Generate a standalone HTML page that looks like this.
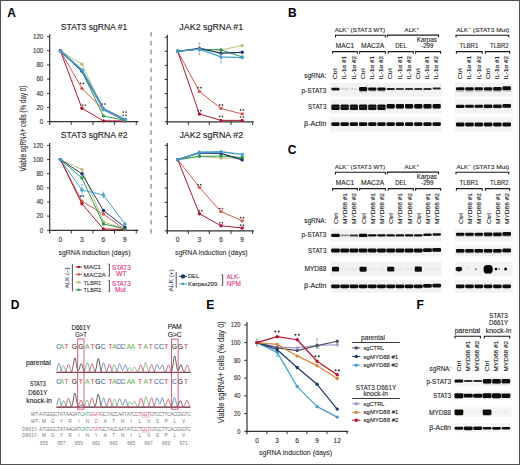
<!DOCTYPE html>
<html><head><meta charset="utf-8"><style>
html,body{margin:0;padding:0;background:#fff;}
svg{display:block;}
text{font-family:"Liberation Sans", sans-serif;}
</style></head><body>
<svg width="520" height="465" viewBox="0 0 520 465">
<defs><filter id="bl" x="-20%" y="-50%" width="140%" height="200%"><feGaussianBlur stdDeviation="0.35"/></filter><linearGradient id="sm" x1="0" y1="0" x2="0" y2="1"><stop offset="0" stop-color="#222" stop-opacity="0.7"/><stop offset="1" stop-color="#222" stop-opacity="0"/></linearGradient><filter id="bl2" x="-5%" y="-20%" width="110%" height="140%"><feGaussianBlur stdDeviation="0.6"/></filter></defs>
<rect x="0" y="0" width="520" height="465" fill="#fff"/>
<text x="7.20" y="17.00" font-size="12" fill="#000" font-weight="bold">A</text>
<text x="288.00" y="17.00" font-size="12" fill="#000" font-weight="bold">B</text>
<text x="287.80" y="154.30" font-size="12" fill="#000" font-weight="bold">C</text>
<text x="10.70" y="308.80" font-size="12" fill="#000" font-weight="bold">D</text>
<text x="206.30" y="308.80" font-size="12" fill="#000" font-weight="bold">E</text>
<text x="416.50" y="308.80" font-size="12" fill="#000" font-weight="bold">F</text>
<line x1="49.70" y1="34.22" x2="49.70" y2="124.90" stroke="#333" stroke-width="1.2"/>
<line x1="49.10" y1="121.70" x2="138.40" y2="121.70" stroke="#333" stroke-width="1.2"/>
<line x1="47.10" y1="121.70" x2="49.70" y2="121.70" stroke="#231f20" stroke-width="0.9"/>
<text x="43.30" y="123.90" font-size="6.4" text-anchor="end" fill="#333" stroke="#333" stroke-width="0.12" textLength="3.43" lengthAdjust="spacingAndGlyphs">0</text>
<line x1="47.10" y1="107.52" x2="49.70" y2="107.52" stroke="#231f20" stroke-width="0.9"/>
<text x="43.30" y="109.72" font-size="6.4" text-anchor="end" fill="#333" stroke="#333" stroke-width="0.12" textLength="6.86" lengthAdjust="spacingAndGlyphs">20</text>
<line x1="47.10" y1="93.34" x2="49.70" y2="93.34" stroke="#231f20" stroke-width="0.9"/>
<text x="43.30" y="95.54" font-size="6.4" text-anchor="end" fill="#333" stroke="#333" stroke-width="0.12" textLength="6.86" lengthAdjust="spacingAndGlyphs">40</text>
<line x1="47.10" y1="79.16" x2="49.70" y2="79.16" stroke="#231f20" stroke-width="0.9"/>
<text x="43.30" y="81.36" font-size="6.4" text-anchor="end" fill="#333" stroke="#333" stroke-width="0.12" textLength="6.86" lengthAdjust="spacingAndGlyphs">60</text>
<line x1="47.10" y1="64.98" x2="49.70" y2="64.98" stroke="#231f20" stroke-width="0.9"/>
<text x="43.30" y="67.18" font-size="6.4" text-anchor="end" fill="#333" stroke="#333" stroke-width="0.12" textLength="6.86" lengthAdjust="spacingAndGlyphs">80</text>
<line x1="47.10" y1="50.80" x2="49.70" y2="50.80" stroke="#231f20" stroke-width="0.9"/>
<text x="43.30" y="53.00" font-size="6.4" text-anchor="end" fill="#333" stroke="#333" stroke-width="0.12" textLength="10.29" lengthAdjust="spacingAndGlyphs">100</text>
<line x1="47.10" y1="36.62" x2="49.70" y2="36.62" stroke="#231f20" stroke-width="0.9"/>
<text x="43.30" y="38.82" font-size="6.4" text-anchor="end" fill="#333" stroke="#333" stroke-width="0.12" textLength="10.29" lengthAdjust="spacingAndGlyphs">120</text>
<line x1="71.30" y1="121.70" x2="71.30" y2="124.90" stroke="#231f20" stroke-width="0.9"/>
<line x1="92.90" y1="121.70" x2="92.90" y2="124.90" stroke="#231f20" stroke-width="0.9"/>
<line x1="114.50" y1="121.70" x2="114.50" y2="124.90" stroke="#231f20" stroke-width="0.9"/>
<line x1="136.30" y1="121.70" x2="136.30" y2="124.90" stroke="#231f20" stroke-width="0.9"/>
<polyline points="60.40,50.80 81.90,88.38 103.40,109.65 124.90,120.64" fill="none" stroke="#d25a52" stroke-width="1.0" stroke-linejoin="round"/>
<circle cx="60.40" cy="50.80" r="1.7" fill="#d25a52"/>
<circle cx="81.90" cy="88.38" r="1.7" fill="#d25a52"/>
<circle cx="103.40" cy="109.65" r="1.7" fill="#d25a52"/>
<circle cx="124.90" cy="120.64" r="1.7" fill="#d25a52"/>
<polyline points="60.40,50.80 81.90,108.23 103.40,120.85 124.90,120.99" fill="none" stroke="#ac1832" stroke-width="1.0" stroke-linejoin="round"/>
<circle cx="60.40" cy="50.80" r="1.7" fill="#ac1832"/>
<circle cx="81.90" cy="108.23" r="1.7" fill="#ac1832"/>
<circle cx="103.40" cy="120.85" r="1.7" fill="#ac1832"/>
<circle cx="124.90" cy="120.99" r="1.7" fill="#ac1832"/>
<polyline points="60.40,50.80 81.90,64.27 103.40,109.65 124.90,120.28" fill="none" stroke="#bcc07a" stroke-width="1.0" stroke-linejoin="round"/>
<circle cx="60.40" cy="50.80" r="1.7" fill="#bcc07a"/>
<circle cx="81.90" cy="64.27" r="1.7" fill="#bcc07a"/>
<circle cx="103.40" cy="109.65" r="1.7" fill="#bcc07a"/>
<circle cx="124.90" cy="120.28" r="1.7" fill="#bcc07a"/>
<polyline points="60.40,50.80 81.90,71.36 103.40,116.03 124.90,120.28" fill="none" stroke="#2f9a50" stroke-width="1.0" stroke-linejoin="round"/>
<circle cx="60.40" cy="50.80" r="1.7" fill="#2f9a50"/>
<circle cx="81.90" cy="71.36" r="1.7" fill="#2f9a50"/>
<circle cx="103.40" cy="116.03" r="1.7" fill="#2f9a50"/>
<circle cx="124.90" cy="120.28" r="1.7" fill="#2f9a50"/>
<polyline points="60.40,50.80 81.90,70.65 103.40,108.94 124.90,119.57" fill="none" stroke="#1c3a6c" stroke-width="1.6" stroke-linejoin="round"/>
<circle cx="60.40" cy="50.80" r="1.7" fill="#1c3a6c"/>
<circle cx="81.90" cy="70.65" r="1.7" fill="#1c3a6c"/>
<circle cx="103.40" cy="108.94" r="1.7" fill="#1c3a6c"/>
<circle cx="124.90" cy="119.57" r="1.7" fill="#1c3a6c"/>
<polyline points="60.40,50.80 81.90,69.94 103.40,108.94 124.90,119.57" fill="none" stroke="#47a0d2" stroke-width="1.6" stroke-linejoin="round"/>
<circle cx="60.40" cy="50.80" r="1.7" fill="#47a0d2"/>
<circle cx="81.90" cy="69.94" r="1.7" fill="#47a0d2"/>
<circle cx="103.40" cy="108.94" r="1.7" fill="#47a0d2"/>
<circle cx="124.90" cy="119.57" r="1.7" fill="#47a0d2"/>
<circle cx="82.60" cy="105.00" r="0.85" fill="#4a3038"/><circle cx="85.40" cy="105.00" r="0.85" fill="#4a3038"/>
<circle cx="80.60" cy="83.40" r="0.85" fill="#4a3038"/><circle cx="83.40" cy="83.40" r="0.85" fill="#4a3038"/>
<circle cx="102.10" cy="104.00" r="0.85" fill="#4a3038"/><circle cx="104.90" cy="104.00" r="0.85" fill="#4a3038"/>
<circle cx="123.20" cy="112.00" r="0.85" fill="#4a3038"/><circle cx="126.00" cy="112.00" r="0.85" fill="#4a3038"/>
<circle cx="123.20" cy="115.30" r="0.85" fill="#4a3038"/><circle cx="126.00" cy="115.30" r="0.85" fill="#4a3038"/>
<text x="60.80" y="29.50" font-size="9.0" fill="#222" stroke="#222" stroke-width="0.12" textLength="66.50" lengthAdjust="spacingAndGlyphs">STAT3 sgRNA #1</text>
<line x1="49.70" y1="143.06" x2="49.70" y2="233.50" stroke="#333" stroke-width="1.2"/>
<line x1="49.10" y1="230.30" x2="138.40" y2="230.30" stroke="#333" stroke-width="1.2"/>
<line x1="47.10" y1="230.30" x2="49.70" y2="230.30" stroke="#231f20" stroke-width="0.9"/>
<text x="43.30" y="232.50" font-size="6.4" text-anchor="end" fill="#333" stroke="#333" stroke-width="0.12" textLength="3.43" lengthAdjust="spacingAndGlyphs">0</text>
<line x1="47.10" y1="216.16" x2="49.70" y2="216.16" stroke="#231f20" stroke-width="0.9"/>
<text x="43.30" y="218.36" font-size="6.4" text-anchor="end" fill="#333" stroke="#333" stroke-width="0.12" textLength="6.86" lengthAdjust="spacingAndGlyphs">20</text>
<line x1="47.10" y1="202.02" x2="49.70" y2="202.02" stroke="#231f20" stroke-width="0.9"/>
<text x="43.30" y="204.22" font-size="6.4" text-anchor="end" fill="#333" stroke="#333" stroke-width="0.12" textLength="6.86" lengthAdjust="spacingAndGlyphs">40</text>
<line x1="47.10" y1="187.88" x2="49.70" y2="187.88" stroke="#231f20" stroke-width="0.9"/>
<text x="43.30" y="190.08" font-size="6.4" text-anchor="end" fill="#333" stroke="#333" stroke-width="0.12" textLength="6.86" lengthAdjust="spacingAndGlyphs">60</text>
<line x1="47.10" y1="173.74" x2="49.70" y2="173.74" stroke="#231f20" stroke-width="0.9"/>
<text x="43.30" y="175.94" font-size="6.4" text-anchor="end" fill="#333" stroke="#333" stroke-width="0.12" textLength="6.86" lengthAdjust="spacingAndGlyphs">80</text>
<line x1="47.10" y1="159.60" x2="49.70" y2="159.60" stroke="#231f20" stroke-width="0.9"/>
<text x="43.30" y="161.80" font-size="6.4" text-anchor="end" fill="#333" stroke="#333" stroke-width="0.12" textLength="10.29" lengthAdjust="spacingAndGlyphs">100</text>
<line x1="47.10" y1="145.46" x2="49.70" y2="145.46" stroke="#231f20" stroke-width="0.9"/>
<text x="43.30" y="147.66" font-size="6.4" text-anchor="end" fill="#333" stroke="#333" stroke-width="0.12" textLength="10.29" lengthAdjust="spacingAndGlyphs">120</text>
<line x1="71.30" y1="230.30" x2="71.30" y2="233.50" stroke="#231f20" stroke-width="0.9"/>
<line x1="92.90" y1="230.30" x2="92.90" y2="233.50" stroke="#231f20" stroke-width="0.9"/>
<line x1="114.50" y1="230.30" x2="114.50" y2="233.50" stroke="#231f20" stroke-width="0.9"/>
<line x1="136.30" y1="230.30" x2="136.30" y2="233.50" stroke="#231f20" stroke-width="0.9"/>
<polyline points="60.40,159.60 81.90,201.31 103.40,214.04 124.90,229.59" fill="none" stroke="#d25a52" stroke-width="1.0" stroke-linejoin="round"/>
<circle cx="60.40" cy="159.60" r="1.7" fill="#d25a52"/>
<circle cx="81.90" cy="201.31" r="1.7" fill="#d25a52"/>
<circle cx="103.40" cy="214.04" r="1.7" fill="#d25a52"/>
<circle cx="124.90" cy="229.59" r="1.7" fill="#d25a52"/>
<polyline points="60.40,159.60 81.90,203.79 103.40,228.89 124.90,229.59" fill="none" stroke="#ac1832" stroke-width="1.0" stroke-linejoin="round"/>
<circle cx="60.40" cy="159.60" r="1.7" fill="#ac1832"/>
<circle cx="81.90" cy="203.79" r="1.7" fill="#ac1832"/>
<circle cx="103.40" cy="228.89" r="1.7" fill="#ac1832"/>
<circle cx="124.90" cy="229.59" r="1.7" fill="#ac1832"/>
<polyline points="60.40,159.60 81.90,169.50 103.40,221.82 124.90,228.89" fill="none" stroke="#bcc07a" stroke-width="1.0" stroke-linejoin="round"/>
<circle cx="60.40" cy="159.60" r="1.7" fill="#bcc07a"/>
<circle cx="81.90" cy="169.50" r="1.7" fill="#bcc07a"/>
<circle cx="103.40" cy="221.82" r="1.7" fill="#bcc07a"/>
<circle cx="124.90" cy="228.89" r="1.7" fill="#bcc07a"/>
<polyline points="60.40,159.60 81.90,177.98 103.40,223.94 124.90,228.89" fill="none" stroke="#2f9a50" stroke-width="1.0" stroke-linejoin="round"/>
<circle cx="60.40" cy="159.60" r="1.7" fill="#2f9a50"/>
<circle cx="81.90" cy="177.98" r="1.7" fill="#2f9a50"/>
<circle cx="103.40" cy="223.94" r="1.7" fill="#2f9a50"/>
<circle cx="124.90" cy="228.89" r="1.7" fill="#2f9a50"/>
<polyline points="60.40,159.60 81.90,173.74 103.40,210.50 124.90,227.12" fill="none" stroke="#1c3a6c" stroke-width="1.0" stroke-linejoin="round"/>
<circle cx="60.40" cy="159.60" r="1.7" fill="#1c3a6c"/>
<circle cx="81.90" cy="173.74" r="1.7" fill="#1c3a6c"/>
<circle cx="103.40" cy="210.50" r="1.7" fill="#1c3a6c"/>
<circle cx="124.90" cy="227.12" r="1.7" fill="#1c3a6c"/>
<polyline points="60.40,159.60 81.90,190.00 103.40,194.95 124.90,223.94" fill="none" stroke="#47a0d2" stroke-width="1.0" stroke-linejoin="round"/>
<circle cx="60.40" cy="159.60" r="1.7" fill="#47a0d2"/>
<circle cx="81.90" cy="190.00" r="1.7" fill="#47a0d2"/>
<circle cx="103.40" cy="194.95" r="1.7" fill="#47a0d2"/>
<circle cx="124.90" cy="223.94" r="1.7" fill="#47a0d2"/>
<circle cx="80.50" cy="196.20" r="0.85" fill="#4a3038"/><circle cx="83.30" cy="196.20" r="0.85" fill="#4a3038"/>
<line x1="81.90" y1="195.66" x2="81.90" y2="184.34" stroke="#47a0d2" stroke-width="0.6"/>
<line x1="80.90" y1="195.66" x2="82.90" y2="195.66" stroke="#47a0d2" stroke-width="0.6"/>
<line x1="80.90" y1="184.34" x2="82.90" y2="184.34" stroke="#47a0d2" stroke-width="0.6"/>
<line x1="103.40" y1="197.78" x2="103.40" y2="192.12" stroke="#47a0d2" stroke-width="0.6"/>
<line x1="102.40" y1="197.78" x2="104.40" y2="197.78" stroke="#47a0d2" stroke-width="0.6"/>
<line x1="102.40" y1="192.12" x2="104.40" y2="192.12" stroke="#47a0d2" stroke-width="0.6"/>
<text x="60.80" y="137.60" font-size="9.0" fill="#222" stroke="#222" stroke-width="0.12" textLength="66.80" lengthAdjust="spacingAndGlyphs">STAT3 sgRNA #2</text>
<line x1="167.30" y1="34.80" x2="167.30" y2="125.00" stroke="#333" stroke-width="1.2"/>
<line x1="166.70" y1="121.80" x2="253.80" y2="121.80" stroke="#333" stroke-width="1.2"/>
<line x1="164.70" y1="121.80" x2="167.30" y2="121.80" stroke="#231f20" stroke-width="0.9"/>
<line x1="164.70" y1="107.70" x2="167.30" y2="107.70" stroke="#231f20" stroke-width="0.9"/>
<line x1="164.70" y1="93.60" x2="167.30" y2="93.60" stroke="#231f20" stroke-width="0.9"/>
<line x1="164.70" y1="79.50" x2="167.30" y2="79.50" stroke="#231f20" stroke-width="0.9"/>
<line x1="164.70" y1="65.40" x2="167.30" y2="65.40" stroke="#231f20" stroke-width="0.9"/>
<line x1="164.70" y1="51.30" x2="167.30" y2="51.30" stroke="#231f20" stroke-width="0.9"/>
<line x1="164.70" y1="37.20" x2="167.30" y2="37.20" stroke="#231f20" stroke-width="0.9"/>
<line x1="188.30" y1="121.80" x2="188.30" y2="125.00" stroke="#231f20" stroke-width="0.9"/>
<line x1="209.30" y1="121.80" x2="209.30" y2="125.00" stroke="#231f20" stroke-width="0.9"/>
<line x1="231.00" y1="121.80" x2="231.00" y2="125.00" stroke="#231f20" stroke-width="0.9"/>
<line x1="252.60" y1="121.80" x2="252.60" y2="125.00" stroke="#231f20" stroke-width="0.9"/>
<polyline points="177.70,51.30 199.40,91.48 221.00,108.41 242.20,114.05" fill="none" stroke="#d25a52" stroke-width="1.0" stroke-linejoin="round"/>
<circle cx="177.70" cy="51.30" r="1.7" fill="#d25a52"/>
<circle cx="199.40" cy="91.48" r="1.7" fill="#d25a52"/>
<circle cx="221.00" cy="108.41" r="1.7" fill="#d25a52"/>
<circle cx="242.20" cy="114.05" r="1.7" fill="#d25a52"/>
<polyline points="177.70,51.30 199.40,114.05 221.00,120.39 242.20,120.39" fill="none" stroke="#ac1832" stroke-width="1.0" stroke-linejoin="round"/>
<circle cx="177.70" cy="51.30" r="1.7" fill="#ac1832"/>
<circle cx="199.40" cy="114.05" r="1.7" fill="#ac1832"/>
<circle cx="221.00" cy="120.39" r="1.7" fill="#ac1832"/>
<circle cx="242.20" cy="120.39" r="1.7" fill="#ac1832"/>
<polyline points="177.70,51.30 199.40,49.19 221.00,49.89 242.20,45.66" fill="none" stroke="#bcc07a" stroke-width="1.0" stroke-linejoin="round"/>
<circle cx="177.70" cy="51.30" r="1.7" fill="#bcc07a"/>
<circle cx="199.40" cy="49.19" r="1.7" fill="#bcc07a"/>
<circle cx="221.00" cy="49.89" r="1.7" fill="#bcc07a"/>
<circle cx="242.20" cy="45.66" r="1.7" fill="#bcc07a"/>
<polyline points="177.70,51.30 199.40,49.19 221.00,49.89 242.20,56.94" fill="none" stroke="#2f9a50" stroke-width="1.0" stroke-linejoin="round"/>
<circle cx="177.70" cy="51.30" r="1.7" fill="#2f9a50"/>
<circle cx="199.40" cy="49.19" r="1.7" fill="#2f9a50"/>
<circle cx="221.00" cy="49.89" r="1.7" fill="#2f9a50"/>
<circle cx="242.20" cy="56.94" r="1.7" fill="#2f9a50"/>
<polyline points="177.70,51.30 199.40,48.48 221.00,53.13 242.20,52.29" fill="none" stroke="#1c3a6c" stroke-width="1.3" stroke-linejoin="round"/>
<circle cx="177.70" cy="51.30" r="1.7" fill="#1c3a6c"/>
<circle cx="199.40" cy="48.48" r="1.7" fill="#1c3a6c"/>
<circle cx="221.00" cy="53.13" r="1.7" fill="#1c3a6c"/>
<circle cx="242.20" cy="52.29" r="1.7" fill="#1c3a6c"/>
<polyline points="177.70,51.30 199.40,49.19 221.00,56.94 242.20,57.64" fill="none" stroke="#47a0d2" stroke-width="1.3" stroke-linejoin="round"/>
<circle cx="177.70" cy="51.30" r="1.7" fill="#47a0d2"/>
<circle cx="199.40" cy="49.19" r="1.7" fill="#47a0d2"/>
<circle cx="221.00" cy="56.94" r="1.7" fill="#47a0d2"/>
<circle cx="242.20" cy="57.64" r="1.7" fill="#47a0d2"/>
<circle cx="198.10" cy="87.70" r="0.85" fill="#4a3038"/><circle cx="200.90" cy="87.70" r="0.85" fill="#4a3038"/>
<circle cx="198.10" cy="110.70" r="0.85" fill="#4a3038"/><circle cx="200.90" cy="110.70" r="0.85" fill="#4a3038"/>
<circle cx="219.60" cy="104.90" r="0.85" fill="#4a3038"/><circle cx="222.40" cy="104.90" r="0.85" fill="#4a3038"/>
<circle cx="219.60" cy="116.30" r="0.85" fill="#4a3038"/><circle cx="222.40" cy="116.30" r="0.85" fill="#4a3038"/>
<circle cx="240.60" cy="109.90" r="0.85" fill="#4a3038"/><circle cx="243.40" cy="109.90" r="0.85" fill="#4a3038"/>
<circle cx="240.60" cy="117.00" r="0.85" fill="#4a3038"/><circle cx="243.40" cy="117.00" r="0.85" fill="#4a3038"/>
<line x1="199.40" y1="54.83" x2="199.40" y2="42.84" stroke="#888" stroke-width="0.6"/>
<line x1="198.40" y1="54.83" x2="200.40" y2="54.83" stroke="#888" stroke-width="0.6"/>
<line x1="198.40" y1="42.84" x2="200.40" y2="42.84" stroke="#888" stroke-width="0.6"/>
<line x1="221.00" y1="62.58" x2="221.00" y2="53.42" stroke="#47a0d2" stroke-width="0.6"/>
<line x1="220.00" y1="62.58" x2="222.00" y2="62.58" stroke="#47a0d2" stroke-width="0.6"/>
<line x1="220.00" y1="53.42" x2="222.00" y2="53.42" stroke="#47a0d2" stroke-width="0.6"/>
<text x="179.30" y="29.50" font-size="9.0" fill="#222" stroke="#222" stroke-width="0.12" textLength="64.00" lengthAdjust="spacingAndGlyphs">JAK2 sgRNA #1</text>
<line x1="167.30" y1="142.96" x2="167.30" y2="234.00" stroke="#333" stroke-width="1.2"/>
<line x1="166.70" y1="230.80" x2="253.80" y2="230.80" stroke="#333" stroke-width="1.2"/>
<line x1="164.70" y1="230.80" x2="167.30" y2="230.80" stroke="#231f20" stroke-width="0.9"/>
<line x1="164.70" y1="216.56" x2="167.30" y2="216.56" stroke="#231f20" stroke-width="0.9"/>
<line x1="164.70" y1="202.32" x2="167.30" y2="202.32" stroke="#231f20" stroke-width="0.9"/>
<line x1="164.70" y1="188.08" x2="167.30" y2="188.08" stroke="#231f20" stroke-width="0.9"/>
<line x1="164.70" y1="173.84" x2="167.30" y2="173.84" stroke="#231f20" stroke-width="0.9"/>
<line x1="164.70" y1="159.60" x2="167.30" y2="159.60" stroke="#231f20" stroke-width="0.9"/>
<line x1="164.70" y1="145.36" x2="167.30" y2="145.36" stroke="#231f20" stroke-width="0.9"/>
<line x1="188.30" y1="230.80" x2="188.30" y2="234.00" stroke="#231f20" stroke-width="0.9"/>
<line x1="209.30" y1="230.80" x2="209.30" y2="234.00" stroke="#231f20" stroke-width="0.9"/>
<line x1="231.00" y1="230.80" x2="231.00" y2="234.00" stroke="#231f20" stroke-width="0.9"/>
<line x1="252.60" y1="230.80" x2="252.60" y2="234.00" stroke="#231f20" stroke-width="0.9"/>
<polyline points="177.70,159.60 199.40,187.37 221.00,211.58 242.20,220.83" fill="none" stroke="#d25a52" stroke-width="1.0" stroke-linejoin="round"/>
<circle cx="177.70" cy="159.60" r="1.7" fill="#d25a52"/>
<circle cx="199.40" cy="187.37" r="1.7" fill="#d25a52"/>
<circle cx="221.00" cy="211.58" r="1.7" fill="#d25a52"/>
<circle cx="242.20" cy="220.83" r="1.7" fill="#d25a52"/>
<polyline points="177.70,159.60 199.40,213.71 221.00,225.82 242.20,227.95" fill="none" stroke="#ac1832" stroke-width="1.0" stroke-linejoin="round"/>
<circle cx="177.70" cy="159.60" r="1.7" fill="#ac1832"/>
<circle cx="199.40" cy="213.71" r="1.7" fill="#ac1832"/>
<circle cx="221.00" cy="225.82" r="1.7" fill="#ac1832"/>
<circle cx="242.20" cy="227.95" r="1.7" fill="#ac1832"/>
<polyline points="177.70,159.60 199.40,156.47 221.00,158.03 242.20,158.32" fill="none" stroke="#bcc07a" stroke-width="1.0" stroke-linejoin="round"/>
<circle cx="177.70" cy="159.60" r="1.7" fill="#bcc07a"/>
<circle cx="199.40" cy="156.47" r="1.7" fill="#bcc07a"/>
<circle cx="221.00" cy="158.03" r="1.7" fill="#bcc07a"/>
<circle cx="242.20" cy="158.32" r="1.7" fill="#bcc07a"/>
<polyline points="177.70,159.60 199.40,156.32 221.00,156.04 242.20,157.46" fill="none" stroke="#2f9a50" stroke-width="1.0" stroke-linejoin="round"/>
<circle cx="177.70" cy="159.60" r="1.7" fill="#2f9a50"/>
<circle cx="199.40" cy="156.32" r="1.7" fill="#2f9a50"/>
<circle cx="221.00" cy="156.04" r="1.7" fill="#2f9a50"/>
<circle cx="242.20" cy="157.46" r="1.7" fill="#2f9a50"/>
<polyline points="177.70,159.60 199.40,152.98 221.00,153.41 242.20,159.88" fill="none" stroke="#1c3a6c" stroke-width="1.3" stroke-linejoin="round"/>
<circle cx="177.70" cy="159.60" r="1.7" fill="#1c3a6c"/>
<circle cx="199.40" cy="152.98" r="1.7" fill="#1c3a6c"/>
<circle cx="221.00" cy="153.41" r="1.7" fill="#1c3a6c"/>
<circle cx="242.20" cy="159.88" r="1.7" fill="#1c3a6c"/>
<polyline points="177.70,159.60 199.40,152.27 221.00,151.77 242.20,154.40" fill="none" stroke="#47a0d2" stroke-width="1.3" stroke-linejoin="round"/>
<circle cx="177.70" cy="159.60" r="1.7" fill="#47a0d2"/>
<circle cx="199.40" cy="152.27" r="1.7" fill="#47a0d2"/>
<circle cx="221.00" cy="151.77" r="1.7" fill="#47a0d2"/>
<circle cx="242.20" cy="154.40" r="1.7" fill="#47a0d2"/>
<circle cx="198.00" cy="184.70" r="0.85" fill="#4a3038"/><circle cx="200.80" cy="184.70" r="0.85" fill="#4a3038"/>
<circle cx="199.10" cy="210.70" r="0.85" fill="#4a3038"/><circle cx="201.90" cy="210.70" r="0.85" fill="#4a3038"/>
<circle cx="219.60" cy="208.50" r="0.85" fill="#4a3038"/><circle cx="222.40" cy="208.50" r="0.85" fill="#4a3038"/>
<circle cx="219.60" cy="222.80" r="0.85" fill="#4a3038"/><circle cx="222.40" cy="222.80" r="0.85" fill="#4a3038"/>
<circle cx="240.60" cy="217.70" r="0.85" fill="#4a3038"/><circle cx="243.40" cy="217.70" r="0.85" fill="#4a3038"/>
<circle cx="240.60" cy="225.10" r="0.85" fill="#4a3038"/><circle cx="243.40" cy="225.10" r="0.85" fill="#4a3038"/>
<text x="179.40" y="137.60" font-size="9.0" fill="#222" stroke="#222" stroke-width="0.12" textLength="63.70" lengthAdjust="spacingAndGlyphs">JAK2 sgRNA #2</text>
<text x="60.40" y="242.20" font-size="6.6" text-anchor="middle" fill="#333" stroke="#333" stroke-width="0.12">0</text>
<text x="177.70" y="242.20" font-size="6.6" text-anchor="middle" fill="#333" stroke="#333" stroke-width="0.12">0</text>
<text x="81.90" y="242.20" font-size="6.6" text-anchor="middle" fill="#333" stroke="#333" stroke-width="0.12">3</text>
<text x="199.40" y="242.20" font-size="6.6" text-anchor="middle" fill="#333" stroke="#333" stroke-width="0.12">3</text>
<text x="103.40" y="242.20" font-size="6.6" text-anchor="middle" fill="#333" stroke="#333" stroke-width="0.12">6</text>
<text x="221.00" y="242.20" font-size="6.6" text-anchor="middle" fill="#333" stroke="#333" stroke-width="0.12">6</text>
<text x="124.90" y="242.20" font-size="6.6" text-anchor="middle" fill="#333" stroke="#333" stroke-width="0.12">9</text>
<text x="242.20" y="242.20" font-size="6.6" text-anchor="middle" fill="#333" stroke="#333" stroke-width="0.12">9</text>
<text x="58.60" y="254.50" font-size="7.6" fill="#333" stroke="#333" stroke-width="0.12" textLength="72.00" lengthAdjust="spacingAndGlyphs">sgRNA induction (days)</text>
<text x="175.00" y="254.50" font-size="7.6" fill="#333" stroke="#333" stroke-width="0.12" textLength="72.70" lengthAdjust="spacingAndGlyphs">sgRNA induction (days)</text>
<text x="26.00" y="171.40" font-size="8.2" fill="#333" stroke="#333" stroke-width="0.12" textLength="85.80" lengthAdjust="spacingAndGlyphs" transform="rotate(-90 26.00 171.40)">Viable sgRNA+ cells (% day 0)</text>
<line x1="151.10" y1="31.90" x2="151.10" y2="233.40" stroke="#999" stroke-width="1.4" stroke-dasharray="4.6 4.35"/>
<text x="68.70" y="288.60" font-size="5.6" fill="#3f5276" stroke="#3f5276" stroke-width="0.12" textLength="21.10" lengthAdjust="spacingAndGlyphs" transform="rotate(-90 68.70 288.60)">ALK (–)</text>
<line x1="72.40" y1="264.00" x2="72.40" y2="291.40" stroke="#333" stroke-width="0.85"/>
<line x1="75.40" y1="267.00" x2="82.00" y2="267.00" stroke="#ac1832" stroke-width="1"/>
<circle cx="78.7" cy="267" r="1.3" fill="#ac1832"/>
<text x="83.60" y="269.20" font-size="6.2" fill="#333" stroke="#333" stroke-width="0.12" textLength="17.50" lengthAdjust="spacingAndGlyphs">MAC1</text>
<line x1="75.40" y1="274.40" x2="82.00" y2="274.40" stroke="#d25a52" stroke-width="1"/>
<circle cx="78.7" cy="274.4" r="1.3" fill="#d25a52"/>
<text x="83.60" y="276.60" font-size="6.2" fill="#333" stroke="#333" stroke-width="0.12" textLength="22.30" lengthAdjust="spacingAndGlyphs">MAC2A</text>
<line x1="75.40" y1="282.30" x2="82.00" y2="282.30" stroke="#bcc07a" stroke-width="1"/>
<circle cx="78.7" cy="282.3" r="1.3" fill="#bcc07a"/>
<text x="83.60" y="284.50" font-size="6.2" fill="#333" stroke="#333" stroke-width="0.12" textLength="17.50" lengthAdjust="spacingAndGlyphs">TLBR1</text>
<line x1="75.40" y1="289.80" x2="82.00" y2="289.80" stroke="#2f9a50" stroke-width="1"/>
<circle cx="78.7" cy="289.8" r="1.3" fill="#2f9a50"/>
<text x="83.60" y="292.00" font-size="6.2" fill="#333" stroke="#333" stroke-width="0.12" textLength="17.50" lengthAdjust="spacingAndGlyphs">TLBR2</text>
<path d="M108.2 264.1 H109.4 V276.2 H108.2" fill="none" stroke="#333" stroke-width="0.85"/>
<path d="M108.2 280.3 H109.4 V291.6 H108.2" fill="none" stroke="#333" stroke-width="0.85"/>
<text x="111.90" y="269.60" font-size="6.6" fill="#e0388a" stroke="#e0388a" stroke-width="0.12" textLength="18.90" lengthAdjust="spacingAndGlyphs">STAT3</text>
<text x="121.30" y="275.70" font-size="6.6" text-anchor="middle" fill="#e0388a" stroke="#e0388a" stroke-width="0.12" textLength="10.60" lengthAdjust="spacingAndGlyphs">WT</text>
<text x="111.90" y="286.00" font-size="6.6" fill="#e0388a" stroke="#e0388a" stroke-width="0.12" textLength="18.90" lengthAdjust="spacingAndGlyphs">STAT3</text>
<text x="120.50" y="291.60" font-size="6.6" text-anchor="middle" fill="#e0388a" stroke="#e0388a" stroke-width="0.12" textLength="10.80" lengthAdjust="spacingAndGlyphs">Mut</text>
<text x="172.70" y="291.50" font-size="6.0" fill="#3f5276" stroke="#3f5276" stroke-width="0.12" textLength="22.30" lengthAdjust="spacingAndGlyphs" transform="rotate(-90 172.70 291.50)">ALK (+)</text>
<line x1="176.20" y1="272.10" x2="176.20" y2="287.60" stroke="#333" stroke-width="0.85"/>
<line x1="179.20" y1="276.40" x2="187.00" y2="276.40" stroke="#1c3a6c" stroke-width="1"/>
<circle cx="183" cy="276.4" r="2.2" fill="#1c3a6c"/>
<text x="188.00" y="278.40" font-size="6.2" fill="#333" stroke="#333" stroke-width="0.12" textLength="11.10" lengthAdjust="spacingAndGlyphs">DEL</text>
<line x1="179.20" y1="283.90" x2="187.00" y2="283.90" stroke="#47a0d2" stroke-width="1"/>
<circle cx="183" cy="283.9" r="1.4" fill="#47a0d2"/>
<text x="188.00" y="285.90" font-size="6.2" fill="#333" stroke="#333" stroke-width="0.12" textLength="29.30" lengthAdjust="spacingAndGlyphs">Karpas299</text>
<path d="M221.5 274.6 H222.7 V285.6 H221.5" fill="none" stroke="#333" stroke-width="0.85"/>
<text x="226.50" y="279.20" font-size="6.5" fill="#e0388a" stroke="#e0388a" stroke-width="0.12" textLength="13.60" lengthAdjust="spacingAndGlyphs">ALK-</text>
<text x="226.50" y="285.90" font-size="6.5" fill="#e0388a" stroke="#e0388a" stroke-width="0.12" textLength="14.50" lengthAdjust="spacingAndGlyphs">NPM</text>
<rect x="330.00" y="83.00" width="111.60" height="13.60" fill="#f2f2f2" filter="url(#bl2)"/>
<rect x="455.00" y="83.00" width="57.80" height="13.60" fill="#f2f2f2" filter="url(#bl2)"/>
<rect x="330.00" y="99.60" width="111.60" height="13.80" fill="#f2f2f2" filter="url(#bl2)"/>
<rect x="455.00" y="99.60" width="57.80" height="13.80" fill="#f2f2f2" filter="url(#bl2)"/>
<rect x="330.00" y="117.00" width="111.60" height="14.40" fill="#f2f2f2" filter="url(#bl2)"/>
<rect x="455.00" y="117.00" width="57.80" height="14.40" fill="#f2f2f2" filter="url(#bl2)"/>
<rect x="331.70" y="89.00" width="7.60" height="2.30" rx="1" fill="url(#sm)" fill-opacity="1.00" filter="url(#bl)"/>
<rect x="331.40" y="87.70" width="8.20" height="2.60" rx="1.30" ry="1.10" fill="#101010" fill-opacity="1.00" filter="url(#bl)"/>
<rect x="340.60" y="88.30" width="8.20" height="1.40" rx="0.70" ry="0.70" fill="#101010" fill-opacity="0.15" filter="url(#bl)"/>
<rect x="349.80" y="88.30" width="8.20" height="1.40" rx="0.70" ry="0.70" fill="#101010" fill-opacity="0.12" filter="url(#bl)"/>
<rect x="359.30" y="89.00" width="7.60" height="4.10" rx="1" fill="url(#sm)" fill-opacity="1.00" filter="url(#bl)"/>
<rect x="359.00" y="87.10" width="8.20" height="3.80" rx="1.30" ry="1.10" fill="#101010" fill-opacity="1.00" filter="url(#bl)"/>
<rect x="368.50" y="89.00" width="7.60" height="3.00" rx="1" fill="url(#sm)" fill-opacity="1.00" filter="url(#bl)"/>
<rect x="368.20" y="87.40" width="8.20" height="3.20" rx="1.30" ry="1.10" fill="#101010" fill-opacity="1.00" filter="url(#bl)"/>
<rect x="377.70" y="89.00" width="7.60" height="3.00" rx="1" fill="url(#sm)" fill-opacity="1.00" filter="url(#bl)"/>
<rect x="377.40" y="87.40" width="8.20" height="3.20" rx="1.30" ry="1.10" fill="#101010" fill-opacity="1.00" filter="url(#bl)"/>
<rect x="386.90" y="89.00" width="7.60" height="1.70" rx="1" fill="url(#sm)" fill-opacity="0.90" filter="url(#bl)"/>
<rect x="386.60" y="87.90" width="8.20" height="2.20" rx="1.10" ry="1.10" fill="#101010" fill-opacity="0.90" filter="url(#bl)"/>
<rect x="395.80" y="88.10" width="8.20" height="1.80" rx="0.90" ry="0.90" fill="#101010" fill-opacity="0.80" filter="url(#bl)"/>
<rect x="405.00" y="88.00" width="8.20" height="2.00" rx="1.00" ry="1.00" fill="#101010" fill-opacity="0.85" filter="url(#bl)"/>
<rect x="414.20" y="88.00" width="8.20" height="2.00" rx="1.00" ry="1.00" fill="#101010" fill-opacity="0.85" filter="url(#bl)"/>
<rect x="423.40" y="88.00" width="8.20" height="2.00" rx="1.00" ry="1.00" fill="#101010" fill-opacity="0.85" filter="url(#bl)"/>
<rect x="432.60" y="87.60" width="8.20" height="2.00" rx="1.00" ry="1.00" fill="#101010" fill-opacity="0.90" filter="url(#bl)"/>
<rect x="456.20" y="88.70" width="8.00" height="4.00" rx="1" fill="url(#sm)" fill-opacity="1.00" filter="url(#bl)"/>
<rect x="455.90" y="87.30" width="8.60" height="2.80" rx="1.30" ry="1.10" fill="#101010" fill-opacity="1.00" filter="url(#bl)"/>
<rect x="465.50" y="88.70" width="8.00" height="4.10" rx="1" fill="url(#sm)" fill-opacity="1.00" filter="url(#bl)"/>
<rect x="465.20" y="87.20" width="8.60" height="3.00" rx="1.30" ry="1.10" fill="#101010" fill-opacity="1.00" filter="url(#bl)"/>
<rect x="474.80" y="88.70" width="8.00" height="4.00" rx="1" fill="url(#sm)" fill-opacity="1.00" filter="url(#bl)"/>
<rect x="474.50" y="87.30" width="8.60" height="2.80" rx="1.30" ry="1.10" fill="#101010" fill-opacity="1.00" filter="url(#bl)"/>
<rect x="484.10" y="88.70" width="8.00" height="3.90" rx="1" fill="url(#sm)" fill-opacity="1.00" filter="url(#bl)"/>
<rect x="483.80" y="87.20" width="8.60" height="3.00" rx="1.30" ry="1.10" fill="#101010" fill-opacity="1.00" filter="url(#bl)"/>
<rect x="493.40" y="88.70" width="8.00" height="4.10" rx="1" fill="url(#sm)" fill-opacity="1.00" filter="url(#bl)"/>
<rect x="493.10" y="87.00" width="8.60" height="3.40" rx="1.30" ry="1.10" fill="#101010" fill-opacity="1.00" filter="url(#bl)"/>
<rect x="502.70" y="88.20" width="8.00" height="4.10" rx="1" fill="url(#sm)" fill-opacity="1.00" filter="url(#bl)"/>
<rect x="502.40" y="86.30" width="8.60" height="3.80" rx="1.30" ry="1.10" fill="#101010" fill-opacity="1.00" filter="url(#bl)"/>
<rect x="331.70" y="107.20" width="7.60" height="3.40" rx="1" fill="url(#sm)" fill-opacity="1.00" filter="url(#bl)"/>
<rect x="331.40" y="104.40" width="8.20" height="5.60" rx="1.30" ry="1.10" fill="#101010" fill-opacity="1.00" filter="url(#bl)"/>
<rect x="340.90" y="107.20" width="7.60" height="3.40" rx="1" fill="url(#sm)" fill-opacity="1.00" filter="url(#bl)"/>
<rect x="340.60" y="104.40" width="8.20" height="5.60" rx="1.30" ry="1.10" fill="#101010" fill-opacity="1.00" filter="url(#bl)"/>
<rect x="350.10" y="107.20" width="7.60" height="3.40" rx="1" fill="url(#sm)" fill-opacity="1.00" filter="url(#bl)"/>
<rect x="349.80" y="104.40" width="8.20" height="5.60" rx="1.30" ry="1.10" fill="#101010" fill-opacity="1.00" filter="url(#bl)"/>
<rect x="359.30" y="107.20" width="7.60" height="3.40" rx="1" fill="url(#sm)" fill-opacity="1.00" filter="url(#bl)"/>
<rect x="359.00" y="104.40" width="8.20" height="5.60" rx="1.30" ry="1.10" fill="#101010" fill-opacity="1.00" filter="url(#bl)"/>
<rect x="368.50" y="107.20" width="7.60" height="3.40" rx="1" fill="url(#sm)" fill-opacity="1.00" filter="url(#bl)"/>
<rect x="368.20" y="104.40" width="8.20" height="5.60" rx="1.30" ry="1.10" fill="#101010" fill-opacity="1.00" filter="url(#bl)"/>
<rect x="377.70" y="107.20" width="7.60" height="3.40" rx="1" fill="url(#sm)" fill-opacity="1.00" filter="url(#bl)"/>
<rect x="377.40" y="104.40" width="8.20" height="5.60" rx="1.30" ry="1.10" fill="#101010" fill-opacity="1.00" filter="url(#bl)"/>
<rect x="386.90" y="106.20" width="7.60" height="3.40" rx="1" fill="url(#sm)" fill-opacity="1.00" filter="url(#bl)"/>
<rect x="386.60" y="104.00" width="8.20" height="4.40" rx="1.30" ry="1.10" fill="#101010" fill-opacity="1.00" filter="url(#bl)"/>
<rect x="396.10" y="106.20" width="7.60" height="3.40" rx="1" fill="url(#sm)" fill-opacity="1.00" filter="url(#bl)"/>
<rect x="395.80" y="104.00" width="8.20" height="4.40" rx="1.30" ry="1.10" fill="#101010" fill-opacity="1.00" filter="url(#bl)"/>
<rect x="405.30" y="106.20" width="7.60" height="3.40" rx="1" fill="url(#sm)" fill-opacity="1.00" filter="url(#bl)"/>
<rect x="405.00" y="104.00" width="8.20" height="4.40" rx="1.30" ry="1.10" fill="#101010" fill-opacity="1.00" filter="url(#bl)"/>
<rect x="414.50" y="106.20" width="7.60" height="3.40" rx="1" fill="url(#sm)" fill-opacity="1.00" filter="url(#bl)"/>
<rect x="414.20" y="104.00" width="8.20" height="4.40" rx="1.30" ry="1.10" fill="#101010" fill-opacity="1.00" filter="url(#bl)"/>
<rect x="423.70" y="106.20" width="7.60" height="3.40" rx="1" fill="url(#sm)" fill-opacity="1.00" filter="url(#bl)"/>
<rect x="423.40" y="104.00" width="8.20" height="4.40" rx="1.30" ry="1.10" fill="#101010" fill-opacity="1.00" filter="url(#bl)"/>
<rect x="432.90" y="106.20" width="7.60" height="3.40" rx="1" fill="url(#sm)" fill-opacity="1.00" filter="url(#bl)"/>
<rect x="432.60" y="104.00" width="8.20" height="4.40" rx="1.30" ry="1.10" fill="#101010" fill-opacity="1.00" filter="url(#bl)"/>
<rect x="331.90" y="106.7" width="7.2" height="0.7" fill="#3a3a3a" filter="url(#bl)"/>
<rect x="341.10" y="106.7" width="7.2" height="0.7" fill="#3a3a3a" filter="url(#bl)"/>
<rect x="350.30" y="106.7" width="7.2" height="0.7" fill="#3a3a3a" filter="url(#bl)"/>
<rect x="359.50" y="106.7" width="7.2" height="0.7" fill="#3a3a3a" filter="url(#bl)"/>
<rect x="368.70" y="106.7" width="7.2" height="0.7" fill="#3a3a3a" filter="url(#bl)"/>
<rect x="377.90" y="106.7" width="7.2" height="0.7" fill="#3a3a3a" filter="url(#bl)"/>
<rect x="456.20" y="106.30" width="8.00" height="2.20" rx="1" fill="url(#sm)" fill-opacity="1.00" filter="url(#bl)"/>
<rect x="455.90" y="104.70" width="8.60" height="3.20" rx="1.30" ry="1.10" fill="#101010" fill-opacity="1.00" filter="url(#bl)"/>
<rect x="465.50" y="106.30" width="8.00" height="2.10" rx="1" fill="url(#sm)" fill-opacity="1.00" filter="url(#bl)"/>
<rect x="465.20" y="104.80" width="8.60" height="3.00" rx="1.30" ry="1.10" fill="#101010" fill-opacity="1.00" filter="url(#bl)"/>
<rect x="474.80" y="106.30" width="8.00" height="2.10" rx="1" fill="url(#sm)" fill-opacity="1.00" filter="url(#bl)"/>
<rect x="474.50" y="104.80" width="8.60" height="3.00" rx="1.30" ry="1.10" fill="#101010" fill-opacity="1.00" filter="url(#bl)"/>
<rect x="484.10" y="106.30" width="8.00" height="2.50" rx="1" fill="url(#sm)" fill-opacity="1.00" filter="url(#bl)"/>
<rect x="483.80" y="104.60" width="8.60" height="3.40" rx="1.30" ry="1.10" fill="#101010" fill-opacity="1.00" filter="url(#bl)"/>
<rect x="493.40" y="106.30" width="8.00" height="2.60" rx="1" fill="url(#sm)" fill-opacity="1.00" filter="url(#bl)"/>
<rect x="493.10" y="104.50" width="8.60" height="3.60" rx="1.30" ry="1.10" fill="#101010" fill-opacity="1.00" filter="url(#bl)"/>
<rect x="502.70" y="105.90" width="8.00" height="2.70" rx="1" fill="url(#sm)" fill-opacity="1.00" filter="url(#bl)"/>
<rect x="502.40" y="104.00" width="8.60" height="3.80" rx="1.30" ry="1.10" fill="#101010" fill-opacity="1.00" filter="url(#bl)"/>
<rect x="331.40" y="122.20" width="8.20" height="3.80" rx="1.30" ry="1.10" fill="#101010" fill-opacity="1.00" filter="url(#bl)"/>
<rect x="340.60" y="122.20" width="8.20" height="3.80" rx="1.30" ry="1.10" fill="#101010" fill-opacity="1.00" filter="url(#bl)"/>
<rect x="349.80" y="122.20" width="8.20" height="3.80" rx="1.30" ry="1.10" fill="#101010" fill-opacity="1.00" filter="url(#bl)"/>
<rect x="359.00" y="122.20" width="8.20" height="3.80" rx="1.30" ry="1.10" fill="#101010" fill-opacity="1.00" filter="url(#bl)"/>
<rect x="368.20" y="122.20" width="8.20" height="3.80" rx="1.30" ry="1.10" fill="#101010" fill-opacity="1.00" filter="url(#bl)"/>
<rect x="377.40" y="122.20" width="8.20" height="3.80" rx="1.30" ry="1.10" fill="#101010" fill-opacity="1.00" filter="url(#bl)"/>
<rect x="386.60" y="122.20" width="8.20" height="3.80" rx="1.30" ry="1.10" fill="#101010" fill-opacity="1.00" filter="url(#bl)"/>
<rect x="395.80" y="122.20" width="8.20" height="3.80" rx="1.30" ry="1.10" fill="#101010" fill-opacity="1.00" filter="url(#bl)"/>
<rect x="405.00" y="122.20" width="8.20" height="3.80" rx="1.30" ry="1.10" fill="#101010" fill-opacity="1.00" filter="url(#bl)"/>
<rect x="414.20" y="122.20" width="8.20" height="3.80" rx="1.30" ry="1.10" fill="#101010" fill-opacity="1.00" filter="url(#bl)"/>
<rect x="423.40" y="122.20" width="8.20" height="3.80" rx="1.30" ry="1.10" fill="#101010" fill-opacity="1.00" filter="url(#bl)"/>
<rect x="432.60" y="122.20" width="8.20" height="3.80" rx="1.30" ry="1.10" fill="#101010" fill-opacity="1.00" filter="url(#bl)"/>
<rect x="455.90" y="122.60" width="8.60" height="3.80" rx="1.30" ry="1.10" fill="#101010" fill-opacity="1.00" filter="url(#bl)"/>
<rect x="465.20" y="122.60" width="8.60" height="3.80" rx="1.30" ry="1.10" fill="#101010" fill-opacity="1.00" filter="url(#bl)"/>
<rect x="474.50" y="122.60" width="8.60" height="3.80" rx="1.30" ry="1.10" fill="#101010" fill-opacity="1.00" filter="url(#bl)"/>
<rect x="483.80" y="122.60" width="8.60" height="3.80" rx="1.30" ry="1.10" fill="#101010" fill-opacity="1.00" filter="url(#bl)"/>
<rect x="493.10" y="122.60" width="8.60" height="3.80" rx="1.30" ry="1.10" fill="#101010" fill-opacity="1.00" filter="url(#bl)"/>
<rect x="502.40" y="122.60" width="8.60" height="3.80" rx="1.30" ry="1.10" fill="#101010" fill-opacity="1.00" filter="url(#bl)"/>
<text x="326.40" y="78.00" font-size="6.8" text-anchor="end" fill="#222" stroke="#222" stroke-width="0.12" textLength="22.20" lengthAdjust="spacingAndGlyphs">sgRNA:</text>
<text x="326.40" y="93.20" font-size="7.6" text-anchor="end" fill="#222" stroke="#222" stroke-width="0.12" textLength="25.00" lengthAdjust="spacingAndGlyphs">p-STAT3</text>
<text x="326.40" y="108.70" font-size="7.6" text-anchor="end" fill="#222" stroke="#222" stroke-width="0.12" textLength="18.50" lengthAdjust="spacingAndGlyphs">STAT3</text>
<text x="326.40" y="125.90" font-size="7.6" text-anchor="end" fill="#222" stroke="#222" stroke-width="0.12" textLength="22.30" lengthAdjust="spacingAndGlyphs">β-Actin</text>
<text x="337.30" y="79.30" font-size="6.0" fill="#222" stroke="#222" stroke-width="0.12" textLength="10.80" lengthAdjust="spacingAndGlyphs" transform="rotate(-90 337.30 79.30)">Ctrl</text>
<text x="346.50" y="79.30" font-size="6.0" fill="#222" stroke="#222" stroke-width="0.12" textLength="23.20" lengthAdjust="spacingAndGlyphs" transform="rotate(-90 346.50 79.30)">IL-1α #1</text>
<text x="355.70" y="79.30" font-size="6.0" fill="#222" stroke="#222" stroke-width="0.12" textLength="23.20" lengthAdjust="spacingAndGlyphs" transform="rotate(-90 355.70 79.30)">IL-1α #2</text>
<text x="364.90" y="79.30" font-size="6.0" fill="#222" stroke="#222" stroke-width="0.12" textLength="10.80" lengthAdjust="spacingAndGlyphs" transform="rotate(-90 364.90 79.30)">Ctrl</text>
<text x="374.10" y="79.30" font-size="6.0" fill="#222" stroke="#222" stroke-width="0.12" textLength="23.20" lengthAdjust="spacingAndGlyphs" transform="rotate(-90 374.10 79.30)">IL-1α #1</text>
<text x="383.30" y="79.30" font-size="6.0" fill="#222" stroke="#222" stroke-width="0.12" textLength="23.20" lengthAdjust="spacingAndGlyphs" transform="rotate(-90 383.30 79.30)">IL-1α #2</text>
<text x="392.50" y="79.30" font-size="6.0" fill="#222" stroke="#222" stroke-width="0.12" textLength="10.80" lengthAdjust="spacingAndGlyphs" transform="rotate(-90 392.50 79.30)">Ctrl</text>
<text x="401.70" y="79.30" font-size="6.0" fill="#222" stroke="#222" stroke-width="0.12" textLength="23.20" lengthAdjust="spacingAndGlyphs" transform="rotate(-90 401.70 79.30)">IL-1α #1</text>
<text x="410.90" y="79.30" font-size="6.0" fill="#222" stroke="#222" stroke-width="0.12" textLength="23.20" lengthAdjust="spacingAndGlyphs" transform="rotate(-90 410.90 79.30)">IL-1α #2</text>
<text x="420.10" y="79.30" font-size="6.0" fill="#222" stroke="#222" stroke-width="0.12" textLength="10.80" lengthAdjust="spacingAndGlyphs" transform="rotate(-90 420.10 79.30)">Ctrl</text>
<text x="429.30" y="79.30" font-size="6.0" fill="#222" stroke="#222" stroke-width="0.12" textLength="23.20" lengthAdjust="spacingAndGlyphs" transform="rotate(-90 429.30 79.30)">IL-1α #1</text>
<text x="438.50" y="79.30" font-size="6.0" fill="#222" stroke="#222" stroke-width="0.12" textLength="23.20" lengthAdjust="spacingAndGlyphs" transform="rotate(-90 438.50 79.30)">IL-1α #2</text>
<text x="462.00" y="79.30" font-size="6.0" fill="#222" stroke="#222" stroke-width="0.12" textLength="10.80" lengthAdjust="spacingAndGlyphs" transform="rotate(-90 462.00 79.30)">Ctrl</text>
<text x="471.30" y="79.30" font-size="6.0" fill="#222" stroke="#222" stroke-width="0.12" textLength="23.20" lengthAdjust="spacingAndGlyphs" transform="rotate(-90 471.30 79.30)">IL-1α #1</text>
<text x="480.60" y="79.30" font-size="6.0" fill="#222" stroke="#222" stroke-width="0.12" textLength="23.20" lengthAdjust="spacingAndGlyphs" transform="rotate(-90 480.60 79.30)">IL-1α #2</text>
<text x="489.90" y="79.30" font-size="6.0" fill="#222" stroke="#222" stroke-width="0.12" textLength="10.80" lengthAdjust="spacingAndGlyphs" transform="rotate(-90 489.90 79.30)">Ctrl</text>
<text x="499.20" y="79.30" font-size="6.0" fill="#222" stroke="#222" stroke-width="0.12" textLength="23.20" lengthAdjust="spacingAndGlyphs" transform="rotate(-90 499.20 79.30)">IL-1α #1</text>
<text x="508.50" y="79.30" font-size="6.0" fill="#222" stroke="#222" stroke-width="0.12" textLength="23.20" lengthAdjust="spacingAndGlyphs" transform="rotate(-90 508.50 79.30)">IL-1α #2</text>
<text x="334.80" y="32.10" font-size="6.2" fill="#2a2a2a" stroke="#2a2a2a" stroke-width="0.12" textLength="11.60" lengthAdjust="spacingAndGlyphs">ALK</text>
<line x1="347.1" y1="28.40" x2="348.9" y2="28.40" stroke="#2a2a2a" stroke-width="0.55"/>
<text x="350.60" y="32.10" font-size="6.2" fill="#2a2a2a" stroke="#2a2a2a" stroke-width="0.12" textLength="34.50" lengthAdjust="spacingAndGlyphs">(STAT3 WT)</text>
<path d="M335.50 37.40 V35.20 H385.30 V37.40" fill="none" stroke="#1a1a1a" stroke-width="1.05"/>
<text x="404.60" y="32.00" font-size="6.2" fill="#2a2a2a" stroke="#2a2a2a" stroke-width="0.12" textLength="11.50" lengthAdjust="spacingAndGlyphs">ALK</text>
<line x1="416.8" y1="28.70" x2="418.8" y2="28.70" stroke="#2a2a2a" stroke-width="0.5"/><line x1="417.8" y1="27.70" x2="417.8" y2="29.70" stroke="#2a2a2a" stroke-width="0.5"/>
<path d="M387.30 37.30 V35.10 H438.60 V37.30" fill="none" stroke="#1a1a1a" stroke-width="1.05"/>
<text x="456.60" y="32.20" font-size="6.2" fill="#2a2a2a" stroke="#2a2a2a" stroke-width="0.12" textLength="11.40" lengthAdjust="spacingAndGlyphs">ALK</text>
<line x1="468.6" y1="28.40" x2="470.4" y2="28.40" stroke="#2a2a2a" stroke-width="0.55"/>
<text x="473.00" y="32.20" font-size="6.2" fill="#2a2a2a" stroke="#2a2a2a" stroke-width="0.12" textLength="36.10" lengthAdjust="spacingAndGlyphs">(STAT3 Mut)</text>
<path d="M456.00 37.50 V35.30 H508.80 V37.50" fill="none" stroke="#1a1a1a" stroke-width="1.05"/>
<text x="345.00" y="48.30" font-size="6.3" text-anchor="middle" fill="#2a2a2a" stroke="#2a2a2a" stroke-width="0.12" textLength="18.40" lengthAdjust="spacingAndGlyphs">MAC1</text>
<text x="372.60" y="48.30" font-size="6.3" text-anchor="middle" fill="#2a2a2a" stroke="#2a2a2a" stroke-width="0.12" textLength="23.10" lengthAdjust="spacingAndGlyphs">MAC2A</text>
<text x="401.10" y="48.30" font-size="6.3" text-anchor="middle" fill="#2a2a2a" stroke="#2a2a2a" stroke-width="0.12" textLength="11.50" lengthAdjust="spacingAndGlyphs">DEL</text>
<text x="426.80" y="42.30" font-size="6.3" text-anchor="middle" fill="#2a2a2a" stroke="#2a2a2a" stroke-width="0.12" textLength="20.20" lengthAdjust="spacingAndGlyphs">Karpas</text>
<text x="427.30" y="48.40" font-size="6.3" text-anchor="middle" fill="#2a2a2a" stroke="#2a2a2a" stroke-width="0.12" textLength="12.50" lengthAdjust="spacingAndGlyphs">-299</text>
<text x="468.90" y="48.40" font-size="6.3" text-anchor="middle" fill="#2a2a2a" stroke="#2a2a2a" stroke-width="0.12" textLength="18.80" lengthAdjust="spacingAndGlyphs">TLBR1</text>
<text x="499.30" y="48.40" font-size="6.3" text-anchor="middle" fill="#2a2a2a" stroke="#2a2a2a" stroke-width="0.12" textLength="18.40" lengthAdjust="spacingAndGlyphs">TLBR2</text>
<path d="M332.60 53.80 V51.60 H357.40 V53.80" fill="none" stroke="#1a1a1a" stroke-width="1.05"/>
<path d="M359.60 53.80 V51.60 H385.40 V53.80" fill="none" stroke="#1a1a1a" stroke-width="1.05"/>
<path d="M388.20 53.80 V51.60 H413.30 V53.80" fill="none" stroke="#1a1a1a" stroke-width="1.05"/>
<path d="M415.60 53.80 V51.60 H440.60 V53.80" fill="none" stroke="#1a1a1a" stroke-width="1.05"/>
<path d="M456.40 53.80 V51.60 H482.20 V53.80" fill="none" stroke="#1a1a1a" stroke-width="1.05"/>
<path d="M485.40 53.80 V51.60 H509.70 V53.80" fill="none" stroke="#1a1a1a" stroke-width="1.05"/>
<text x="334.80" y="169.10" font-size="6.2" fill="#2a2a2a" stroke="#2a2a2a" stroke-width="0.12" textLength="11.60" lengthAdjust="spacingAndGlyphs">ALK</text>
<line x1="347.1" y1="165.40" x2="348.9" y2="165.40" stroke="#2a2a2a" stroke-width="0.55"/>
<text x="350.60" y="169.10" font-size="6.2" fill="#2a2a2a" stroke="#2a2a2a" stroke-width="0.12" textLength="34.50" lengthAdjust="spacingAndGlyphs">(STAT3 WT)</text>
<path d="M335.50 174.40 V172.20 H385.30 V174.40" fill="none" stroke="#1a1a1a" stroke-width="1.05"/>
<text x="404.60" y="169.00" font-size="6.2" fill="#2a2a2a" stroke="#2a2a2a" stroke-width="0.12" textLength="11.50" lengthAdjust="spacingAndGlyphs">ALK</text>
<line x1="416.8" y1="165.70" x2="418.8" y2="165.70" stroke="#2a2a2a" stroke-width="0.5"/><line x1="417.8" y1="164.70" x2="417.8" y2="166.70" stroke="#2a2a2a" stroke-width="0.5"/>
<path d="M387.30 174.30 V172.10 H438.60 V174.30" fill="none" stroke="#1a1a1a" stroke-width="1.05"/>
<text x="456.60" y="169.20" font-size="6.2" fill="#2a2a2a" stroke="#2a2a2a" stroke-width="0.12" textLength="11.40" lengthAdjust="spacingAndGlyphs">ALK</text>
<line x1="468.6" y1="165.40" x2="470.4" y2="165.40" stroke="#2a2a2a" stroke-width="0.55"/>
<text x="473.00" y="169.20" font-size="6.2" fill="#2a2a2a" stroke="#2a2a2a" stroke-width="0.12" textLength="36.10" lengthAdjust="spacingAndGlyphs">(STAT3 Mut)</text>
<path d="M456.00 174.50 V172.30 H508.80 V174.50" fill="none" stroke="#1a1a1a" stroke-width="1.05"/>
<text x="345.00" y="185.30" font-size="6.3" text-anchor="middle" fill="#2a2a2a" stroke="#2a2a2a" stroke-width="0.12" textLength="18.40" lengthAdjust="spacingAndGlyphs">MAC1</text>
<text x="372.60" y="185.30" font-size="6.3" text-anchor="middle" fill="#2a2a2a" stroke="#2a2a2a" stroke-width="0.12" textLength="23.10" lengthAdjust="spacingAndGlyphs">MAC2A</text>
<text x="401.10" y="185.30" font-size="6.3" text-anchor="middle" fill="#2a2a2a" stroke="#2a2a2a" stroke-width="0.12" textLength="11.50" lengthAdjust="spacingAndGlyphs">DEL</text>
<text x="426.80" y="179.30" font-size="6.3" text-anchor="middle" fill="#2a2a2a" stroke="#2a2a2a" stroke-width="0.12" textLength="20.20" lengthAdjust="spacingAndGlyphs">Karpas</text>
<text x="427.30" y="185.40" font-size="6.3" text-anchor="middle" fill="#2a2a2a" stroke="#2a2a2a" stroke-width="0.12" textLength="12.50" lengthAdjust="spacingAndGlyphs">-299</text>
<text x="468.90" y="185.40" font-size="6.3" text-anchor="middle" fill="#2a2a2a" stroke="#2a2a2a" stroke-width="0.12" textLength="18.80" lengthAdjust="spacingAndGlyphs">TLBR1</text>
<text x="499.30" y="185.40" font-size="6.3" text-anchor="middle" fill="#2a2a2a" stroke="#2a2a2a" stroke-width="0.12" textLength="18.40" lengthAdjust="spacingAndGlyphs">TLBR2</text>
<path d="M332.60 190.80 V188.60 H357.40 V190.80" fill="none" stroke="#1a1a1a" stroke-width="1.05"/>
<path d="M359.60 190.80 V188.60 H385.40 V190.80" fill="none" stroke="#1a1a1a" stroke-width="1.05"/>
<path d="M388.20 190.80 V188.60 H413.30 V190.80" fill="none" stroke="#1a1a1a" stroke-width="1.05"/>
<path d="M415.60 190.80 V188.60 H440.60 V190.80" fill="none" stroke="#1a1a1a" stroke-width="1.05"/>
<path d="M456.40 190.80 V188.60 H482.20 V190.80" fill="none" stroke="#1a1a1a" stroke-width="1.05"/>
<path d="M485.40 190.80 V188.60 H509.70 V190.80" fill="none" stroke="#1a1a1a" stroke-width="1.05"/>
<rect x="330.00" y="229.00" width="111.60" height="12.30" fill="#f2f2f2" filter="url(#bl2)"/>
<rect x="455.00" y="229.00" width="57.80" height="12.30" fill="#f2f2f2" filter="url(#bl2)"/>
<rect x="330.00" y="245.40" width="111.60" height="10.90" fill="#f2f2f2" filter="url(#bl2)"/>
<rect x="455.00" y="245.40" width="57.80" height="10.90" fill="#f2f2f2" filter="url(#bl2)"/>
<rect x="330.00" y="261.70" width="111.60" height="14.30" fill="#f2f2f2" filter="url(#bl2)"/>
<rect x="455.00" y="261.70" width="57.80" height="14.30" fill="#f2f2f2" filter="url(#bl2)"/>
<rect x="330.00" y="280.00" width="111.60" height="12.50" fill="#f2f2f2" filter="url(#bl2)"/>
<rect x="455.00" y="280.00" width="57.80" height="12.50" fill="#f2f2f2" filter="url(#bl2)"/>
<rect x="331.50" y="235.40" width="8.00" height="2.20" rx="1" fill="url(#sm)" fill-opacity="1.00" filter="url(#bl)"/>
<rect x="331.20" y="233.80" width="8.60" height="3.20" rx="1.30" ry="1.10" fill="#101010" fill-opacity="1.00" filter="url(#bl)"/>
<rect x="340.40" y="234.50" width="8.60" height="1.80" rx="0.90" ry="0.90" fill="#101010" fill-opacity="0.45" filter="url(#bl)"/>
<rect x="349.60" y="234.40" width="8.60" height="2.00" rx="1.00" ry="1.00" fill="#101010" fill-opacity="0.85" filter="url(#bl)"/>
<rect x="359.10" y="235.40" width="8.00" height="2.20" rx="1" fill="url(#sm)" fill-opacity="1.00" filter="url(#bl)"/>
<rect x="358.80" y="233.80" width="8.60" height="3.20" rx="1.30" ry="1.10" fill="#101010" fill-opacity="1.00" filter="url(#bl)"/>
<rect x="368.00" y="234.20" width="8.60" height="2.40" rx="1.20" ry="1.10" fill="#101010" fill-opacity="1.00" filter="url(#bl)"/>
<rect x="377.20" y="234.30" width="8.60" height="2.20" rx="1.10" ry="1.10" fill="#101010" fill-opacity="1.00" filter="url(#bl)"/>
<rect x="386.40" y="234.30" width="8.60" height="2.20" rx="1.10" ry="1.10" fill="#101010" fill-opacity="1.00" filter="url(#bl)"/>
<rect x="395.60" y="234.30" width="8.60" height="2.20" rx="1.10" ry="1.10" fill="#101010" fill-opacity="1.00" filter="url(#bl)"/>
<rect x="404.80" y="234.30" width="8.60" height="2.20" rx="1.10" ry="1.10" fill="#101010" fill-opacity="1.00" filter="url(#bl)"/>
<rect x="414.00" y="234.30" width="8.60" height="2.20" rx="1.10" ry="1.10" fill="#101010" fill-opacity="1.00" filter="url(#bl)"/>
<rect x="423.20" y="233.60" width="8.60" height="2.40" rx="1.20" ry="1.10" fill="#101010" fill-opacity="1.00" filter="url(#bl)"/>
<rect x="432.40" y="233.30" width="8.60" height="2.40" rx="1.20" ry="1.10" fill="#101010" fill-opacity="1.00" filter="url(#bl)"/>
<rect x="456.20" y="234.20" width="8.00" height="3.30" rx="1" fill="url(#sm)" fill-opacity="1.00" filter="url(#bl)"/>
<rect x="455.90" y="232.70" width="8.60" height="3.00" rx="1.30" ry="1.10" fill="#101010" fill-opacity="1.00" filter="url(#bl)"/>
<rect x="465.50" y="234.20" width="8.00" height="3.30" rx="1" fill="url(#sm)" fill-opacity="1.00" filter="url(#bl)"/>
<rect x="465.20" y="232.70" width="8.60" height="3.00" rx="1.30" ry="1.10" fill="#101010" fill-opacity="1.00" filter="url(#bl)"/>
<rect x="474.80" y="234.20" width="8.00" height="3.30" rx="1" fill="url(#sm)" fill-opacity="1.00" filter="url(#bl)"/>
<rect x="474.50" y="232.70" width="8.60" height="3.00" rx="1.30" ry="1.10" fill="#101010" fill-opacity="1.00" filter="url(#bl)"/>
<rect x="484.10" y="234.20" width="8.00" height="3.50" rx="1" fill="url(#sm)" fill-opacity="1.00" filter="url(#bl)"/>
<rect x="483.80" y="232.50" width="8.60" height="3.40" rx="1.30" ry="1.10" fill="#101010" fill-opacity="1.00" filter="url(#bl)"/>
<rect x="493.40" y="234.20" width="8.00" height="3.60" rx="1" fill="url(#sm)" fill-opacity="1.00" filter="url(#bl)"/>
<rect x="493.10" y="232.40" width="8.60" height="3.60" rx="1.30" ry="1.10" fill="#101010" fill-opacity="1.00" filter="url(#bl)"/>
<rect x="502.70" y="233.90" width="8.00" height="3.70" rx="1" fill="url(#sm)" fill-opacity="1.00" filter="url(#bl)"/>
<rect x="502.40" y="232.00" width="8.60" height="3.80" rx="1.30" ry="1.10" fill="#101010" fill-opacity="1.00" filter="url(#bl)"/>
<rect x="331.40" y="250.50" width="8.20" height="2.40" rx="1" fill="url(#sm)" fill-opacity="1.00" filter="url(#bl)"/>
<rect x="331.10" y="248.60" width="8.80" height="3.80" rx="1.30" ry="1.10" fill="#101010" fill-opacity="1.00" filter="url(#bl)"/>
<rect x="340.60" y="250.50" width="8.20" height="2.40" rx="1" fill="url(#sm)" fill-opacity="1.00" filter="url(#bl)"/>
<rect x="340.30" y="248.60" width="8.80" height="3.80" rx="1.30" ry="1.10" fill="#101010" fill-opacity="1.00" filter="url(#bl)"/>
<rect x="349.80" y="250.50" width="8.20" height="2.40" rx="1" fill="url(#sm)" fill-opacity="1.00" filter="url(#bl)"/>
<rect x="349.50" y="248.60" width="8.80" height="3.80" rx="1.30" ry="1.10" fill="#101010" fill-opacity="1.00" filter="url(#bl)"/>
<rect x="359.00" y="250.50" width="8.20" height="2.40" rx="1" fill="url(#sm)" fill-opacity="1.00" filter="url(#bl)"/>
<rect x="358.70" y="248.60" width="8.80" height="3.80" rx="1.30" ry="1.10" fill="#101010" fill-opacity="1.00" filter="url(#bl)"/>
<rect x="368.20" y="250.50" width="8.20" height="2.40" rx="1" fill="url(#sm)" fill-opacity="1.00" filter="url(#bl)"/>
<rect x="367.90" y="248.60" width="8.80" height="3.80" rx="1.30" ry="1.10" fill="#101010" fill-opacity="1.00" filter="url(#bl)"/>
<rect x="377.40" y="250.50" width="8.20" height="2.40" rx="1" fill="url(#sm)" fill-opacity="1.00" filter="url(#bl)"/>
<rect x="377.10" y="248.60" width="8.80" height="3.80" rx="1.30" ry="1.10" fill="#101010" fill-opacity="1.00" filter="url(#bl)"/>
<rect x="386.60" y="250.50" width="8.20" height="2.40" rx="1" fill="url(#sm)" fill-opacity="1.00" filter="url(#bl)"/>
<rect x="386.30" y="248.60" width="8.80" height="3.80" rx="1.30" ry="1.10" fill="#101010" fill-opacity="1.00" filter="url(#bl)"/>
<rect x="395.80" y="250.50" width="8.20" height="2.40" rx="1" fill="url(#sm)" fill-opacity="1.00" filter="url(#bl)"/>
<rect x="395.50" y="248.60" width="8.80" height="3.80" rx="1.30" ry="1.10" fill="#101010" fill-opacity="1.00" filter="url(#bl)"/>
<rect x="405.00" y="250.50" width="8.20" height="2.40" rx="1" fill="url(#sm)" fill-opacity="1.00" filter="url(#bl)"/>
<rect x="404.70" y="248.60" width="8.80" height="3.80" rx="1.30" ry="1.10" fill="#101010" fill-opacity="1.00" filter="url(#bl)"/>
<rect x="414.20" y="250.50" width="8.20" height="2.40" rx="1" fill="url(#sm)" fill-opacity="1.00" filter="url(#bl)"/>
<rect x="413.90" y="248.60" width="8.80" height="3.80" rx="1.30" ry="1.10" fill="#101010" fill-opacity="1.00" filter="url(#bl)"/>
<rect x="423.40" y="250.20" width="8.20" height="2.40" rx="1" fill="url(#sm)" fill-opacity="1.00" filter="url(#bl)"/>
<rect x="423.10" y="248.30" width="8.80" height="3.80" rx="1.30" ry="1.10" fill="#101010" fill-opacity="1.00" filter="url(#bl)"/>
<rect x="432.60" y="249.90" width="8.20" height="2.40" rx="1" fill="url(#sm)" fill-opacity="1.00" filter="url(#bl)"/>
<rect x="432.30" y="248.00" width="8.80" height="3.80" rx="1.30" ry="1.10" fill="#101010" fill-opacity="1.00" filter="url(#bl)"/>
<rect x="456.20" y="250.80" width="8.00" height="3.20" rx="1" fill="url(#sm)" fill-opacity="1.00" filter="url(#bl)"/>
<rect x="455.90" y="249.00" width="8.60" height="3.60" rx="1.30" ry="1.10" fill="#101010" fill-opacity="1.00" filter="url(#bl)"/>
<rect x="465.50" y="250.80" width="8.00" height="3.20" rx="1" fill="url(#sm)" fill-opacity="1.00" filter="url(#bl)"/>
<rect x="465.20" y="249.00" width="8.60" height="3.60" rx="1.30" ry="1.10" fill="#101010" fill-opacity="1.00" filter="url(#bl)"/>
<rect x="474.80" y="250.80" width="8.00" height="3.20" rx="1" fill="url(#sm)" fill-opacity="1.00" filter="url(#bl)"/>
<rect x="474.50" y="249.00" width="8.60" height="3.60" rx="1.30" ry="1.10" fill="#101010" fill-opacity="1.00" filter="url(#bl)"/>
<rect x="484.10" y="250.80" width="8.00" height="3.20" rx="1" fill="url(#sm)" fill-opacity="1.00" filter="url(#bl)"/>
<rect x="483.80" y="249.00" width="8.60" height="3.60" rx="1.30" ry="1.10" fill="#101010" fill-opacity="1.00" filter="url(#bl)"/>
<rect x="493.40" y="250.80" width="8.00" height="3.20" rx="1" fill="url(#sm)" fill-opacity="1.00" filter="url(#bl)"/>
<rect x="493.10" y="249.00" width="8.60" height="3.60" rx="1.30" ry="1.10" fill="#101010" fill-opacity="1.00" filter="url(#bl)"/>
<rect x="502.70" y="250.40" width="8.00" height="3.30" rx="1" fill="url(#sm)" fill-opacity="1.00" filter="url(#bl)"/>
<rect x="502.40" y="248.50" width="8.60" height="3.80" rx="1.30" ry="1.10" fill="#101010" fill-opacity="1.00" filter="url(#bl)"/>
<rect x="331.90" y="266.80" width="7.20" height="4.80" rx="1.30" ry="1.10" fill="#101010" fill-opacity="1.00" filter="url(#bl)"/>
<rect x="341.10" y="267.70" width="7.20" height="3.00" rx="1.30" ry="1.10" fill="#101010" fill-opacity="0.04" filter="url(#bl)"/>
<rect x="350.30" y="267.70" width="7.20" height="3.00" rx="1.30" ry="1.10" fill="#101010" fill-opacity="0.04" filter="url(#bl)"/>
<rect x="359.50" y="266.70" width="7.20" height="5.00" rx="1.30" ry="1.10" fill="#101010" fill-opacity="1.00" filter="url(#bl)"/>
<rect x="368.70" y="267.70" width="7.20" height="3.00" rx="1.30" ry="1.10" fill="#101010" fill-opacity="0.03" filter="url(#bl)"/>
<rect x="377.90" y="267.70" width="7.20" height="3.00" rx="1.30" ry="1.10" fill="#101010" fill-opacity="0.03" filter="url(#bl)"/>
<rect x="387.10" y="266.80" width="7.20" height="4.80" rx="1.30" ry="1.10" fill="#101010" fill-opacity="1.00" filter="url(#bl)"/>
<rect x="396.30" y="267.70" width="7.20" height="3.00" rx="1.30" ry="1.10" fill="#101010" fill-opacity="0.04" filter="url(#bl)"/>
<rect x="405.50" y="267.70" width="7.20" height="3.00" rx="1.30" ry="1.10" fill="#101010" fill-opacity="0.04" filter="url(#bl)"/>
<rect x="414.70" y="266.60" width="7.20" height="5.20" rx="1.30" ry="1.10" fill="#101010" fill-opacity="1.00" filter="url(#bl)"/>
<rect x="423.90" y="267.70" width="7.20" height="3.00" rx="1.30" ry="1.10" fill="#101010" fill-opacity="0.03" filter="url(#bl)"/>
<rect x="433.10" y="267.70" width="7.20" height="3.00" rx="1.30" ry="1.10" fill="#101010" fill-opacity="0.03" filter="url(#bl)"/>
<rect x="331.10" y="284.60" width="8.80" height="3.60" rx="1.30" ry="1.10" fill="#101010" fill-opacity="1.00" filter="url(#bl)"/>
<rect x="340.30" y="284.60" width="8.80" height="3.60" rx="1.30" ry="1.10" fill="#101010" fill-opacity="1.00" filter="url(#bl)"/>
<rect x="349.50" y="284.60" width="8.80" height="3.60" rx="1.30" ry="1.10" fill="#101010" fill-opacity="1.00" filter="url(#bl)"/>
<rect x="358.70" y="284.60" width="8.80" height="3.60" rx="1.30" ry="1.10" fill="#101010" fill-opacity="1.00" filter="url(#bl)"/>
<rect x="367.90" y="284.60" width="8.80" height="3.60" rx="1.30" ry="1.10" fill="#101010" fill-opacity="1.00" filter="url(#bl)"/>
<rect x="377.10" y="284.60" width="8.80" height="3.60" rx="1.30" ry="1.10" fill="#101010" fill-opacity="1.00" filter="url(#bl)"/>
<rect x="386.30" y="284.60" width="8.80" height="3.60" rx="1.30" ry="1.10" fill="#101010" fill-opacity="1.00" filter="url(#bl)"/>
<rect x="395.50" y="284.60" width="8.80" height="3.60" rx="1.30" ry="1.10" fill="#101010" fill-opacity="1.00" filter="url(#bl)"/>
<rect x="404.70" y="284.60" width="8.80" height="3.60" rx="1.30" ry="1.10" fill="#101010" fill-opacity="1.00" filter="url(#bl)"/>
<rect x="413.90" y="284.60" width="8.80" height="3.60" rx="1.30" ry="1.10" fill="#101010" fill-opacity="1.00" filter="url(#bl)"/>
<rect x="423.10" y="284.10" width="8.80" height="3.60" rx="1.30" ry="1.10" fill="#101010" fill-opacity="1.00" filter="url(#bl)"/>
<rect x="432.30" y="283.80" width="8.80" height="3.60" rx="1.30" ry="1.10" fill="#101010" fill-opacity="1.00" filter="url(#bl)"/>
<rect x="455.90" y="284.60" width="8.60" height="3.60" rx="1.30" ry="1.10" fill="#101010" fill-opacity="1.00" filter="url(#bl)"/>
<rect x="465.20" y="284.60" width="8.60" height="3.60" rx="1.30" ry="1.10" fill="#101010" fill-opacity="1.00" filter="url(#bl)"/>
<rect x="474.50" y="284.60" width="8.60" height="3.60" rx="1.30" ry="1.10" fill="#101010" fill-opacity="1.00" filter="url(#bl)"/>
<rect x="483.80" y="284.60" width="8.60" height="3.60" rx="1.30" ry="1.10" fill="#101010" fill-opacity="1.00" filter="url(#bl)"/>
<rect x="493.10" y="284.60" width="8.60" height="3.60" rx="1.30" ry="1.10" fill="#101010" fill-opacity="1.00" filter="url(#bl)"/>
<rect x="502.40" y="284.60" width="8.60" height="3.60" rx="1.30" ry="1.10" fill="#101010" fill-opacity="1.00" filter="url(#bl)"/>
<ellipse cx="458.9" cy="269.1" rx="3.3" ry="2.3" fill="#0a0a0a" filter="url(#bl)"/>
<circle cx="467.5" cy="268.6" r="0.7" fill="#bbb" filter="url(#bl)"/>
<circle cx="475.8" cy="269.2" r="1.0" fill="#777" filter="url(#bl)"/>
<rect x="483.6" y="264.9" width="9.1" height="8.6" rx="3.6" fill="#050505" filter="url(#bl)"/>
<circle cx="496.0" cy="269.1" r="1.4" fill="#111" filter="url(#bl)"/>
<circle cx="499.2" cy="269.1" r="0.8" fill="#444" filter="url(#bl)"/>
<circle cx="505.6" cy="269.0" r="1.5" fill="#111" filter="url(#bl)"/>
<text x="326.40" y="222.70" font-size="6.8" text-anchor="end" fill="#222" stroke="#222" stroke-width="0.12" textLength="22.20" lengthAdjust="spacingAndGlyphs">sgRNA:</text>
<text x="326.40" y="237.40" font-size="7.6" text-anchor="end" fill="#222" stroke="#222" stroke-width="0.12" textLength="25.00" lengthAdjust="spacingAndGlyphs">p-STAT3</text>
<text x="326.40" y="253.10" font-size="7.6" text-anchor="end" fill="#222" stroke="#222" stroke-width="0.12" textLength="18.50" lengthAdjust="spacingAndGlyphs">STAT3</text>
<text x="326.40" y="271.20" font-size="7.6" text-anchor="end" fill="#222" stroke="#222" stroke-width="0.12" textLength="22.00" lengthAdjust="spacingAndGlyphs">MYD88</text>
<text x="326.40" y="288.30" font-size="7.6" text-anchor="end" fill="#222" stroke="#222" stroke-width="0.12" textLength="22.30" lengthAdjust="spacingAndGlyphs">β-Actin</text>
<text x="337.90" y="224.00" font-size="6.0" fill="#222" stroke="#222" stroke-width="0.12" textLength="10.80" lengthAdjust="spacingAndGlyphs" transform="rotate(-90 337.90 224.00)">Ctrl</text>
<text x="347.10" y="224.00" font-size="6.0" fill="#222" stroke="#222" stroke-width="0.12" textLength="31.00" lengthAdjust="spacingAndGlyphs" transform="rotate(-90 347.10 224.00)">MYD88 #1</text>
<text x="356.30" y="224.00" font-size="6.0" fill="#222" stroke="#222" stroke-width="0.12" textLength="31.00" lengthAdjust="spacingAndGlyphs" transform="rotate(-90 356.30 224.00)">MYD88 #2</text>
<text x="365.50" y="224.00" font-size="6.0" fill="#222" stroke="#222" stroke-width="0.12" textLength="10.80" lengthAdjust="spacingAndGlyphs" transform="rotate(-90 365.50 224.00)">Ctrl</text>
<text x="374.70" y="224.00" font-size="6.0" fill="#222" stroke="#222" stroke-width="0.12" textLength="31.00" lengthAdjust="spacingAndGlyphs" transform="rotate(-90 374.70 224.00)">MYD88 #1</text>
<text x="383.90" y="224.00" font-size="6.0" fill="#222" stroke="#222" stroke-width="0.12" textLength="31.00" lengthAdjust="spacingAndGlyphs" transform="rotate(-90 383.90 224.00)">MYD88 #2</text>
<text x="393.10" y="224.00" font-size="6.0" fill="#222" stroke="#222" stroke-width="0.12" textLength="10.80" lengthAdjust="spacingAndGlyphs" transform="rotate(-90 393.10 224.00)">Ctrl</text>
<text x="402.30" y="224.00" font-size="6.0" fill="#222" stroke="#222" stroke-width="0.12" textLength="31.00" lengthAdjust="spacingAndGlyphs" transform="rotate(-90 402.30 224.00)">MYD88 #1</text>
<text x="411.50" y="224.00" font-size="6.0" fill="#222" stroke="#222" stroke-width="0.12" textLength="31.00" lengthAdjust="spacingAndGlyphs" transform="rotate(-90 411.50 224.00)">MYD88 #2</text>
<text x="420.70" y="224.00" font-size="6.0" fill="#222" stroke="#222" stroke-width="0.12" textLength="10.80" lengthAdjust="spacingAndGlyphs" transform="rotate(-90 420.70 224.00)">Ctrl</text>
<text x="429.90" y="224.00" font-size="6.0" fill="#222" stroke="#222" stroke-width="0.12" textLength="31.00" lengthAdjust="spacingAndGlyphs" transform="rotate(-90 429.90 224.00)">MYD88 #1</text>
<text x="439.10" y="224.00" font-size="6.0" fill="#222" stroke="#222" stroke-width="0.12" textLength="31.00" lengthAdjust="spacingAndGlyphs" transform="rotate(-90 439.10 224.00)">MYD88 #2</text>
<text x="462.60" y="224.00" font-size="6.0" fill="#222" stroke="#222" stroke-width="0.12" textLength="10.80" lengthAdjust="spacingAndGlyphs" transform="rotate(-90 462.60 224.00)">Ctrl</text>
<text x="471.90" y="224.00" font-size="6.0" fill="#222" stroke="#222" stroke-width="0.12" textLength="31.00" lengthAdjust="spacingAndGlyphs" transform="rotate(-90 471.90 224.00)">MYD88 #1</text>
<text x="481.20" y="224.00" font-size="6.0" fill="#222" stroke="#222" stroke-width="0.12" textLength="31.00" lengthAdjust="spacingAndGlyphs" transform="rotate(-90 481.20 224.00)">MYD88 #2</text>
<text x="490.50" y="224.00" font-size="6.0" fill="#222" stroke="#222" stroke-width="0.12" textLength="10.80" lengthAdjust="spacingAndGlyphs" transform="rotate(-90 490.50 224.00)">Ctrl</text>
<text x="499.80" y="224.00" font-size="6.0" fill="#222" stroke="#222" stroke-width="0.12" textLength="31.00" lengthAdjust="spacingAndGlyphs" transform="rotate(-90 499.80 224.00)">MYD88 #1</text>
<text x="509.10" y="224.00" font-size="6.0" fill="#222" stroke="#222" stroke-width="0.12" textLength="31.00" lengthAdjust="spacingAndGlyphs" transform="rotate(-90 509.10 224.00)">MYD88 #2</text>
<rect x="454.60" y="376.70" width="57.30" height="9.60" fill="#f6f6f6" filter="url(#bl2)"/>
<rect x="454.60" y="391.20" width="57.30" height="9.20" fill="#f6f6f6" filter="url(#bl2)"/>
<rect x="454.60" y="406.50" width="57.30" height="10.60" fill="#f6f6f6" filter="url(#bl2)"/>
<rect x="454.60" y="422.90" width="57.30" height="9.60" fill="#f6f6f6" filter="url(#bl2)"/>
<rect x="454.90" y="381.00" width="8.00" height="2.30" rx="1" fill="url(#sm)" fill-opacity="1.00" filter="url(#bl)"/>
<rect x="454.60" y="379.50" width="8.60" height="3.00" rx="1.30" ry="1.10" fill="#101010" fill-opacity="1.00" filter="url(#bl)"/>
<rect x="464.00" y="380.05" width="8.60" height="1.90" rx="0.95" ry="0.95" fill="#101010" fill-opacity="0.85" filter="url(#bl)"/>
<rect x="473.40" y="379.95" width="8.60" height="2.10" rx="1.05" ry="1.05" fill="#101010" fill-opacity="0.85" filter="url(#bl)"/>
<rect x="483.10" y="381.20" width="8.00" height="3.80" rx="1" fill="url(#sm)" fill-opacity="1.00" filter="url(#bl)"/>
<rect x="482.80" y="379.00" width="8.60" height="4.40" rx="1.30" ry="1.10" fill="#101010" fill-opacity="1.00" filter="url(#bl)"/>
<rect x="492.50" y="381.20" width="8.00" height="3.90" rx="1" fill="url(#sm)" fill-opacity="1.00" filter="url(#bl)"/>
<rect x="492.20" y="378.90" width="8.60" height="4.60" rx="1.30" ry="1.10" fill="#101010" fill-opacity="1.00" filter="url(#bl)"/>
<rect x="501.90" y="381.20" width="8.00" height="3.70" rx="1" fill="url(#sm)" fill-opacity="1.00" filter="url(#bl)"/>
<rect x="501.60" y="379.10" width="8.60" height="4.20" rx="1.30" ry="1.10" fill="#101010" fill-opacity="1.00" filter="url(#bl)"/>
<rect x="454.70" y="395.70" width="8.40" height="3.30" rx="1" fill="url(#sm)" fill-opacity="1.00" filter="url(#bl)"/>
<rect x="454.40" y="393.20" width="9.00" height="5.00" rx="1.30" ry="1.10" fill="#101010" fill-opacity="1.00" filter="url(#bl)"/>
<rect x="464.10" y="395.70" width="8.40" height="2.50" rx="1" fill="url(#sm)" fill-opacity="1.00" filter="url(#bl)"/>
<rect x="463.80" y="393.80" width="9.00" height="3.80" rx="1.30" ry="1.10" fill="#101010" fill-opacity="1.00" filter="url(#bl)"/>
<rect x="473.50" y="395.70" width="8.40" height="2.60" rx="1" fill="url(#sm)" fill-opacity="1.00" filter="url(#bl)"/>
<rect x="473.20" y="393.70" width="9.00" height="4.00" rx="1.30" ry="1.10" fill="#101010" fill-opacity="1.00" filter="url(#bl)"/>
<rect x="482.90" y="395.70" width="8.40" height="3.20" rx="1" fill="url(#sm)" fill-opacity="1.00" filter="url(#bl)"/>
<rect x="482.60" y="393.30" width="9.00" height="4.80" rx="1.30" ry="1.10" fill="#101010" fill-opacity="1.00" filter="url(#bl)"/>
<rect x="492.30" y="395.70" width="8.40" height="3.30" rx="1" fill="url(#sm)" fill-opacity="1.00" filter="url(#bl)"/>
<rect x="492.00" y="393.20" width="9.00" height="5.00" rx="1.30" ry="1.10" fill="#101010" fill-opacity="1.00" filter="url(#bl)"/>
<rect x="501.70" y="395.70" width="8.40" height="3.00" rx="1" fill="url(#sm)" fill-opacity="1.00" filter="url(#bl)"/>
<rect x="501.40" y="393.50" width="9.00" height="4.40" rx="1.30" ry="1.10" fill="#101010" fill-opacity="1.00" filter="url(#bl)"/>
<rect x="454.50" y="409.40" width="8.80" height="5.80" rx="1.30" ry="1.10" fill="#101010" fill-opacity="1.00" filter="url(#bl)"/>
<rect x="463.90" y="410.80" width="8.80" height="3.00" rx="1.30" ry="1.10" fill="#101010" fill-opacity="0.03" filter="url(#bl)"/>
<rect x="473.30" y="410.80" width="8.80" height="3.00" rx="1.30" ry="1.10" fill="#101010" fill-opacity="0.03" filter="url(#bl)"/>
<rect x="482.70" y="409.40" width="8.80" height="5.80" rx="1.30" ry="1.10" fill="#101010" fill-opacity="1.00" filter="url(#bl)"/>
<rect x="492.10" y="410.80" width="8.80" height="3.00" rx="1.30" ry="1.10" fill="#101010" fill-opacity="0.03" filter="url(#bl)"/>
<rect x="501.50" y="410.80" width="8.80" height="3.00" rx="1.30" ry="1.10" fill="#101010" fill-opacity="0.03" filter="url(#bl)"/>
<rect x="454.50" y="426.80" width="8.80" height="3.00" rx="1.30" ry="1.10" fill="#101010" fill-opacity="1.00" filter="url(#bl)"/>
<rect x="463.90" y="426.40" width="8.80" height="3.80" rx="1.30" ry="1.10" fill="#101010" fill-opacity="1.00" filter="url(#bl)"/>
<rect x="473.30" y="426.50" width="8.80" height="3.60" rx="1.30" ry="1.10" fill="#101010" fill-opacity="1.00" filter="url(#bl)"/>
<rect x="482.70" y="427.00" width="8.80" height="2.60" rx="1.30" ry="1.10" fill="#101010" fill-opacity="1.00" filter="url(#bl)"/>
<rect x="492.10" y="426.90" width="8.80" height="2.80" rx="1.30" ry="1.10" fill="#101010" fill-opacity="1.00" filter="url(#bl)"/>
<rect x="501.50" y="427.00" width="8.80" height="2.60" rx="1.30" ry="1.10" fill="#101010" fill-opacity="1.00" filter="url(#bl)"/>
<text x="451.00" y="370.90" font-size="6.8" text-anchor="end" fill="#222" stroke="#222" stroke-width="0.12" textLength="21.40" lengthAdjust="spacingAndGlyphs">sgRNA:</text>
<text x="451.00" y="384.00" font-size="7.6" text-anchor="end" fill="#222" stroke="#222" stroke-width="0.12" textLength="24.60" lengthAdjust="spacingAndGlyphs">p-STAT3</text>
<text x="451.00" y="398.10" font-size="7.6" text-anchor="end" fill="#222" stroke="#222" stroke-width="0.12" textLength="17.80" lengthAdjust="spacingAndGlyphs">STAT3</text>
<text x="451.00" y="414.50" font-size="7.6" text-anchor="end" fill="#222" stroke="#222" stroke-width="0.12" textLength="22.10" lengthAdjust="spacingAndGlyphs">MYD88</text>
<text x="451.00" y="430.30" font-size="7.6" text-anchor="end" fill="#222" stroke="#222" stroke-width="0.12" textLength="21.80" lengthAdjust="spacingAndGlyphs">β-Actin</text>
<text x="460.70" y="371.40" font-size="6.0" fill="#222" stroke="#222" stroke-width="0.12" textLength="10.80" lengthAdjust="spacingAndGlyphs" transform="rotate(-90 460.70 371.40)">Ctrl</text>
<text x="470.10" y="371.40" font-size="6.0" fill="#222" stroke="#222" stroke-width="0.12" textLength="30.60" lengthAdjust="spacingAndGlyphs" transform="rotate(-90 470.10 371.40)">MYD88 #1</text>
<text x="479.50" y="371.40" font-size="6.0" fill="#222" stroke="#222" stroke-width="0.12" textLength="30.60" lengthAdjust="spacingAndGlyphs" transform="rotate(-90 479.50 371.40)">MYD88 #2</text>
<text x="488.90" y="371.40" font-size="6.0" fill="#222" stroke="#222" stroke-width="0.12" textLength="10.80" lengthAdjust="spacingAndGlyphs" transform="rotate(-90 488.90 371.40)">Ctrl</text>
<text x="498.30" y="371.40" font-size="6.0" fill="#222" stroke="#222" stroke-width="0.12" textLength="30.60" lengthAdjust="spacingAndGlyphs" transform="rotate(-90 498.30 371.40)">MYD88 #1</text>
<text x="507.70" y="371.40" font-size="6.0" fill="#222" stroke="#222" stroke-width="0.12" textLength="30.60" lengthAdjust="spacingAndGlyphs" transform="rotate(-90 507.70 371.40)">MYD88 #2</text>
<text x="498.60" y="317.90" font-size="6.8" text-anchor="middle" fill="#222" stroke="#222" stroke-width="0.12" textLength="18.50" lengthAdjust="spacingAndGlyphs">STAT3</text>
<text x="498.60" y="325.20" font-size="6.8" text-anchor="middle" fill="#222" stroke="#222" stroke-width="0.12" textLength="19.00" lengthAdjust="spacingAndGlyphs">D661Y</text>
<text x="498.60" y="333.40" font-size="6.8" text-anchor="middle" fill="#222" stroke="#222" stroke-width="0.12" textLength="25.50" lengthAdjust="spacingAndGlyphs">knock-in</text>
<text x="467.40" y="333.40" font-size="6.8" text-anchor="middle" fill="#222" stroke="#222" stroke-width="0.12" textLength="25.50" lengthAdjust="spacingAndGlyphs">parental</text>
<path d="M455.00 338.40 V336.20 H480.40 V338.40" fill="none" stroke="#1a1a1a" stroke-width="1.05"/>
<path d="M484.30 338.40 V336.20 H509.70 V338.40" fill="none" stroke="#1a1a1a" stroke-width="1.05"/>
<text x="80.90" y="329.50" font-size="6.8" text-anchor="middle" fill="#222" stroke="#222" stroke-width="0.12" textLength="18.80" lengthAdjust="spacingAndGlyphs">D661Y</text>
<text x="81.10" y="337.40" font-size="6.8" text-anchor="middle" fill="#222" stroke="#222" stroke-width="0.12" textLength="11.50" lengthAdjust="spacingAndGlyphs">G&gt;T</text>
<text x="174.70" y="329.00" font-size="6.8" text-anchor="middle" fill="#222" stroke="#222" stroke-width="0.12" textLength="14.10" lengthAdjust="spacingAndGlyphs">PAM</text>
<text x="174.70" y="336.90" font-size="6.8" text-anchor="middle" fill="#222" stroke="#222" stroke-width="0.12" textLength="14.10" lengthAdjust="spacingAndGlyphs">G&gt;C</text>
<text x="25.90" y="365.20" font-size="6.8" fill="#222" stroke="#222" stroke-width="0.12" textLength="24.80" lengthAdjust="spacingAndGlyphs">parental</text>
<text x="37.80" y="385.90" font-size="6.8" text-anchor="middle" fill="#222" stroke="#222" stroke-width="0.12" textLength="15.80" lengthAdjust="spacingAndGlyphs">STAT3</text>
<text x="37.80" y="395.30" font-size="6.8" text-anchor="middle" fill="#222" stroke="#222" stroke-width="0.12" textLength="19.00" lengthAdjust="spacingAndGlyphs">D661Y</text>
<text x="39.00" y="403.20" font-size="6.8" text-anchor="middle" fill="#222" stroke="#222" stroke-width="0.12" textLength="25.40" lengthAdjust="spacingAndGlyphs">knock-in</text>
<text x="58.60" y="348.80" font-size="6.6" text-anchor="middle" fill="#4b6eaa" stroke="#4b6eaa" stroke-width="0.12">C</text>
<text x="61.90" y="348.80" font-size="6.6" text-anchor="middle" fill="#78b866" stroke="#78b866" stroke-width="0.12">A</text>
<text x="66.50" y="348.80" font-size="6.6" text-anchor="middle" fill="#cc4a62" stroke="#cc4a62" stroke-width="0.12">T</text>
<text x="74.20" y="348.80" font-size="6.6" text-anchor="middle" fill="#333333" stroke="#333333" stroke-width="0.12">G</text>
<text x="80.70" y="348.80" font-size="6.6" text-anchor="middle" fill="#333333" stroke="#333333" stroke-width="0.12">G</text>
<text x="87.20" y="348.80" font-size="6.6" text-anchor="middle" fill="#78b866" stroke="#78b866" stroke-width="0.12">A</text>
<text x="92.50" y="348.80" font-size="6.6" text-anchor="middle" fill="#cc4a62" stroke="#cc4a62" stroke-width="0.12">T</text>
<text x="97.80" y="348.80" font-size="6.6" text-anchor="middle" fill="#333333" stroke="#333333" stroke-width="0.12">G</text>
<text x="103.20" y="348.80" font-size="6.6" text-anchor="middle" fill="#4b6eaa" stroke="#4b6eaa" stroke-width="0.12">C</text>
<text x="110.60" y="348.80" font-size="6.6" text-anchor="middle" fill="#cc4a62" stroke="#cc4a62" stroke-width="0.12">T</text>
<text x="114.40" y="348.80" font-size="6.6" text-anchor="middle" fill="#78b866" stroke="#78b866" stroke-width="0.12">A</text>
<text x="118.60" y="348.80" font-size="6.6" text-anchor="middle" fill="#4b6eaa" stroke="#4b6eaa" stroke-width="0.12">C</text>
<text x="122.90" y="348.80" font-size="6.6" text-anchor="middle" fill="#4b6eaa" stroke="#4b6eaa" stroke-width="0.12">C</text>
<text x="129.00" y="348.80" font-size="6.6" text-anchor="middle" fill="#78b866" stroke="#78b866" stroke-width="0.12">A</text>
<text x="132.90" y="348.80" font-size="6.6" text-anchor="middle" fill="#78b866" stroke="#78b866" stroke-width="0.12">A</text>
<text x="139.90" y="348.80" font-size="6.6" text-anchor="middle" fill="#cc4a62" stroke="#cc4a62" stroke-width="0.12">T</text>
<text x="145.60" y="348.80" font-size="6.6" text-anchor="middle" fill="#78b866" stroke="#78b866" stroke-width="0.12">A</text>
<text x="150.80" y="348.80" font-size="6.6" text-anchor="middle" fill="#cc4a62" stroke="#cc4a62" stroke-width="0.12">T</text>
<text x="156.50" y="348.80" font-size="6.6" text-anchor="middle" fill="#4b6eaa" stroke="#4b6eaa" stroke-width="0.12">C</text>
<text x="161.30" y="348.80" font-size="6.6" text-anchor="middle" fill="#4b6eaa" stroke="#4b6eaa" stroke-width="0.12">C</text>
<text x="166.30" y="348.80" font-size="6.6" text-anchor="middle" fill="#cc4a62" stroke="#cc4a62" stroke-width="0.12">T</text>
<text x="174.30" y="348.80" font-size="6.6" text-anchor="middle" fill="#333333" stroke="#333333" stroke-width="0.12">G</text>
<text x="180.30" y="348.80" font-size="6.6" text-anchor="middle" fill="#333333" stroke="#333333" stroke-width="0.12">G</text>
<text x="186.00" y="348.80" font-size="6.6" text-anchor="middle" fill="#cc4a62" stroke="#cc4a62" stroke-width="0.12">T</text>
<text x="58.60" y="383.70" font-size="6.6" text-anchor="middle" fill="#4b6eaa" stroke="#4b6eaa" stroke-width="0.12">C</text>
<text x="61.90" y="383.70" font-size="6.6" text-anchor="middle" fill="#78b866" stroke="#78b866" stroke-width="0.12">A</text>
<text x="66.50" y="383.70" font-size="6.6" text-anchor="middle" fill="#cc4a62" stroke="#cc4a62" stroke-width="0.12">T</text>
<text x="74.20" y="383.70" font-size="6.6" text-anchor="middle" fill="#333333" stroke="#333333" stroke-width="0.12">G</text>
<text x="80.70" y="383.70" font-size="6.6" text-anchor="middle" fill="#cc4a62" stroke="#cc4a62" stroke-width="0.12">T</text>
<text x="87.20" y="383.70" font-size="6.6" text-anchor="middle" fill="#78b866" stroke="#78b866" stroke-width="0.12">A</text>
<text x="92.50" y="383.70" font-size="6.6" text-anchor="middle" fill="#cc4a62" stroke="#cc4a62" stroke-width="0.12">T</text>
<text x="97.80" y="383.70" font-size="6.6" text-anchor="middle" fill="#333333" stroke="#333333" stroke-width="0.12">G</text>
<text x="103.20" y="383.70" font-size="6.6" text-anchor="middle" fill="#4b6eaa" stroke="#4b6eaa" stroke-width="0.12">C</text>
<text x="110.60" y="383.70" font-size="6.6" text-anchor="middle" fill="#cc4a62" stroke="#cc4a62" stroke-width="0.12">T</text>
<text x="114.40" y="383.70" font-size="6.6" text-anchor="middle" fill="#78b866" stroke="#78b866" stroke-width="0.12">A</text>
<text x="118.60" y="383.70" font-size="6.6" text-anchor="middle" fill="#4b6eaa" stroke="#4b6eaa" stroke-width="0.12">C</text>
<text x="122.90" y="383.70" font-size="6.6" text-anchor="middle" fill="#4b6eaa" stroke="#4b6eaa" stroke-width="0.12">C</text>
<text x="129.00" y="383.70" font-size="6.6" text-anchor="middle" fill="#78b866" stroke="#78b866" stroke-width="0.12">A</text>
<text x="132.90" y="383.70" font-size="6.6" text-anchor="middle" fill="#78b866" stroke="#78b866" stroke-width="0.12">A</text>
<text x="139.90" y="383.70" font-size="6.6" text-anchor="middle" fill="#cc4a62" stroke="#cc4a62" stroke-width="0.12">T</text>
<text x="145.60" y="383.70" font-size="6.6" text-anchor="middle" fill="#78b866" stroke="#78b866" stroke-width="0.12">A</text>
<text x="150.80" y="383.70" font-size="6.6" text-anchor="middle" fill="#cc4a62" stroke="#cc4a62" stroke-width="0.12">T</text>
<text x="156.50" y="383.70" font-size="6.6" text-anchor="middle" fill="#4b6eaa" stroke="#4b6eaa" stroke-width="0.12">C</text>
<text x="161.30" y="383.70" font-size="6.6" text-anchor="middle" fill="#4b6eaa" stroke="#4b6eaa" stroke-width="0.12">C</text>
<text x="166.30" y="383.70" font-size="6.6" text-anchor="middle" fill="#cc4a62" stroke="#cc4a62" stroke-width="0.12">T</text>
<text x="174.30" y="383.70" font-size="6.6" text-anchor="middle" fill="#4b6eaa" stroke="#4b6eaa" stroke-width="0.12">C</text>
<text x="180.30" y="383.70" font-size="6.6" text-anchor="middle" fill="#333333" stroke="#333333" stroke-width="0.12">G</text>
<text x="186.00" y="383.70" font-size="6.6" text-anchor="middle" fill="#cc4a62" stroke="#cc4a62" stroke-width="0.12">T</text>
<polyline points="56.50,372.40 56.85,372.40 57.20,372.40 57.55,372.40 57.90,372.40 58.25,372.39 58.60,372.38 58.95,372.34 59.30,372.28 59.65,372.17 60.00,371.96 60.35,371.64 60.70,371.15 61.05,370.48 61.40,369.61 61.75,368.61 62.10,367.55 62.45,366.58 62.80,365.83 63.15,365.44 63.50,365.47 63.85,365.92 64.20,366.71 64.55,367.70 64.90,368.76 65.25,369.75 65.60,370.58 65.95,371.23 66.30,371.70 66.65,372.00 67.00,372.19 67.35,372.29 67.70,372.35 68.05,372.38 68.40,372.39 68.75,372.40 69.10,372.40 69.45,372.40 69.80,372.40 70.15,372.40 70.50,372.40 70.85,372.40 71.20,372.40 71.55,372.40 71.90,372.40 72.25,372.40 72.60,372.40 72.95,372.40 73.30,372.40 73.65,372.40 74.00,372.40 74.35,372.40 74.70,372.40 75.05,372.40 75.40,372.40 75.75,372.40 76.10,372.40 76.45,372.40 76.80,372.40 77.15,372.40 77.50,372.40 77.85,372.40 78.20,372.40 78.55,372.40 78.90,372.40 79.25,372.40 79.60,372.40 79.95,372.40 80.30,372.40 80.65,372.40 81.00,372.40 81.35,372.40 81.70,372.40 82.05,372.39 82.40,372.38 82.75,372.35 83.10,372.29 83.45,372.18 83.80,371.97 84.15,371.63 84.50,371.09 84.85,370.30 85.20,369.25 85.55,367.96 85.90,366.52 86.25,365.08 86.60,363.84 86.95,363.00 87.30,362.70 87.65,363.00 88.00,363.84 88.35,365.08 88.70,366.52 89.05,367.96 89.40,369.25 89.75,370.30 90.10,371.09 90.45,371.63 90.80,371.97 91.15,372.18 91.50,372.29 91.85,372.35 92.20,372.38 92.55,372.39 92.90,372.40 93.25,372.40 93.60,372.40 93.95,372.40 94.30,372.40 94.65,372.40 95.00,372.40 95.35,372.40 95.70,372.40 96.05,372.40 96.40,372.40 96.75,372.40 97.10,372.40 97.45,372.40 97.80,372.40 98.15,372.40 98.50,372.40 98.85,372.40 99.20,372.40 99.55,372.40 99.90,372.40 100.25,372.40 100.60,372.40 100.95,372.40 101.30,372.40 101.65,372.40 102.00,372.40 102.35,372.40 102.70,372.40 103.05,372.40 103.40,372.40 103.75,372.40 104.10,372.40 104.45,372.40 104.80,372.40 105.15,372.40 105.50,372.40 105.85,372.40 106.20,372.40 106.55,372.40 106.90,372.40 107.25,372.40 107.60,372.40 107.95,372.40 108.30,372.40 108.65,372.40 109.00,372.39 109.35,372.38 109.70,372.36 110.05,372.30 110.40,372.21 110.75,372.03 111.10,371.74 111.45,371.28 111.80,370.63 112.15,369.76 112.50,368.72 112.85,367.56 113.20,366.43 113.55,365.49 113.90,364.87 114.25,364.70 114.60,365.01 114.95,365.73 115.30,366.74 115.65,367.90 116.00,369.03 116.35,370.03 116.70,370.84 117.05,371.43 117.40,371.84 117.75,372.09 118.10,372.24 118.45,372.32 118.80,372.37 119.15,372.39 119.50,372.39 119.85,372.40 120.20,372.40 120.55,372.40 120.90,372.40 121.25,372.40 121.60,372.40 121.95,372.40 122.30,372.40 122.65,372.40 123.00,372.40 123.35,372.40 123.70,372.40 124.05,372.40 124.40,372.39 124.75,372.38 125.10,372.36 125.45,372.31 125.80,372.23 126.15,372.09 126.50,371.86 126.85,371.52 127.20,371.06 127.55,370.48 127.90,369.81 128.25,369.12 128.60,368.49 128.95,368.03 129.30,367.81 129.65,367.86 130.00,368.17 130.35,368.68 130.70,369.28 131.05,369.85 131.40,370.29 131.75,370.51 132.10,370.46 132.45,370.16 132.80,369.62 133.15,368.94 133.50,368.23 133.85,367.61 134.20,367.21 134.55,367.10 134.90,367.31 135.25,367.81 135.60,368.51 135.95,369.30 136.30,370.08 136.65,370.77 137.00,371.32 137.35,371.73 137.70,372.01 138.05,372.19 138.40,372.29 138.75,372.35 139.10,372.38 139.45,372.39 139.80,372.39 140.15,372.39 140.50,372.39 140.85,372.37 141.20,372.33 141.55,372.25 141.90,372.10 142.25,371.84 142.60,371.41 142.95,370.77 143.30,369.86 143.65,368.69 144.00,367.30 144.35,365.82 144.70,364.43 145.05,363.33 145.40,362.70 145.75,362.66 146.10,363.21 146.45,364.25 146.80,365.61 147.15,367.09 147.50,368.50 147.85,369.71 148.20,370.65 148.55,371.34 148.90,371.79 149.25,372.07 149.60,372.23 149.95,372.32 150.30,372.37 150.65,372.39 151.00,372.39 151.35,372.40 151.70,372.40 152.05,372.40 152.40,372.40 152.75,372.40 153.10,372.40 153.45,372.40 153.80,372.40 154.15,372.40 154.50,372.40 154.85,372.40 155.20,372.40 155.55,372.40 155.90,372.40 156.25,372.40 156.60,372.40 156.95,372.40 157.30,372.40 157.65,372.40 158.00,372.40 158.35,372.40 158.70,372.40 159.05,372.40 159.40,372.40 159.75,372.40 160.10,372.40 160.45,372.40 160.80,372.40 161.15,372.40 161.50,372.40 161.85,372.40 162.20,372.40 162.55,372.40 162.90,372.40 163.25,372.40 163.60,372.40 163.95,372.40 164.30,372.40 164.65,372.40 165.00,372.40 165.35,372.40 165.70,372.40 166.05,372.40 166.40,372.40 166.75,372.40 167.10,372.40 167.45,372.40 167.80,372.40 168.15,372.40 168.50,372.40 168.85,372.40 169.20,372.40 169.55,372.40 169.90,372.40 170.25,372.40 170.60,372.40 170.95,372.40 171.30,372.40 171.65,372.40 172.00,372.40 172.35,372.40 172.70,372.40 173.05,372.40 173.40,372.40 173.75,372.40 174.10,372.40 174.45,372.40 174.80,372.40 175.15,372.40 175.50,372.40 175.85,372.40 176.20,372.40 176.55,372.40 176.90,372.40 177.25,372.40 177.60,372.40 177.95,372.40 178.30,372.40 178.65,372.40 179.00,372.40 179.35,372.40 179.70,372.40 180.05,372.40 180.40,372.40 180.75,372.40 181.10,372.40 181.45,372.40 181.80,372.40 182.15,372.40 182.50,372.40 182.85,372.40 183.20,372.40 183.55,372.40 183.90,372.40 184.25,372.40 184.60,372.40 184.95,372.40 185.30,372.40 185.65,372.40 186.00,372.40 186.35,372.40 186.70,372.40 187.05,372.40 187.40,372.40 187.75,372.40 188.10,372.40 188.45,372.40 188.80,372.40 189.15,372.40 189.50,372.40 189.85,372.40 190.20,372.40" fill="none" stroke="#62a85e" stroke-width="0.75" stroke-linejoin="round"/>
<polyline points="56.50,370.57 56.85,369.63 57.20,368.46 57.55,367.14 57.90,365.79 58.25,364.60 58.60,363.76 58.95,363.41 59.30,363.60 59.65,364.32 60.00,365.43 60.35,366.75 60.70,368.09 61.05,369.32 61.40,370.33 61.75,371.09 62.10,371.62 62.45,371.97 62.80,372.17 63.15,372.29 63.50,372.35 63.85,372.38 64.20,372.39 64.55,372.40 64.90,372.40 65.25,372.40 65.60,372.40 65.95,372.40 66.30,372.40 66.65,372.40 67.00,372.40 67.35,372.40 67.70,372.40 68.05,372.40 68.40,372.40 68.75,372.40 69.10,372.40 69.45,372.40 69.80,372.40 70.15,372.40 70.50,372.40 70.85,372.40 71.20,372.40 71.55,372.40 71.90,372.40 72.25,372.40 72.60,372.40 72.95,372.40 73.30,372.40 73.65,372.40 74.00,372.40 74.35,372.40 74.70,372.40 75.05,372.40 75.40,372.40 75.75,372.40 76.10,372.40 76.45,372.40 76.80,372.40 77.15,372.40 77.50,372.40 77.85,372.40 78.20,372.40 78.55,372.40 78.90,372.40 79.25,372.40 79.60,372.40 79.95,372.40 80.30,372.40 80.65,372.40 81.00,372.40 81.35,372.40 81.70,372.40 82.05,372.40 82.40,372.40 82.75,372.40 83.10,372.40 83.45,372.40 83.80,372.40 84.15,372.40 84.50,372.40 84.85,372.40 85.20,372.40 85.55,372.40 85.90,372.40 86.25,372.40 86.60,372.40 86.95,372.40 87.30,372.40 87.65,372.40 88.00,372.40 88.35,372.40 88.70,372.40 89.05,372.40 89.40,372.40 89.75,372.40 90.10,372.40 90.45,372.40 90.80,372.40 91.15,372.40 91.50,372.40 91.85,372.40 92.20,372.40 92.55,372.40 92.90,372.40 93.25,372.40 93.60,372.40 93.95,372.40 94.30,372.40 94.65,372.40 95.00,372.40 95.35,372.40 95.70,372.40 96.05,372.40 96.40,372.40 96.75,372.40 97.10,372.40 97.45,372.40 97.80,372.40 98.15,372.39 98.50,372.38 98.85,372.36 99.20,372.31 99.55,372.22 99.90,372.04 100.25,371.74 100.60,371.26 100.95,370.55 101.30,369.58 101.65,368.35 102.00,366.94 102.35,365.48 102.70,364.16 103.05,363.19 103.40,362.72 103.75,362.85 104.10,363.55 104.45,364.69 104.80,366.10 105.15,367.56 105.50,368.90 105.85,370.03 106.20,370.89 106.55,371.50 106.90,371.89 107.25,372.13 107.60,372.27 107.95,372.34 108.30,372.37 108.65,372.39 109.00,372.40 109.35,372.40 109.70,372.40 110.05,372.40 110.40,372.40 110.75,372.40 111.10,372.40 111.45,372.40 111.80,372.40 112.15,372.40 112.50,372.40 112.85,372.40 113.20,372.40 113.55,372.40 113.90,372.40 114.25,372.39 114.60,372.39 114.95,372.37 115.30,372.32 115.65,372.24 116.00,372.08 116.35,371.81 116.70,371.38 117.05,370.74 117.40,369.87 117.75,368.77 118.10,367.50 118.45,366.19 118.80,365.01 119.15,364.14 119.50,363.72 119.85,363.83 120.20,364.45 120.55,365.47 120.90,366.69 121.25,367.94 121.60,369.03 121.95,369.84 122.30,370.28 122.65,370.32 123.00,369.97 123.35,369.28 123.70,368.33 124.05,367.24 124.40,366.19 124.75,365.35 125.10,364.87 125.45,364.84 125.80,365.27 126.15,366.08 126.50,367.14 126.85,368.28 127.20,369.37 127.55,370.31 127.90,371.05 128.25,371.57 128.60,371.93 128.95,372.15 129.30,372.27 129.65,372.34 130.00,372.37 130.35,372.39 130.70,372.40 131.05,372.40 131.40,372.40 131.75,372.40 132.10,372.40 132.45,372.40 132.80,372.40 133.15,372.40 133.50,372.40 133.85,372.40 134.20,372.40 134.55,372.40 134.90,372.40 135.25,372.40 135.60,372.40 135.95,372.40 136.30,372.40 136.65,372.40 137.00,372.40 137.35,372.40 137.70,372.40 138.05,372.40 138.40,372.40 138.75,372.40 139.10,372.40 139.45,372.40 139.80,372.40 140.15,372.40 140.50,372.40 140.85,372.40 141.20,372.40 141.55,372.40 141.90,372.40 142.25,372.40 142.60,372.40 142.95,372.40 143.30,372.40 143.65,372.40 144.00,372.40 144.35,372.40 144.70,372.40 145.05,372.40 145.40,372.40 145.75,372.40 146.10,372.40 146.45,372.40 146.80,372.40 147.15,372.40 147.50,372.40 147.85,372.40 148.20,372.40 148.55,372.40 148.90,372.40 149.25,372.40 149.60,372.40 149.95,372.40 150.30,372.40 150.65,372.40 151.00,372.40 151.35,372.40 151.70,372.40 152.05,372.39 152.40,372.37 152.75,372.34 153.10,372.26 153.45,372.13 153.80,371.90 154.15,371.53 154.50,370.97 154.85,370.20 155.20,369.21 155.55,368.07 155.90,366.86 156.25,365.75 156.60,364.89 156.95,364.44 157.30,364.46 157.65,364.96 158.00,365.81 158.35,366.86 158.70,367.91 159.05,368.77 159.40,369.31 159.75,369.44 160.10,369.16 160.45,368.51 160.80,367.61 161.15,366.62 161.50,365.72 161.85,365.11 162.20,364.89 162.55,365.13 162.90,365.78 163.25,366.74 163.60,367.85 163.95,368.97 164.30,369.97 164.65,370.78 165.00,371.38 165.35,371.80 165.70,372.07 166.05,372.23 166.40,372.32 166.75,372.36 167.10,372.38 167.45,372.39 167.80,372.40 168.15,372.40 168.50,372.40 168.85,372.40 169.20,372.40 169.55,372.40 169.90,372.40 170.25,372.40 170.60,372.40 170.95,372.40 171.30,372.40 171.65,372.40 172.00,372.40 172.35,372.40 172.70,372.40 173.05,372.40 173.40,372.40 173.75,372.40 174.10,372.40 174.45,372.40 174.80,372.40 175.15,372.40 175.50,372.40 175.85,372.40 176.20,372.40 176.55,372.40 176.90,372.40 177.25,372.40 177.60,372.40 177.95,372.40 178.30,372.40 178.65,372.40 179.00,372.40 179.35,372.40 179.70,372.40 180.05,372.40 180.40,372.40 180.75,372.40 181.10,372.40 181.45,372.40 181.80,372.40 182.15,372.40 182.50,372.40 182.85,372.40 183.20,372.40 183.55,372.40 183.90,372.40 184.25,372.40 184.60,372.40 184.95,372.40 185.30,372.40 185.65,372.40 186.00,372.40 186.35,372.40 186.70,372.40 187.05,372.40 187.40,372.40 187.75,372.40 188.10,372.40 188.45,372.40 188.80,372.40 189.15,372.40 189.50,372.40 189.85,372.40 190.20,372.40" fill="none" stroke="#5572a8" stroke-width="0.75" stroke-linejoin="round"/>
<polyline points="56.50,372.40 56.85,372.40 57.20,372.40 57.55,372.40 57.90,372.40 58.25,372.40 58.60,372.40 58.95,372.40 59.30,372.40 59.65,372.40 60.00,372.40 60.35,372.40 60.70,372.40 61.05,372.40 61.40,372.40 61.75,372.40 62.10,372.40 62.45,372.40 62.80,372.40 63.15,372.40 63.50,372.40 63.85,372.40 64.20,372.40 64.55,372.40 64.90,372.40 65.25,372.40 65.60,372.40 65.95,372.40 66.30,372.40 66.65,372.40 67.00,372.40 67.35,372.40 67.70,372.40 68.05,372.40 68.40,372.40 68.75,372.40 69.10,372.40 69.45,372.39 69.80,372.38 70.15,372.35 70.50,372.30 70.85,372.18 71.20,371.96 71.55,371.57 71.90,370.94 72.25,369.98 72.60,368.64 72.95,366.90 73.30,364.85 73.65,362.67 74.00,360.61 74.35,358.98 74.70,358.05 75.05,357.98 75.40,358.79 75.75,360.34 76.10,362.35 76.45,364.52 76.80,366.56 77.15,368.28 77.50,369.55 77.85,370.33 78.20,370.62 78.55,370.46 78.90,369.90 79.25,368.99 79.60,367.82 79.95,366.54 80.30,365.32 80.65,364.34 81.00,363.79 81.35,363.75 81.70,364.24 82.05,365.16 82.40,366.37 82.75,367.69 83.10,368.94 83.45,370.01 83.80,370.85 84.15,371.46 84.50,371.86 84.85,372.11 85.20,372.25 85.55,372.33 85.90,372.37 86.25,372.39 86.60,372.39 86.95,372.40 87.30,372.40 87.65,372.40 88.00,372.40 88.35,372.40 88.70,372.40 89.05,372.40 89.40,372.40 89.75,372.40 90.10,372.40 90.45,372.40 90.80,372.40 91.15,372.40 91.50,372.40 91.85,372.40 92.20,372.40 92.55,372.40 92.90,372.39 93.25,372.38 93.60,372.35 93.95,372.29 94.30,372.16 94.65,371.93 95.00,371.53 95.35,370.88 95.70,369.90 96.05,368.55 96.40,366.83 96.75,364.81 97.10,362.70 97.45,360.76 97.80,359.26 98.15,358.48 98.50,358.54 98.85,359.44 99.20,361.01 99.55,363.00 99.90,365.11 100.25,367.09 100.60,368.77 100.95,370.07 101.30,370.99 101.65,371.60 102.00,371.97 102.35,372.19 102.70,372.30 103.05,372.36 103.40,372.38 103.75,372.39 104.10,372.40 104.45,372.40 104.80,372.40 105.15,372.40 105.50,372.40 105.85,372.40 106.20,372.40 106.55,372.40 106.90,372.40 107.25,372.40 107.60,372.40 107.95,372.40 108.30,372.40 108.65,372.40 109.00,372.40 109.35,372.40 109.70,372.40 110.05,372.40 110.40,372.40 110.75,372.40 111.10,372.40 111.45,372.40 111.80,372.40 112.15,372.40 112.50,372.40 112.85,372.40 113.20,372.40 113.55,372.40 113.90,372.40 114.25,372.40 114.60,372.40 114.95,372.40 115.30,372.40 115.65,372.40 116.00,372.40 116.35,372.40 116.70,372.40 117.05,372.40 117.40,372.40 117.75,372.40 118.10,372.40 118.45,372.40 118.80,372.40 119.15,372.40 119.50,372.40 119.85,372.40 120.20,372.40 120.55,372.40 120.90,372.40 121.25,372.40 121.60,372.40 121.95,372.40 122.30,372.40 122.65,372.40 123.00,372.40 123.35,372.40 123.70,372.40 124.05,372.40 124.40,372.40 124.75,372.40 125.10,372.40 125.45,372.40 125.80,372.40 126.15,372.40 126.50,372.40 126.85,372.40 127.20,372.40 127.55,372.40 127.90,372.40 128.25,372.40 128.60,372.40 128.95,372.40 129.30,372.40 129.65,372.40 130.00,372.40 130.35,372.40 130.70,372.40 131.05,372.40 131.40,372.40 131.75,372.40 132.10,372.40 132.45,372.40 132.80,372.40 133.15,372.40 133.50,372.40 133.85,372.40 134.20,372.40 134.55,372.40 134.90,372.40 135.25,372.40 135.60,372.40 135.95,372.40 136.30,372.40 136.65,372.40 137.00,372.40 137.35,372.40 137.70,372.40 138.05,372.40 138.40,372.40 138.75,372.40 139.10,372.40 139.45,372.40 139.80,372.40 140.15,372.40 140.50,372.40 140.85,372.40 141.20,372.40 141.55,372.40 141.90,372.40 142.25,372.40 142.60,372.40 142.95,372.40 143.30,372.40 143.65,372.40 144.00,372.40 144.35,372.40 144.70,372.40 145.05,372.40 145.40,372.40 145.75,372.40 146.10,372.40 146.45,372.40 146.80,372.40 147.15,372.40 147.50,372.40 147.85,372.40 148.20,372.40 148.55,372.40 148.90,372.40 149.25,372.40 149.60,372.40 149.95,372.40 150.30,372.40 150.65,372.40 151.00,372.40 151.35,372.40 151.70,372.40 152.05,372.40 152.40,372.40 152.75,372.40 153.10,372.40 153.45,372.40 153.80,372.40 154.15,372.40 154.50,372.40 154.85,372.40 155.20,372.40 155.55,372.40 155.90,372.40 156.25,372.40 156.60,372.40 156.95,372.40 157.30,372.40 157.65,372.40 158.00,372.40 158.35,372.40 158.70,372.40 159.05,372.40 159.40,372.40 159.75,372.40 160.10,372.40 160.45,372.40 160.80,372.40 161.15,372.40 161.50,372.40 161.85,372.40 162.20,372.40 162.55,372.40 162.90,372.40 163.25,372.40 163.60,372.40 163.95,372.40 164.30,372.40 164.65,372.40 165.00,372.40 165.35,372.40 165.70,372.40 166.05,372.40 166.40,372.40 166.75,372.40 167.10,372.40 167.45,372.40 167.80,372.40 168.15,372.40 168.50,372.40 168.85,372.40 169.20,372.39 169.55,372.38 169.90,372.35 170.25,372.30 170.60,372.18 170.95,371.95 171.30,371.55 171.65,370.88 172.00,369.86 172.35,368.42 172.70,366.52 173.05,364.26 173.40,361.81 173.75,359.45 174.10,357.53 174.45,356.36 174.80,356.14 175.15,356.92 175.50,358.55 175.85,360.76 176.20,363.19 176.55,365.53 176.90,367.53 177.25,369.04 177.60,370.02 177.95,370.47 178.30,370.45 178.65,370.01 179.00,369.23 179.35,368.22 179.70,367.11 180.05,366.07 180.40,365.27 180.75,364.84 181.10,364.88 181.45,365.36 181.80,366.22 182.15,367.30 182.50,368.44 182.85,369.52 183.20,370.43 183.55,371.13 183.90,371.63 184.25,371.97 184.60,372.17 184.95,372.28 185.30,372.35 185.65,372.38 186.00,372.39 186.35,372.40 186.70,372.40 187.05,372.40 187.40,372.40 187.75,372.40 188.10,372.40 188.45,372.40 188.80,372.40 189.15,372.40 189.50,372.40 189.85,372.40 190.20,372.40" fill="none" stroke="#2a2a2a" stroke-width="0.75" stroke-linejoin="round"/>
<polyline points="56.50,372.40 56.85,372.40 57.20,372.40 57.55,372.40 57.90,372.40 58.25,372.40 58.60,372.40 58.95,372.40 59.30,372.40 59.65,372.40 60.00,372.40 60.35,372.40 60.70,372.40 61.05,372.40 61.40,372.40 61.75,372.40 62.10,372.40 62.45,372.40 62.80,372.40 63.15,372.39 63.50,372.39 63.85,372.37 64.20,372.33 64.55,372.25 64.90,372.11 65.25,371.86 65.60,371.46 65.95,370.88 66.30,370.07 66.65,369.06 67.00,367.89 67.35,366.69 67.70,365.61 68.05,364.80 68.40,364.42 68.75,364.53 69.10,365.10 69.45,366.05 69.80,367.20 70.15,368.41 70.50,369.52 70.85,370.44 71.20,371.15 71.55,371.65 71.90,371.98 72.25,372.18 72.60,372.29 72.95,372.35 73.30,372.38 73.65,372.39 74.00,372.40 74.35,372.40 74.70,372.40 75.05,372.40 75.40,372.40 75.75,372.40 76.10,372.40 76.45,372.40 76.80,372.40 77.15,372.40 77.50,372.40 77.85,372.40 78.20,372.40 78.55,372.40 78.90,372.40 79.25,372.40 79.60,372.40 79.95,372.40 80.30,372.40 80.65,372.40 81.00,372.40 81.35,372.40 81.70,372.40 82.05,372.40 82.40,372.40 82.75,372.40 83.10,372.40 83.45,372.40 83.80,372.40 84.15,372.40 84.50,372.40 84.85,372.40 85.20,372.40 85.55,372.40 85.90,372.40 86.25,372.40 86.60,372.39 86.95,372.39 87.30,372.37 87.65,372.33 88.00,372.25 88.35,372.10 88.70,371.84 89.05,371.42 89.40,370.80 89.75,369.93 90.10,368.82 90.45,367.52 90.80,366.17 91.15,364.91 91.50,363.96 91.85,363.45 92.20,363.49 92.55,364.07 92.90,365.08 93.25,366.36 93.60,367.72 93.95,368.99 94.30,370.07 94.65,370.90 95.00,371.49 95.35,371.89 95.70,372.13 96.05,372.26 96.40,372.34 96.75,372.37 97.10,372.39 97.45,372.40 97.80,372.40 98.15,372.40 98.50,372.40 98.85,372.40 99.20,372.40 99.55,372.40 99.90,372.40 100.25,372.40 100.60,372.40 100.95,372.40 101.30,372.40 101.65,372.40 102.00,372.40 102.35,372.40 102.70,372.40 103.05,372.40 103.40,372.40 103.75,372.40 104.10,372.40 104.45,372.39 104.80,372.37 105.15,372.34 105.50,372.26 105.85,372.13 106.20,371.90 106.55,371.53 106.90,370.97 107.25,370.20 107.60,369.21 107.95,368.07 108.30,366.86 108.65,365.75 109.00,364.89 109.35,364.45 109.70,364.48 110.05,364.99 110.40,365.89 110.75,367.03 111.10,368.24 111.45,369.37 111.80,370.33 112.15,371.07 112.50,371.59 112.85,371.94 113.20,372.16 113.55,372.28 113.90,372.34 114.25,372.37 114.60,372.39 114.95,372.40 115.30,372.40 115.65,372.40 116.00,372.40 116.35,372.40 116.70,372.40 117.05,372.40 117.40,372.40 117.75,372.40 118.10,372.40 118.45,372.40 118.80,372.40 119.15,372.40 119.50,372.40 119.85,372.40 120.20,372.40 120.55,372.40 120.90,372.40 121.25,372.40 121.60,372.40 121.95,372.40 122.30,372.40 122.65,372.40 123.00,372.40 123.35,372.40 123.70,372.40 124.05,372.40 124.40,372.40 124.75,372.40 125.10,372.40 125.45,372.40 125.80,372.40 126.15,372.40 126.50,372.40 126.85,372.40 127.20,372.40 127.55,372.40 127.90,372.40 128.25,372.40 128.60,372.40 128.95,372.40 129.30,372.40 129.65,372.40 130.00,372.40 130.35,372.40 130.70,372.40 131.05,372.40 131.40,372.40 131.75,372.40 132.10,372.40 132.45,372.40 132.80,372.40 133.15,372.40 133.50,372.40 133.85,372.40 134.20,372.40 134.55,372.40 134.90,372.40 135.25,372.40 135.60,372.39 135.95,372.38 136.30,372.36 136.65,372.31 137.00,372.21 137.35,372.04 137.70,371.75 138.05,371.30 138.40,370.65 138.75,369.80 139.10,368.76 139.45,367.63 139.80,366.51 140.15,365.58 140.50,364.97 140.85,364.80 141.20,365.10 141.55,365.82 141.90,366.82 142.25,367.95 142.60,369.07 142.95,370.06 143.30,370.86 143.65,371.44 144.00,371.84 144.35,372.09 144.70,372.24 145.05,372.32 145.40,372.37 145.75,372.38 146.10,372.39 146.45,372.39 146.80,372.38 147.15,372.35 147.50,372.29 147.85,372.18 148.20,371.98 148.55,371.65 148.90,371.15 149.25,370.44 149.60,369.52 149.95,368.41 150.30,367.20 150.65,366.05 151.00,365.10 151.35,364.53 151.70,364.42 152.05,364.80 152.40,365.61 152.75,366.69 153.10,367.89 153.45,369.06 153.80,370.07 154.15,370.88 154.50,371.46 154.85,371.86 155.20,372.11 155.55,372.25 155.90,372.33 156.25,372.37 156.60,372.39 156.95,372.39 157.30,372.40 157.65,372.40 158.00,372.40 158.35,372.40 158.70,372.40 159.05,372.40 159.40,372.40 159.75,372.40 160.10,372.40 160.45,372.40 160.80,372.40 161.15,372.40 161.50,372.40 161.85,372.40 162.20,372.40 162.55,372.40 162.90,372.40 163.25,372.39 163.60,372.38 163.95,372.36 164.30,372.32 164.65,372.23 165.00,372.07 165.35,371.80 165.70,371.38 166.05,370.78 166.40,369.97 166.75,368.97 167.10,367.85 167.45,366.74 167.80,365.78 168.15,365.13 168.50,364.90 168.85,365.13 169.20,365.78 169.55,366.74 169.90,367.85 170.25,368.97 170.60,369.97 170.95,370.78 171.30,371.38 171.65,371.80 172.00,372.07 172.35,372.23 172.70,372.32 173.05,372.36 173.40,372.38 173.75,372.39 174.10,372.40 174.45,372.40 174.80,372.40 175.15,372.40 175.50,372.40 175.85,372.40 176.20,372.40 176.55,372.40 176.90,372.40 177.25,372.40 177.60,372.40 177.95,372.40 178.30,372.40 178.65,372.40 179.00,372.40 179.35,372.40 179.70,372.40 180.05,372.40 180.40,372.40 180.75,372.40 181.10,372.40 181.45,372.40 181.80,372.40 182.15,372.39 182.50,372.37 182.85,372.34 183.20,372.27 183.55,372.15 183.90,371.93 184.25,371.59 184.60,371.06 184.95,370.34 185.30,369.41 185.65,368.34 186.00,367.21 186.35,366.16 186.70,365.36 187.05,364.94 187.40,364.98 187.75,365.46 188.10,366.30 188.45,367.37 188.80,368.50 189.15,369.56 189.50,370.45 189.85,371.15 190.20,371.64" fill="none" stroke="#c03a55" stroke-width="0.75" stroke-linejoin="round"/>
<polyline points="56.50,407.20 56.85,407.20 57.20,407.20 57.55,407.20 57.90,407.20 58.25,407.19 58.60,407.19 58.95,407.17 59.30,407.13 59.65,407.05 60.00,406.91 60.35,406.67 60.70,406.29 61.05,405.75 61.40,405.02 61.75,404.13 62.10,403.14 62.45,402.14 62.80,401.29 63.15,400.71 63.50,400.50 63.85,400.71 64.20,401.29 64.55,402.14 64.90,403.14 65.25,404.13 65.60,405.02 65.95,405.75 66.30,406.29 66.65,406.67 67.00,406.91 67.35,407.05 67.70,407.13 68.05,407.17 68.40,407.19 68.75,407.19 69.10,407.20 69.45,407.20 69.80,407.20 70.15,407.20 70.50,407.20 70.85,407.20 71.20,407.20 71.55,407.20 71.90,407.20 72.25,407.20 72.60,407.20 72.95,407.20 73.30,407.20 73.65,407.20 74.00,407.20 74.35,407.20 74.70,407.20 75.05,407.20 75.40,407.20 75.75,407.20 76.10,407.20 76.45,407.20 76.80,407.20 77.15,407.20 77.50,407.20 77.85,407.20 78.20,407.20 78.55,407.20 78.90,407.20 79.25,407.20 79.60,407.20 79.95,407.20 80.30,407.20 80.65,407.20 81.00,407.20 81.35,407.20 81.70,407.19 82.05,407.19 82.40,407.17 82.75,407.13 83.10,407.05 83.45,406.90 83.80,406.66 84.15,406.27 84.50,405.70 84.85,404.92 85.20,403.96 85.55,402.87 85.90,401.77 86.25,400.79 86.60,400.10 86.95,399.80 87.30,399.97 87.65,400.56 88.00,401.47 88.35,402.55 88.70,403.66 89.05,404.67 89.40,405.50 89.75,406.13 90.10,406.56 90.45,406.84 90.80,407.01 91.15,407.11 91.50,407.16 91.85,407.18 92.20,407.19 92.55,407.20 92.90,407.20 93.25,407.20 93.60,407.20 93.95,407.20 94.30,407.20 94.65,407.20 95.00,407.20 95.35,407.20 95.70,407.20 96.05,407.20 96.40,407.20 96.75,407.20 97.10,407.20 97.45,407.20 97.80,407.20 98.15,407.20 98.50,407.20 98.85,407.20 99.20,407.20 99.55,407.20 99.90,407.20 100.25,407.20 100.60,407.20 100.95,407.20 101.30,407.20 101.65,407.20 102.00,407.20 102.35,407.20 102.70,407.20 103.05,407.20 103.40,407.20 103.75,407.20 104.10,407.20 104.45,407.20 104.80,407.20 105.15,407.20 105.50,407.20 105.85,407.20 106.20,407.20 106.55,407.20 106.90,407.20 107.25,407.20 107.60,407.20 107.95,407.20 108.30,407.20 108.65,407.20 109.00,407.20 109.35,407.19 109.70,407.18 110.05,407.15 110.40,407.09 110.75,406.97 111.10,406.77 111.45,406.44 111.80,405.92 112.15,405.20 112.50,404.24 112.85,403.11 113.20,401.87 113.55,400.69 113.90,399.72 114.25,399.13 114.60,399.02 114.95,399.41 115.30,400.24 115.65,401.35 116.00,402.58 116.35,403.78 116.70,404.81 117.05,405.64 117.40,406.24 117.75,406.65 118.10,406.90 118.45,407.05 118.80,407.13 119.15,407.17 119.50,407.19 119.85,407.19 120.20,407.20 120.55,407.20 120.90,407.20 121.25,407.20 121.60,407.20 121.95,407.20 122.30,407.20 122.65,407.20 123.00,407.20 123.35,407.20 123.70,407.20 124.05,407.20 124.40,407.20 124.75,407.19 125.10,407.18 125.45,407.16 125.80,407.11 126.15,407.01 126.50,406.85 126.85,406.59 127.20,406.20 127.55,405.66 127.90,404.97 128.25,404.17 128.60,403.32 128.95,402.54 129.30,401.94 129.65,401.62 130.00,401.62 130.35,401.94 130.70,402.49 131.05,403.15 131.40,403.77 131.75,404.21 132.10,404.37 132.45,404.21 132.80,403.77 133.15,403.11 133.50,402.38 133.85,401.73 134.20,401.30 134.55,401.19 134.90,401.43 135.25,402.00 135.60,402.79 135.95,403.69 136.30,404.57 136.65,405.35 137.00,405.98 137.35,406.44 137.70,406.76 138.05,406.96 138.40,407.08 138.75,407.14 139.10,407.17 139.45,407.19 139.80,407.19 140.15,407.20 140.50,407.19 140.85,407.19 141.20,407.17 141.55,407.13 141.90,407.06 142.25,406.91 142.60,406.65 142.95,406.22 143.30,405.56 143.65,404.63 144.00,403.42 144.35,401.96 144.70,400.38 145.05,398.86 145.40,397.62 145.75,396.87 146.10,396.73 146.45,397.23 146.80,398.28 147.15,399.71 147.50,401.29 147.85,402.81 148.20,404.15 148.55,405.20 148.90,405.97 149.25,406.49 149.60,406.82 149.95,407.00 150.30,407.11 150.65,407.16 151.00,407.18 151.35,407.19 151.70,407.20 152.05,407.20 152.40,407.20 152.75,407.20 153.10,407.20 153.45,407.20 153.80,407.20 154.15,407.20 154.50,407.20 154.85,407.20 155.20,407.20 155.55,407.20 155.90,407.20 156.25,407.20 156.60,407.20 156.95,407.20 157.30,407.20 157.65,407.20 158.00,407.20 158.35,407.20 158.70,407.20 159.05,407.20 159.40,407.20 159.75,407.20 160.10,407.20 160.45,407.20 160.80,407.20 161.15,407.20 161.50,407.20 161.85,407.20 162.20,407.20 162.55,407.20 162.90,407.20 163.25,407.20 163.60,407.20 163.95,407.20 164.30,407.20 164.65,407.20 165.00,407.20 165.35,407.20 165.70,407.20 166.05,407.20 166.40,407.20 166.75,407.20 167.10,407.20 167.45,407.20 167.80,407.20 168.15,407.20 168.50,407.20 168.85,407.20 169.20,407.20 169.55,407.20 169.90,407.20 170.25,407.20 170.60,407.20 170.95,407.20 171.30,407.20 171.65,407.20 172.00,407.20 172.35,407.20 172.70,407.20 173.05,407.20 173.40,407.20 173.75,407.20 174.10,407.20 174.45,407.20 174.80,407.20 175.15,407.20 175.50,407.20 175.85,407.20 176.20,407.20 176.55,407.20 176.90,407.20 177.25,407.20 177.60,407.20 177.95,407.20 178.30,407.20 178.65,407.20 179.00,407.20 179.35,407.20 179.70,407.20 180.05,407.20 180.40,407.20 180.75,407.20 181.10,407.20 181.45,407.20 181.80,407.20 182.15,407.20 182.50,407.20 182.85,407.20 183.20,407.20 183.55,407.20 183.90,407.20 184.25,407.20 184.60,407.20 184.95,407.20 185.30,407.20 185.65,407.20 186.00,407.20 186.35,407.20 186.70,407.20 187.05,407.20 187.40,407.20 187.75,407.20 188.10,407.20 188.45,407.20 188.80,407.20 189.15,407.20 189.50,407.20 189.85,407.20 190.20,407.20" fill="none" stroke="#62a85e" stroke-width="0.75" stroke-linejoin="round"/>
<polyline points="56.50,405.37 56.85,404.43 57.20,403.26 57.55,401.94 57.90,400.59 58.25,399.40 58.60,398.56 58.95,398.21 59.30,398.40 59.65,399.12 60.00,400.23 60.35,401.55 60.70,402.89 61.05,404.12 61.40,405.13 61.75,405.89 62.10,406.42 62.45,406.77 62.80,406.97 63.15,407.09 63.50,407.15 63.85,407.18 64.20,407.19 64.55,407.20 64.90,407.20 65.25,407.20 65.60,407.20 65.95,407.20 66.30,407.20 66.65,407.20 67.00,407.20 67.35,407.20 67.70,407.20 68.05,407.20 68.40,407.20 68.75,407.20 69.10,407.20 69.45,407.20 69.80,407.20 70.15,407.20 70.50,407.20 70.85,407.20 71.20,407.20 71.55,407.20 71.90,407.20 72.25,407.20 72.60,407.20 72.95,407.20 73.30,407.20 73.65,407.20 74.00,407.20 74.35,407.20 74.70,407.20 75.05,407.20 75.40,407.20 75.75,407.20 76.10,407.20 76.45,407.20 76.80,407.20 77.15,407.20 77.50,407.20 77.85,407.20 78.20,407.20 78.55,407.20 78.90,407.20 79.25,407.20 79.60,407.20 79.95,407.20 80.30,407.20 80.65,407.20 81.00,407.20 81.35,407.20 81.70,407.20 82.05,407.20 82.40,407.20 82.75,407.20 83.10,407.20 83.45,407.20 83.80,407.20 84.15,407.20 84.50,407.20 84.85,407.20 85.20,407.20 85.55,407.20 85.90,407.20 86.25,407.20 86.60,407.20 86.95,407.20 87.30,407.20 87.65,407.20 88.00,407.20 88.35,407.20 88.70,407.20 89.05,407.20 89.40,407.20 89.75,407.20 90.10,407.20 90.45,407.20 90.80,407.20 91.15,407.20 91.50,407.20 91.85,407.20 92.20,407.20 92.55,407.20 92.90,407.20 93.25,407.20 93.60,407.20 93.95,407.20 94.30,407.20 94.65,407.20 95.00,407.20 95.35,407.20 95.70,407.20 96.05,407.20 96.40,407.20 96.75,407.20 97.10,407.20 97.45,407.20 97.80,407.20 98.15,407.19 98.50,407.18 98.85,407.16 99.20,407.12 99.55,407.02 99.90,406.86 100.25,406.56 100.60,406.10 100.95,405.41 101.30,404.47 101.65,403.27 102.00,401.91 102.35,400.49 102.70,399.22 103.05,398.27 103.40,397.82 103.75,397.95 104.10,398.62 104.45,399.73 104.80,401.09 105.15,402.51 105.50,403.81 105.85,404.90 106.20,405.74 106.55,406.32 106.90,406.71 107.25,406.94 107.60,407.07 107.95,407.14 108.30,407.17 108.65,407.19 109.00,407.20 109.35,407.20 109.70,407.20 110.05,407.20 110.40,407.20 110.75,407.20 111.10,407.20 111.45,407.20 111.80,407.20 112.15,407.20 112.50,407.20 112.85,407.20 113.20,407.20 113.55,407.20 113.90,407.20 114.25,407.19 114.60,407.19 114.95,407.17 115.30,407.12 115.65,407.04 116.00,406.88 116.35,406.61 116.70,406.18 117.05,405.54 117.40,404.67 117.75,403.57 118.10,402.30 118.45,400.99 118.80,399.81 119.15,398.94 119.50,398.52 119.85,398.63 120.20,399.25 120.55,400.26 120.90,401.49 121.25,402.73 121.60,403.82 121.95,404.62 122.30,405.04 122.65,405.06 123.00,404.67 123.35,403.93 123.70,402.92 124.05,401.77 124.40,400.67 124.75,399.78 125.10,399.28 125.45,399.24 125.80,399.69 126.15,400.55 126.50,401.66 126.85,402.87 127.20,404.01 127.55,405.00 127.90,405.77 128.25,406.33 128.60,406.70 128.95,406.93 129.30,407.06 129.65,407.14 130.00,407.17 130.35,407.19 130.70,407.20 131.05,407.20 131.40,407.20 131.75,407.20 132.10,407.20 132.45,407.20 132.80,407.20 133.15,407.20 133.50,407.20 133.85,407.20 134.20,407.20 134.55,407.20 134.90,407.20 135.25,407.20 135.60,407.20 135.95,407.20 136.30,407.20 136.65,407.20 137.00,407.20 137.35,407.20 137.70,407.20 138.05,407.20 138.40,407.20 138.75,407.20 139.10,407.20 139.45,407.20 139.80,407.20 140.15,407.20 140.50,407.20 140.85,407.20 141.20,407.20 141.55,407.20 141.90,407.20 142.25,407.20 142.60,407.20 142.95,407.20 143.30,407.20 143.65,407.20 144.00,407.20 144.35,407.20 144.70,407.20 145.05,407.20 145.40,407.20 145.75,407.20 146.10,407.20 146.45,407.20 146.80,407.20 147.15,407.20 147.50,407.20 147.85,407.20 148.20,407.20 148.55,407.20 148.90,407.20 149.25,407.20 149.60,407.20 149.95,407.20 150.30,407.20 150.65,407.20 151.00,407.20 151.35,407.20 151.70,407.19 152.05,407.18 152.40,407.16 152.75,407.11 153.10,407.01 153.45,406.82 153.80,406.51 154.15,406.02 154.50,405.29 154.85,404.31 155.20,403.09 155.55,401.70 155.90,400.30 156.25,399.06 156.60,398.17 156.95,397.80 157.30,398.00 157.65,398.72 158.00,399.83 158.35,401.12 158.70,402.36 159.05,403.35 159.40,403.94 159.75,404.05 160.10,403.66 160.45,402.82 160.80,401.67 161.15,400.38 161.50,399.16 161.85,398.25 162.20,397.81 162.55,397.95 162.90,398.62 163.25,399.73 163.60,401.09 163.95,402.51 164.30,403.81 164.65,404.90 165.00,405.74 165.35,406.32 165.70,406.71 166.05,406.94 166.40,407.07 166.75,407.14 167.10,407.17 167.45,407.19 167.80,407.20 168.15,407.20 168.50,407.20 168.85,407.20 169.20,407.19 169.55,407.18 169.90,407.15 170.25,407.10 170.60,406.99 170.95,406.80 171.30,406.47 171.65,405.94 172.00,405.17 172.35,404.12 172.70,402.82 173.05,401.35 173.40,399.86 173.75,398.54 174.10,397.60 174.45,397.21 174.80,397.43 175.15,398.22 175.50,399.45 175.85,400.92 176.20,402.42 176.55,403.78 176.90,404.90 177.25,405.75 177.60,406.34 177.95,406.72 178.30,406.95 178.65,407.08 179.00,407.14 179.35,407.18 179.70,407.19 180.05,407.20 180.40,407.20 180.75,407.20 181.10,407.20 181.45,407.20 181.80,407.20 182.15,407.20 182.50,407.20 182.85,407.20 183.20,407.20 183.55,407.20 183.90,407.20 184.25,407.20 184.60,407.20 184.95,407.20 185.30,407.20 185.65,407.20 186.00,407.20 186.35,407.20 186.70,407.20 187.05,407.20 187.40,407.20 187.75,407.20 188.10,407.20 188.45,407.20 188.80,407.20 189.15,407.20 189.50,407.20 189.85,407.20 190.20,407.20" fill="none" stroke="#5572a8" stroke-width="0.75" stroke-linejoin="round"/>
<polyline points="56.50,407.20 56.85,407.20 57.20,407.20 57.55,407.20 57.90,407.20 58.25,407.20 58.60,407.20 58.95,407.20 59.30,407.20 59.65,407.20 60.00,407.20 60.35,407.20 60.70,407.20 61.05,407.20 61.40,407.20 61.75,407.20 62.10,407.20 62.45,407.20 62.80,407.20 63.15,407.20 63.50,407.20 63.85,407.20 64.20,407.20 64.55,407.20 64.90,407.20 65.25,407.20 65.60,407.20 65.95,407.20 66.30,407.20 66.65,407.20 67.00,407.20 67.35,407.20 67.70,407.20 68.05,407.20 68.40,407.20 68.75,407.20 69.10,407.20 69.45,407.19 69.80,407.18 70.15,407.16 70.50,407.10 70.85,406.99 71.20,406.77 71.55,406.40 71.90,405.79 72.25,404.87 72.60,403.57 72.95,401.89 73.30,399.91 73.65,397.80 74.00,395.81 74.35,394.24 74.70,393.34 75.05,393.28 75.40,394.06 75.75,395.56 76.10,397.50 76.45,399.61 76.80,401.62 77.15,403.34 77.50,404.68 77.85,405.63 78.20,406.24 78.55,406.56 78.90,406.67 79.25,406.61 79.60,406.42 79.95,406.13 80.30,405.78 80.65,405.41 81.00,405.08 81.35,404.83 81.70,404.71 82.05,404.74 82.40,404.92 82.75,405.21 83.10,405.58 83.45,405.95 83.80,406.30 84.15,406.59 84.50,406.81 84.85,406.97 85.20,407.07 85.55,407.13 85.90,407.17 86.25,407.18 86.60,407.19 86.95,407.20 87.30,407.20 87.65,407.20 88.00,407.20 88.35,407.20 88.70,407.20 89.05,407.20 89.40,407.20 89.75,407.20 90.10,407.20 90.45,407.20 90.80,407.20 91.15,407.20 91.50,407.20 91.85,407.20 92.20,407.20 92.55,407.20 92.90,407.19 93.25,407.18 93.60,407.15 93.95,407.10 94.30,406.98 94.65,406.77 95.00,406.39 95.35,405.79 95.70,404.88 96.05,403.63 96.40,402.02 96.75,400.16 97.10,398.20 97.45,396.39 97.80,395.00 98.15,394.27 98.50,394.33 98.85,395.17 99.20,396.63 99.55,398.47 99.90,400.43 100.25,402.27 100.60,403.83 100.95,405.03 101.30,405.89 101.65,406.46 102.00,406.80 102.35,407.00 102.70,407.11 103.05,407.16 103.40,407.18 103.75,407.19 104.10,407.20 104.45,407.20 104.80,407.20 105.15,407.20 105.50,407.20 105.85,407.20 106.20,407.20 106.55,407.20 106.90,407.20 107.25,407.20 107.60,407.20 107.95,407.20 108.30,407.20 108.65,407.20 109.00,407.20 109.35,407.20 109.70,407.20 110.05,407.20 110.40,407.20 110.75,407.20 111.10,407.20 111.45,407.20 111.80,407.20 112.15,407.20 112.50,407.20 112.85,407.20 113.20,407.20 113.55,407.20 113.90,407.20 114.25,407.20 114.60,407.20 114.95,407.20 115.30,407.20 115.65,407.20 116.00,407.20 116.35,407.20 116.70,407.20 117.05,407.20 117.40,407.20 117.75,407.20 118.10,407.20 118.45,407.20 118.80,407.20 119.15,407.20 119.50,407.20 119.85,407.20 120.20,407.20 120.55,407.20 120.90,407.20 121.25,407.20 121.60,407.20 121.95,407.20 122.30,407.20 122.65,407.20 123.00,407.20 123.35,407.20 123.70,407.20 124.05,407.20 124.40,407.20 124.75,407.20 125.10,407.20 125.45,407.20 125.80,407.20 126.15,407.20 126.50,407.20 126.85,407.20 127.20,407.20 127.55,407.20 127.90,407.20 128.25,407.20 128.60,407.20 128.95,407.20 129.30,407.20 129.65,407.20 130.00,407.20 130.35,407.20 130.70,407.20 131.05,407.20 131.40,407.20 131.75,407.20 132.10,407.20 132.45,407.20 132.80,407.20 133.15,407.20 133.50,407.20 133.85,407.20 134.20,407.20 134.55,407.20 134.90,407.20 135.25,407.20 135.60,407.20 135.95,407.20 136.30,407.20 136.65,407.20 137.00,407.20 137.35,407.20 137.70,407.20 138.05,407.20 138.40,407.20 138.75,407.20 139.10,407.20 139.45,407.20 139.80,407.20 140.15,407.20 140.50,407.20 140.85,407.20 141.20,407.20 141.55,407.20 141.90,407.20 142.25,407.20 142.60,407.20 142.95,407.20 143.30,407.20 143.65,407.20 144.00,407.20 144.35,407.20 144.70,407.20 145.05,407.20 145.40,407.20 145.75,407.20 146.10,407.20 146.45,407.20 146.80,407.20 147.15,407.20 147.50,407.20 147.85,407.20 148.20,407.20 148.55,407.20 148.90,407.20 149.25,407.20 149.60,407.20 149.95,407.20 150.30,407.20 150.65,407.20 151.00,407.20 151.35,407.20 151.70,407.20 152.05,407.20 152.40,407.20 152.75,407.20 153.10,407.20 153.45,407.20 153.80,407.20 154.15,407.20 154.50,407.20 154.85,407.20 155.20,407.20 155.55,407.20 155.90,407.20 156.25,407.20 156.60,407.20 156.95,407.20 157.30,407.20 157.65,407.20 158.00,407.20 158.35,407.20 158.70,407.20 159.05,407.20 159.40,407.20 159.75,407.20 160.10,407.20 160.45,407.20 160.80,407.20 161.15,407.20 161.50,407.20 161.85,407.20 162.20,407.20 162.55,407.20 162.90,407.20 163.25,407.20 163.60,407.20 163.95,407.20 164.30,407.20 164.65,407.20 165.00,407.20 165.35,407.20 165.70,407.20 166.05,407.20 166.40,407.20 166.75,407.20 167.10,407.20 167.45,407.20 167.80,407.20 168.15,407.20 168.50,407.20 168.85,407.20 169.20,407.20 169.55,407.20 169.90,407.20 170.25,407.20 170.60,407.20 170.95,407.20 171.30,407.20 171.65,407.20 172.00,407.20 172.35,407.20 172.70,407.20 173.05,407.20 173.40,407.20 173.75,407.20 174.10,407.20 174.45,407.20 174.80,407.20 175.15,407.19 175.50,407.18 175.85,407.16 176.20,407.11 176.55,407.02 176.90,406.86 177.25,406.60 177.60,406.20 177.95,405.64 178.30,404.89 178.65,404.00 179.00,403.04 179.35,402.12 179.70,401.36 180.05,400.90 180.40,400.82 180.75,401.12 181.10,401.76 181.45,402.63 181.80,403.60 182.15,404.53 182.50,405.34 182.85,405.98 183.20,406.45 183.55,406.77 183.90,406.97 184.25,407.08 184.60,407.14 184.95,407.17 185.30,407.19 185.65,407.20 186.00,407.20 186.35,407.20 186.70,407.20 187.05,407.20 187.40,407.20 187.75,407.20 188.10,407.20 188.45,407.20 188.80,407.20 189.15,407.20 189.50,407.20 189.85,407.20 190.20,407.20" fill="none" stroke="#2a2a2a" stroke-width="0.75" stroke-linejoin="round"/>
<polyline points="56.50,407.20 56.85,407.20 57.20,407.20 57.55,407.20 57.90,407.20 58.25,407.20 58.60,407.20 58.95,407.20 59.30,407.20 59.65,407.20 60.00,407.20 60.35,407.20 60.70,407.20 61.05,407.20 61.40,407.20 61.75,407.20 62.10,407.20 62.45,407.20 62.80,407.20 63.15,407.19 63.50,407.18 63.85,407.16 64.20,407.12 64.55,407.03 64.90,406.87 65.25,406.59 65.60,406.15 65.95,405.49 66.30,404.58 66.65,403.44 67.00,402.13 67.35,400.78 67.70,399.56 68.05,398.65 68.40,398.22 68.75,398.34 69.10,398.99 69.45,400.05 69.80,401.35 70.15,402.71 70.50,403.96 70.85,405.00 71.20,405.80 71.55,406.36 71.90,406.73 72.25,406.95 72.60,407.08 72.95,407.14 73.30,407.17 73.65,407.19 74.00,407.20 74.35,407.20 74.70,407.20 75.05,407.20 75.40,407.20 75.75,407.19 76.10,407.18 76.45,407.16 76.80,407.12 77.15,407.04 77.50,406.89 77.85,406.64 78.20,406.25 78.55,405.69 78.90,404.93 79.25,404.00 79.60,402.95 79.95,401.92 80.30,401.02 80.65,400.42 81.00,400.20 81.35,400.42 81.70,401.02 82.05,401.92 82.40,402.95 82.75,404.00 83.10,404.93 83.45,405.69 83.80,406.25 84.15,406.64 84.50,406.89 84.85,407.04 85.20,407.12 85.55,407.16 85.90,407.18 86.25,407.19 86.60,407.19 86.95,407.19 87.30,407.17 87.65,407.12 88.00,407.04 88.35,406.89 88.70,406.62 89.05,406.18 89.40,405.52 89.75,404.62 90.10,403.46 90.45,402.11 90.80,400.69 91.15,399.38 91.50,398.38 91.85,397.85 92.20,397.90 92.55,398.50 92.90,399.55 93.25,400.89 93.60,402.31 93.95,403.64 94.30,404.76 94.65,405.63 95.00,406.25 95.35,406.66 95.70,406.91 96.05,407.06 96.40,407.13 96.75,407.17 97.10,407.19 97.45,407.20 97.80,407.20 98.15,407.20 98.50,407.20 98.85,407.20 99.20,407.20 99.55,407.20 99.90,407.20 100.25,407.20 100.60,407.20 100.95,407.20 101.30,407.20 101.65,407.20 102.00,407.20 102.35,407.20 102.70,407.20 103.05,407.20 103.40,407.20 103.75,407.20 104.10,407.19 104.45,407.19 104.80,407.17 105.15,407.13 105.50,407.04 105.85,406.89 106.20,406.63 106.55,406.20 106.90,405.56 107.25,404.67 107.60,403.54 107.95,402.22 108.30,400.83 108.65,399.55 109.00,398.57 109.35,398.05 109.70,398.09 110.05,398.68 110.40,399.72 110.75,401.02 111.10,402.41 111.45,403.71 111.80,404.81 112.15,405.67 112.50,406.27 112.85,406.67 113.20,406.92 113.55,407.06 113.90,407.13 114.25,407.17 114.60,407.19 114.95,407.20 115.30,407.20 115.65,407.20 116.00,407.20 116.35,407.20 116.70,407.20 117.05,407.20 117.40,407.20 117.75,407.20 118.10,407.20 118.45,407.20 118.80,407.20 119.15,407.20 119.50,407.20 119.85,407.20 120.20,407.20 120.55,407.20 120.90,407.20 121.25,407.20 121.60,407.20 121.95,407.20 122.30,407.20 122.65,407.20 123.00,407.20 123.35,407.20 123.70,407.20 124.05,407.20 124.40,407.20 124.75,407.20 125.10,407.20 125.45,407.20 125.80,407.20 126.15,407.20 126.50,407.20 126.85,407.20 127.20,407.20 127.55,407.20 127.90,407.20 128.25,407.20 128.60,407.20 128.95,407.20 129.30,407.20 129.65,407.20 130.00,407.20 130.35,407.20 130.70,407.20 131.05,407.20 131.40,407.20 131.75,407.20 132.10,407.20 132.45,407.20 132.80,407.20 133.15,407.20 133.50,407.20 133.85,407.20 134.20,407.20 134.55,407.20 134.90,407.20 135.25,407.20 135.60,407.19 135.95,407.19 136.30,407.17 136.65,407.13 137.00,407.04 137.35,406.89 137.70,406.63 138.05,406.20 138.40,405.56 138.75,404.67 139.10,403.54 139.45,402.22 139.80,400.83 140.15,399.55 140.50,398.57 140.85,398.05 141.20,398.09 141.55,398.68 141.90,399.72 142.25,401.02 142.60,402.41 142.95,403.71 143.30,404.81 143.65,405.67 144.00,406.27 144.35,406.67 144.70,406.92 145.05,407.06 145.40,407.13 145.75,407.17 146.10,407.18 146.45,407.18 146.80,407.16 147.15,407.12 147.50,407.04 147.85,406.89 148.20,406.62 148.55,406.18 148.90,405.52 149.25,404.62 149.60,403.46 149.95,402.11 150.30,400.69 150.65,399.38 151.00,398.38 151.35,397.85 151.70,397.90 152.05,398.50 152.40,399.55 152.75,400.89 153.10,402.31 153.45,403.64 153.80,404.76 154.15,405.63 154.50,406.25 154.85,406.66 155.20,406.91 155.55,407.06 155.90,407.13 156.25,407.17 156.60,407.19 156.95,407.20 157.30,407.20 157.65,407.20 158.00,407.20 158.35,407.20 158.70,407.20 159.05,407.20 159.40,407.20 159.75,407.20 160.10,407.20 160.45,407.20 160.80,407.20 161.15,407.20 161.50,407.20 161.85,407.20 162.20,407.20 162.55,407.20 162.90,407.19 163.25,407.18 163.60,407.16 163.95,407.12 164.30,407.03 164.65,406.88 165.00,406.61 165.35,406.19 165.70,405.58 166.05,404.74 166.40,403.70 166.75,402.52 167.10,401.32 167.45,400.27 167.80,399.52 168.15,399.21 168.50,399.38 168.85,400.02 169.20,401.00 169.55,402.17 169.90,403.37 170.25,404.46 170.60,405.36 170.95,406.04 171.30,406.51 171.65,406.82 172.00,407.00 172.35,407.10 172.70,407.15 173.05,407.18 173.40,407.19 173.75,407.20 174.10,407.20 174.45,407.20 174.80,407.20 175.15,407.20 175.50,407.20 175.85,407.20 176.20,407.20 176.55,407.20 176.90,407.20 177.25,407.20 177.60,407.20 177.95,407.20 178.30,407.20 178.65,407.20 179.00,407.20 179.35,407.20 179.70,407.20 180.05,407.20 180.40,407.20 180.75,407.20 181.10,407.20 181.45,407.20 181.80,407.19 182.15,407.18 182.50,407.16 182.85,407.11 183.20,407.02 183.55,406.86 183.90,406.60 184.25,406.18 184.60,405.59 184.95,404.80 185.30,403.85 185.65,402.80 186.00,401.78 186.35,400.92 186.70,400.36 187.05,400.20 187.40,400.48 187.75,401.14 188.10,402.06 188.45,403.11 188.80,404.14 189.15,405.05 189.50,405.78 189.85,406.32 190.20,406.69" fill="none" stroke="#c03a55" stroke-width="0.75" stroke-linejoin="round"/>
<line x1="56.50" y1="372.40" x2="190.50" y2="372.40" stroke="#9a3048" stroke-width="0.6"/>
<line x1="56.50" y1="407.30" x2="190.50" y2="407.30" stroke="#9a3048" stroke-width="0.6"/>
<rect x="77.7" y="339.0" width="6.3" height="70.2" fill="none" stroke="#d23a55" stroke-width="0.8"/>
<rect x="171.4" y="339.2" width="6.7" height="70.0" fill="none" stroke="#d23a55" stroke-width="0.8"/>
<text x="30.80" y="415.90" font-size="4.85" fill="#7a7a7a" font-family="'Liberation Mono', monospace">WT-</text>
<text x="22.00" y="430.90" font-size="4.85" fill="#7a7a7a" font-family="'Liberation Mono', monospace">D661Y-</text>
<text x="40.95" y="415.90" font-size="4.85" text-anchor="middle" fill="#7a7a7a" font-family="'Liberation Mono', monospace">A</text>
<text x="43.86" y="415.90" font-size="4.85" text-anchor="middle" fill="#7a7a7a" font-family="'Liberation Mono', monospace">T</text>
<text x="46.77" y="415.90" font-size="4.85" text-anchor="middle" fill="#7a7a7a" font-family="'Liberation Mono', monospace">G</text>
<text x="49.69" y="415.90" font-size="4.85" text-anchor="middle" fill="#7a7a7a" font-family="'Liberation Mono', monospace">G</text>
<text x="52.59" y="415.90" font-size="4.85" text-anchor="middle" fill="#7a7a7a" font-family="'Liberation Mono', monospace">G</text>
<text x="55.50" y="415.90" font-size="4.85" text-anchor="middle" fill="#7a7a7a" font-family="'Liberation Mono', monospace">C</text>
<text x="58.41" y="415.90" font-size="4.85" text-anchor="middle" fill="#7a7a7a" font-family="'Liberation Mono', monospace">T</text>
<text x="61.33" y="415.90" font-size="4.85" text-anchor="middle" fill="#7a7a7a" font-family="'Liberation Mono', monospace">A</text>
<text x="64.23" y="415.90" font-size="4.85" text-anchor="middle" fill="#7a7a7a" font-family="'Liberation Mono', monospace">T</text>
<text x="67.14" y="415.90" font-size="4.85" text-anchor="middle" fill="#7a7a7a" font-family="'Liberation Mono', monospace">A</text>
<text x="70.05" y="415.90" font-size="4.85" text-anchor="middle" fill="#7a7a7a" font-family="'Liberation Mono', monospace">A</text>
<text x="72.97" y="415.90" font-size="4.85" text-anchor="middle" fill="#7a7a7a" font-family="'Liberation Mono', monospace">G</text>
<text x="75.88" y="415.90" font-size="4.85" text-anchor="middle" fill="#7a7a7a" font-family="'Liberation Mono', monospace">A</text>
<text x="78.78" y="415.90" font-size="4.85" text-anchor="middle" fill="#7a7a7a" font-family="'Liberation Mono', monospace">T</text>
<text x="81.70" y="415.90" font-size="4.85" text-anchor="middle" fill="#5aa58a" font-family="'Liberation Mono', monospace">C</text>
<text x="84.61" y="415.90" font-size="4.85" text-anchor="middle" fill="#5aa58a" font-family="'Liberation Mono', monospace">A</text>
<text x="87.52" y="415.90" font-size="4.85" text-anchor="middle" fill="#5aa58a" font-family="'Liberation Mono', monospace">T</text>
<text x="90.42" y="415.90" font-size="4.85" text-anchor="middle" fill="#5aa58a" font-family="'Liberation Mono', monospace">G</text>
<text x="93.33" y="415.90" font-size="4.85" text-anchor="middle" fill="#e0607a" font-family="'Liberation Mono', monospace">G</text>
<text x="96.25" y="415.90" font-size="4.85" text-anchor="middle" fill="#e0607a" font-family="'Liberation Mono', monospace">A</text>
<text x="99.16" y="415.90" font-size="4.85" text-anchor="middle" fill="#e0607a" font-family="'Liberation Mono', monospace">T</text>
<text x="102.06" y="415.90" font-size="4.85" text-anchor="middle" fill="#7a7a7a" font-family="'Liberation Mono', monospace">G</text>
<text x="104.98" y="415.90" font-size="4.85" text-anchor="middle" fill="#7a7a7a" font-family="'Liberation Mono', monospace">C</text>
<text x="107.89" y="415.90" font-size="4.85" text-anchor="middle" fill="#7a7a7a" font-family="'Liberation Mono', monospace">T</text>
<text x="110.80" y="415.90" font-size="4.85" text-anchor="middle" fill="#7a7a7a" font-family="'Liberation Mono', monospace">A</text>
<text x="113.70" y="415.90" font-size="4.85" text-anchor="middle" fill="#7a7a7a" font-family="'Liberation Mono', monospace">C</text>
<text x="116.61" y="415.90" font-size="4.85" text-anchor="middle" fill="#7a7a7a" font-family="'Liberation Mono', monospace">C</text>
<text x="119.53" y="415.90" font-size="4.85" text-anchor="middle" fill="#7a7a7a" font-family="'Liberation Mono', monospace">A</text>
<text x="122.44" y="415.90" font-size="4.85" text-anchor="middle" fill="#7a7a7a" font-family="'Liberation Mono', monospace">A</text>
<text x="125.34" y="415.90" font-size="4.85" text-anchor="middle" fill="#7a7a7a" font-family="'Liberation Mono', monospace">T</text>
<text x="128.26" y="415.90" font-size="4.85" text-anchor="middle" fill="#7a7a7a" font-family="'Liberation Mono', monospace">A</text>
<text x="131.17" y="415.90" font-size="4.85" text-anchor="middle" fill="#7a7a7a" font-family="'Liberation Mono', monospace">T</text>
<text x="134.08" y="415.90" font-size="4.85" text-anchor="middle" fill="#7a7a7a" font-family="'Liberation Mono', monospace">C</text>
<text x="136.99" y="415.90" font-size="4.85" text-anchor="middle" fill="#7a7a7a" font-family="'Liberation Mono', monospace">C</text>
<text x="139.90" y="415.90" font-size="4.85" text-anchor="middle" fill="#7a7a7a" font-family="'Liberation Mono', monospace">T</text>
<text x="142.81" y="415.90" font-size="4.85" text-anchor="middle" fill="#d05070" font-family="'Liberation Mono', monospace">G</text>
<text x="145.72" y="415.90" font-size="4.85" text-anchor="middle" fill="#d05070" font-family="'Liberation Mono', monospace">G</text>
<text x="148.63" y="415.90" font-size="4.85" text-anchor="middle" fill="#d05070" font-family="'Liberation Mono', monospace">T</text>
<text x="151.54" y="415.90" font-size="4.85" text-anchor="middle" fill="#7a7a7a" font-family="'Liberation Mono', monospace">G</text>
<text x="154.45" y="415.90" font-size="4.85" text-anchor="middle" fill="#7a7a7a" font-family="'Liberation Mono', monospace">T</text>
<text x="157.36" y="415.90" font-size="4.85" text-anchor="middle" fill="#7a7a7a" font-family="'Liberation Mono', monospace">C</text>
<text x="160.27" y="415.90" font-size="4.85" text-anchor="middle" fill="#7a7a7a" font-family="'Liberation Mono', monospace">C</text>
<text x="163.18" y="415.90" font-size="4.85" text-anchor="middle" fill="#7a7a7a" font-family="'Liberation Mono', monospace">T</text>
<text x="166.09" y="415.90" font-size="4.85" text-anchor="middle" fill="#7a7a7a" font-family="'Liberation Mono', monospace">T</text>
<text x="169.00" y="415.90" font-size="4.85" text-anchor="middle" fill="#7a7a7a" font-family="'Liberation Mono', monospace">C</text>
<text x="171.91" y="415.90" font-size="4.85" text-anchor="middle" fill="#7a7a7a" font-family="'Liberation Mono', monospace">A</text>
<text x="174.82" y="415.90" font-size="4.85" text-anchor="middle" fill="#7a7a7a" font-family="'Liberation Mono', monospace">C</text>
<text x="177.73" y="415.90" font-size="4.85" text-anchor="middle" fill="#7a7a7a" font-family="'Liberation Mono', monospace">C</text>
<text x="180.64" y="415.90" font-size="4.85" text-anchor="middle" fill="#7a7a7a" font-family="'Liberation Mono', monospace">G</text>
<text x="183.55" y="415.90" font-size="4.85" text-anchor="middle" fill="#7a7a7a" font-family="'Liberation Mono', monospace">G</text>
<text x="186.46" y="415.90" font-size="4.85" text-anchor="middle" fill="#7a7a7a" font-family="'Liberation Mono', monospace">T</text>
<text x="189.37" y="415.90" font-size="4.85" text-anchor="middle" fill="#7a7a7a" font-family="'Liberation Mono', monospace">C</text>
<text x="40.95" y="430.90" font-size="4.85" text-anchor="middle" fill="#7a7a7a" font-family="'Liberation Mono', monospace">A</text>
<text x="43.86" y="430.90" font-size="4.85" text-anchor="middle" fill="#7a7a7a" font-family="'Liberation Mono', monospace">T</text>
<text x="46.77" y="430.90" font-size="4.85" text-anchor="middle" fill="#7a7a7a" font-family="'Liberation Mono', monospace">G</text>
<text x="49.69" y="430.90" font-size="4.85" text-anchor="middle" fill="#7a7a7a" font-family="'Liberation Mono', monospace">G</text>
<text x="52.59" y="430.90" font-size="4.85" text-anchor="middle" fill="#7a7a7a" font-family="'Liberation Mono', monospace">G</text>
<text x="55.50" y="430.90" font-size="4.85" text-anchor="middle" fill="#7a7a7a" font-family="'Liberation Mono', monospace">C</text>
<text x="58.41" y="430.90" font-size="4.85" text-anchor="middle" fill="#7a7a7a" font-family="'Liberation Mono', monospace">T</text>
<text x="61.33" y="430.90" font-size="4.85" text-anchor="middle" fill="#7a7a7a" font-family="'Liberation Mono', monospace">A</text>
<text x="64.23" y="430.90" font-size="4.85" text-anchor="middle" fill="#7a7a7a" font-family="'Liberation Mono', monospace">T</text>
<text x="67.14" y="430.90" font-size="4.85" text-anchor="middle" fill="#7a7a7a" font-family="'Liberation Mono', monospace">A</text>
<text x="70.05" y="430.90" font-size="4.85" text-anchor="middle" fill="#7a7a7a" font-family="'Liberation Mono', monospace">A</text>
<text x="72.97" y="430.90" font-size="4.85" text-anchor="middle" fill="#7a7a7a" font-family="'Liberation Mono', monospace">G</text>
<text x="75.88" y="430.90" font-size="4.85" text-anchor="middle" fill="#7a7a7a" font-family="'Liberation Mono', monospace">A</text>
<text x="78.78" y="430.90" font-size="4.85" text-anchor="middle" fill="#7a7a7a" font-family="'Liberation Mono', monospace">T</text>
<text x="81.70" y="430.90" font-size="4.85" text-anchor="middle" fill="#5aa58a" font-family="'Liberation Mono', monospace">C</text>
<text x="84.61" y="430.90" font-size="4.85" text-anchor="middle" fill="#5aa58a" font-family="'Liberation Mono', monospace">A</text>
<text x="87.52" y="430.90" font-size="4.85" text-anchor="middle" fill="#5aa58a" font-family="'Liberation Mono', monospace">T</text>
<text x="90.42" y="430.90" font-size="4.85" text-anchor="middle" fill="#5aa58a" font-family="'Liberation Mono', monospace">G</text>
<text x="93.33" y="430.90" font-size="4.85" text-anchor="middle" fill="#e0607a" font-family="'Liberation Mono', monospace">T</text>
<text x="96.25" y="430.90" font-size="4.85" text-anchor="middle" fill="#e0607a" font-family="'Liberation Mono', monospace">A</text>
<text x="99.16" y="430.90" font-size="4.85" text-anchor="middle" fill="#e0607a" font-family="'Liberation Mono', monospace">T</text>
<text x="102.06" y="430.90" font-size="4.85" text-anchor="middle" fill="#7a7a7a" font-family="'Liberation Mono', monospace">G</text>
<text x="104.98" y="430.90" font-size="4.85" text-anchor="middle" fill="#7a7a7a" font-family="'Liberation Mono', monospace">C</text>
<text x="107.89" y="430.90" font-size="4.85" text-anchor="middle" fill="#7a7a7a" font-family="'Liberation Mono', monospace">T</text>
<text x="110.80" y="430.90" font-size="4.85" text-anchor="middle" fill="#7a7a7a" font-family="'Liberation Mono', monospace">A</text>
<text x="113.70" y="430.90" font-size="4.85" text-anchor="middle" fill="#7a7a7a" font-family="'Liberation Mono', monospace">C</text>
<text x="116.61" y="430.90" font-size="4.85" text-anchor="middle" fill="#7a7a7a" font-family="'Liberation Mono', monospace">C</text>
<text x="119.53" y="430.90" font-size="4.85" text-anchor="middle" fill="#7a7a7a" font-family="'Liberation Mono', monospace">A</text>
<text x="122.44" y="430.90" font-size="4.85" text-anchor="middle" fill="#7a7a7a" font-family="'Liberation Mono', monospace">A</text>
<text x="125.34" y="430.90" font-size="4.85" text-anchor="middle" fill="#7a7a7a" font-family="'Liberation Mono', monospace">T</text>
<text x="128.26" y="430.90" font-size="4.85" text-anchor="middle" fill="#7a7a7a" font-family="'Liberation Mono', monospace">A</text>
<text x="131.17" y="430.90" font-size="4.85" text-anchor="middle" fill="#7a7a7a" font-family="'Liberation Mono', monospace">T</text>
<text x="134.08" y="430.90" font-size="4.85" text-anchor="middle" fill="#7a7a7a" font-family="'Liberation Mono', monospace">C</text>
<text x="136.99" y="430.90" font-size="4.85" text-anchor="middle" fill="#7a7a7a" font-family="'Liberation Mono', monospace">C</text>
<text x="139.90" y="430.90" font-size="4.85" text-anchor="middle" fill="#7a7a7a" font-family="'Liberation Mono', monospace">T</text>
<text x="142.81" y="430.90" font-size="4.85" text-anchor="middle" fill="#d05070" font-family="'Liberation Mono', monospace">C</text>
<text x="145.72" y="430.90" font-size="4.85" text-anchor="middle" fill="#d05070" font-family="'Liberation Mono', monospace">G</text>
<text x="148.63" y="430.90" font-size="4.85" text-anchor="middle" fill="#d05070" font-family="'Liberation Mono', monospace">T</text>
<text x="151.54" y="430.90" font-size="4.85" text-anchor="middle" fill="#7a7a7a" font-family="'Liberation Mono', monospace">G</text>
<text x="154.45" y="430.90" font-size="4.85" text-anchor="middle" fill="#7a7a7a" font-family="'Liberation Mono', monospace">T</text>
<text x="157.36" y="430.90" font-size="4.85" text-anchor="middle" fill="#7a7a7a" font-family="'Liberation Mono', monospace">C</text>
<text x="160.27" y="430.90" font-size="4.85" text-anchor="middle" fill="#7a7a7a" font-family="'Liberation Mono', monospace">C</text>
<text x="163.18" y="430.90" font-size="4.85" text-anchor="middle" fill="#7a7a7a" font-family="'Liberation Mono', monospace">T</text>
<text x="166.09" y="430.90" font-size="4.85" text-anchor="middle" fill="#7a7a7a" font-family="'Liberation Mono', monospace">T</text>
<text x="169.00" y="430.90" font-size="4.85" text-anchor="middle" fill="#7a7a7a" font-family="'Liberation Mono', monospace">C</text>
<text x="171.91" y="430.90" font-size="4.85" text-anchor="middle" fill="#7a7a7a" font-family="'Liberation Mono', monospace">A</text>
<text x="174.82" y="430.90" font-size="4.85" text-anchor="middle" fill="#7a7a7a" font-family="'Liberation Mono', monospace">C</text>
<text x="177.73" y="430.90" font-size="4.85" text-anchor="middle" fill="#7a7a7a" font-family="'Liberation Mono', monospace">C</text>
<text x="180.64" y="430.90" font-size="4.85" text-anchor="middle" fill="#7a7a7a" font-family="'Liberation Mono', monospace">G</text>
<text x="183.55" y="430.90" font-size="4.85" text-anchor="middle" fill="#7a7a7a" font-family="'Liberation Mono', monospace">G</text>
<text x="186.46" y="430.90" font-size="4.85" text-anchor="middle" fill="#7a7a7a" font-family="'Liberation Mono', monospace">T</text>
<text x="189.37" y="430.90" font-size="4.85" text-anchor="middle" fill="#7a7a7a" font-family="'Liberation Mono', monospace">C</text>
<text x="30.80" y="423.00" font-size="4.85" fill="#7a7a7a" font-family="'Liberation Mono', monospace">WT-</text>
<text x="22.00" y="437.30" font-size="4.85" fill="#7a7a7a" font-family="'Liberation Mono', monospace">D661Y-</text>
<text x="43.90" y="423.00" font-size="4.85" text-anchor="middle" fill="#7a7a7a" font-family="'Liberation Serif', serif">M</text>
<text x="52.63" y="423.00" font-size="4.85" text-anchor="middle" fill="#7a7a7a" font-family="'Liberation Serif', serif">G</text>
<text x="61.36" y="423.00" font-size="4.85" text-anchor="middle" fill="#7a7a7a" font-family="'Liberation Serif', serif">Y</text>
<text x="70.09" y="423.00" font-size="4.85" text-anchor="middle" fill="#7a7a7a" font-family="'Liberation Serif', serif">R</text>
<text x="78.82" y="423.00" font-size="4.85" text-anchor="middle" fill="#7a7a7a" font-family="'Liberation Serif', serif">I</text>
<text x="87.55" y="423.00" font-size="4.85" text-anchor="middle" fill="#7a7a7a" font-family="'Liberation Serif', serif">N</text>
<text x="96.28" y="423.00" font-size="4.85" text-anchor="middle" fill="#e0607a" font-family="'Liberation Serif', serif">D</text>
<text x="105.01" y="423.00" font-size="4.85" text-anchor="middle" fill="#7a7a7a" font-family="'Liberation Serif', serif">A</text>
<text x="113.74" y="423.00" font-size="4.85" text-anchor="middle" fill="#7a7a7a" font-family="'Liberation Serif', serif">T</text>
<text x="122.47" y="423.00" font-size="4.85" text-anchor="middle" fill="#7a7a7a" font-family="'Liberation Serif', serif">N</text>
<text x="131.20" y="423.00" font-size="4.85" text-anchor="middle" fill="#7a7a7a" font-family="'Liberation Serif', serif">I</text>
<text x="139.93" y="423.00" font-size="4.85" text-anchor="middle" fill="#7a7a7a" font-family="'Liberation Serif', serif">L</text>
<text x="148.66" y="423.00" font-size="4.85" text-anchor="middle" fill="#7a7a7a" font-family="'Liberation Serif', serif">V</text>
<text x="157.39" y="423.00" font-size="4.85" text-anchor="middle" fill="#7a7a7a" font-family="'Liberation Serif', serif">S</text>
<text x="166.12" y="423.00" font-size="4.85" text-anchor="middle" fill="#7a7a7a" font-family="'Liberation Serif', serif">P</text>
<text x="174.85" y="423.00" font-size="4.85" text-anchor="middle" fill="#7a7a7a" font-family="'Liberation Serif', serif">L</text>
<text x="183.58" y="423.00" font-size="4.85" text-anchor="middle" fill="#7a7a7a" font-family="'Liberation Serif', serif">V</text>
<text x="43.90" y="437.30" font-size="4.85" text-anchor="middle" fill="#7a7a7a" font-family="'Liberation Serif', serif">M</text>
<text x="52.63" y="437.30" font-size="4.85" text-anchor="middle" fill="#7a7a7a" font-family="'Liberation Serif', serif">G</text>
<text x="61.36" y="437.30" font-size="4.85" text-anchor="middle" fill="#7a7a7a" font-family="'Liberation Serif', serif">Y</text>
<text x="70.09" y="437.30" font-size="4.85" text-anchor="middle" fill="#7a7a7a" font-family="'Liberation Serif', serif">R</text>
<text x="78.82" y="437.30" font-size="4.85" text-anchor="middle" fill="#7a7a7a" font-family="'Liberation Serif', serif">I</text>
<text x="87.55" y="437.30" font-size="4.85" text-anchor="middle" fill="#7a7a7a" font-family="'Liberation Serif', serif">N</text>
<text x="96.28" y="437.30" font-size="4.85" text-anchor="middle" fill="#e0607a" font-family="'Liberation Serif', serif">Y</text>
<text x="105.01" y="437.30" font-size="4.85" text-anchor="middle" fill="#7a7a7a" font-family="'Liberation Serif', serif">A</text>
<text x="113.74" y="437.30" font-size="4.85" text-anchor="middle" fill="#7a7a7a" font-family="'Liberation Serif', serif">T</text>
<text x="122.47" y="437.30" font-size="4.85" text-anchor="middle" fill="#7a7a7a" font-family="'Liberation Serif', serif">N</text>
<text x="131.20" y="437.30" font-size="4.85" text-anchor="middle" fill="#7a7a7a" font-family="'Liberation Serif', serif">I</text>
<text x="139.93" y="437.30" font-size="4.85" text-anchor="middle" fill="#7a7a7a" font-family="'Liberation Serif', serif">L</text>
<text x="148.66" y="437.30" font-size="4.85" text-anchor="middle" fill="#7a7a7a" font-family="'Liberation Serif', serif">V</text>
<text x="157.39" y="437.30" font-size="4.85" text-anchor="middle" fill="#7a7a7a" font-family="'Liberation Serif', serif">S</text>
<text x="166.12" y="437.30" font-size="4.85" text-anchor="middle" fill="#7a7a7a" font-family="'Liberation Serif', serif">P</text>
<text x="174.85" y="437.30" font-size="4.85" text-anchor="middle" fill="#7a7a7a" font-family="'Liberation Serif', serif">L</text>
<text x="183.58" y="437.30" font-size="4.85" text-anchor="middle" fill="#7a7a7a" font-family="'Liberation Serif', serif">V</text>
<text x="43.90" y="444.90" font-size="4.85" text-anchor="middle" fill="#7a7a7a" font-family="'Liberation Serif', serif">655</text>
<text x="61.36" y="444.90" font-size="4.85" text-anchor="middle" fill="#7a7a7a" font-family="'Liberation Serif', serif">657</text>
<text x="78.82" y="444.90" font-size="4.85" text-anchor="middle" fill="#7a7a7a" font-family="'Liberation Serif', serif">659</text>
<text x="96.28" y="444.90" font-size="4.85" text-anchor="middle" fill="#7a7a7a" font-family="'Liberation Serif', serif">661</text>
<text x="113.74" y="444.90" font-size="4.85" text-anchor="middle" fill="#7a7a7a" font-family="'Liberation Serif', serif">663</text>
<text x="131.20" y="444.90" font-size="4.85" text-anchor="middle" fill="#7a7a7a" font-family="'Liberation Serif', serif">665</text>
<text x="148.66" y="444.90" font-size="4.85" text-anchor="middle" fill="#7a7a7a" font-family="'Liberation Serif', serif">667</text>
<text x="166.12" y="444.90" font-size="4.85" text-anchor="middle" fill="#7a7a7a" font-family="'Liberation Serif', serif">669</text>
<text x="183.58" y="444.90" font-size="4.85" text-anchor="middle" fill="#7a7a7a" font-family="'Liberation Serif', serif">671</text>
<line x1="141.35" y1="417.00" x2="150.08" y2="417.00" stroke="#d05070" stroke-width="0.4"/>
<line x1="141.35" y1="432.00" x2="150.08" y2="432.00" stroke="#d05070" stroke-width="0.4"/>
<line x1="247.00" y1="322.06" x2="247.00" y2="434.30" stroke="#333" stroke-width="1.2"/>
<line x1="246.40" y1="431.30" x2="348.20" y2="431.30" stroke="#333" stroke-width="1.2"/>
<line x1="244.20" y1="431.30" x2="247.00" y2="431.30" stroke="#231f20" stroke-width="0.9"/>
<text x="240.50" y="433.60" font-size="6.6" text-anchor="end" fill="#333" stroke="#333" stroke-width="0.12" textLength="3.23" lengthAdjust="spacingAndGlyphs">0</text>
<line x1="244.20" y1="413.56" x2="247.00" y2="413.56" stroke="#231f20" stroke-width="0.9"/>
<text x="240.50" y="415.86" font-size="6.6" text-anchor="end" fill="#333" stroke="#333" stroke-width="0.12" textLength="6.46" lengthAdjust="spacingAndGlyphs">20</text>
<line x1="244.20" y1="395.82" x2="247.00" y2="395.82" stroke="#231f20" stroke-width="0.9"/>
<text x="240.50" y="398.12" font-size="6.6" text-anchor="end" fill="#333" stroke="#333" stroke-width="0.12" textLength="6.46" lengthAdjust="spacingAndGlyphs">40</text>
<line x1="244.20" y1="378.08" x2="247.00" y2="378.08" stroke="#231f20" stroke-width="0.9"/>
<text x="240.50" y="380.38" font-size="6.6" text-anchor="end" fill="#333" stroke="#333" stroke-width="0.12" textLength="6.46" lengthAdjust="spacingAndGlyphs">60</text>
<line x1="244.20" y1="360.34" x2="247.00" y2="360.34" stroke="#231f20" stroke-width="0.9"/>
<text x="240.50" y="362.64" font-size="6.6" text-anchor="end" fill="#333" stroke="#333" stroke-width="0.12" textLength="6.46" lengthAdjust="spacingAndGlyphs">80</text>
<line x1="244.20" y1="342.60" x2="247.00" y2="342.60" stroke="#231f20" stroke-width="0.9"/>
<text x="240.50" y="344.90" font-size="6.6" text-anchor="end" fill="#333" stroke="#333" stroke-width="0.12" textLength="9.69" lengthAdjust="spacingAndGlyphs">100</text>
<line x1="244.20" y1="324.86" x2="247.00" y2="324.86" stroke="#231f20" stroke-width="0.9"/>
<text x="240.50" y="327.16" font-size="6.6" text-anchor="end" fill="#333" stroke="#333" stroke-width="0.12" textLength="9.69" lengthAdjust="spacingAndGlyphs">120</text>
<line x1="266.90" y1="431.30" x2="266.90" y2="434.10" stroke="#231f20" stroke-width="0.9"/>
<line x1="287.10" y1="431.30" x2="287.10" y2="434.10" stroke="#231f20" stroke-width="0.9"/>
<line x1="306.90" y1="431.30" x2="306.90" y2="434.10" stroke="#231f20" stroke-width="0.9"/>
<line x1="327.00" y1="431.30" x2="327.00" y2="434.10" stroke="#231f20" stroke-width="0.9"/>
<line x1="347.10" y1="431.30" x2="347.10" y2="434.10" stroke="#231f20" stroke-width="0.9"/>
<text x="257.00" y="442.50" font-size="6.6" text-anchor="middle" fill="#333" stroke="#333" stroke-width="0.12">0</text>
<text x="277.20" y="442.50" font-size="6.6" text-anchor="middle" fill="#333" stroke="#333" stroke-width="0.12">3</text>
<text x="297.20" y="442.50" font-size="6.6" text-anchor="middle" fill="#333" stroke="#333" stroke-width="0.12">6</text>
<text x="317.10" y="442.50" font-size="6.6" text-anchor="middle" fill="#333" stroke="#333" stroke-width="0.12">9</text>
<text x="337.20" y="442.50" font-size="6.6" text-anchor="middle" fill="#333" stroke="#333" stroke-width="0.12">12</text>
<text x="259.10" y="455.00" font-size="7.6" fill="#333" stroke="#333" stroke-width="0.12" textLength="73.00" lengthAdjust="spacingAndGlyphs">sgRNA induction (days)</text>
<text x="224.40" y="423.20" font-size="8.4" fill="#333" stroke="#333" stroke-width="0.12" textLength="102.00" lengthAdjust="spacingAndGlyphs" transform="rotate(-90 224.40 423.20)">Viable sgRNA+ cells (% day 0)</text>
<line x1="257.00" y1="346.15" x2="257.00" y2="339.05" stroke="#888" stroke-width="0.7"/>
<line x1="255.80" y1="346.15" x2="258.20" y2="346.15" stroke="#888" stroke-width="0.7"/>
<line x1="255.80" y1="339.05" x2="258.20" y2="339.05" stroke="#888" stroke-width="0.7"/>
<line x1="317.10" y1="348.81" x2="317.10" y2="339.05" stroke="#999" stroke-width="0.7"/>
<line x1="315.90" y1="348.81" x2="318.30" y2="348.81" stroke="#999" stroke-width="0.7"/>
<line x1="315.90" y1="339.05" x2="318.30" y2="339.05" stroke="#999" stroke-width="0.7"/>
<line x1="277.20" y1="356.79" x2="277.20" y2="349.70" stroke="#47a0d2" stroke-width="0.7"/>
<line x1="276.00" y1="356.79" x2="278.40" y2="356.79" stroke="#47a0d2" stroke-width="0.7"/>
<line x1="276.00" y1="349.70" x2="278.40" y2="349.70" stroke="#47a0d2" stroke-width="0.7"/>
<polyline points="257.00,342.60 277.20,347.04 297.20,347.92 317.10,345.26 337.20,344.82" fill="none" stroke="#a79ccc" stroke-width="1.2" stroke-linejoin="round"/>
<circle cx="257.00" cy="342.60" r="1.7" fill="#a79ccc"/>
<circle cx="277.20" cy="347.04" r="1.7" fill="#a79ccc"/>
<circle cx="297.20" cy="347.92" r="1.7" fill="#a79ccc"/>
<circle cx="317.10" cy="345.26" r="1.7" fill="#a79ccc"/>
<circle cx="337.20" cy="344.82" r="1.7" fill="#a79ccc"/>
<polyline points="257.00,342.60 277.20,347.92 297.20,350.58 317.10,345.70 337.20,341.27" fill="none" stroke="#4e5266" stroke-width="1.2" stroke-linejoin="round"/>
<circle cx="257.00" cy="342.60" r="1.7" fill="#4e5266"/>
<circle cx="277.20" cy="347.92" r="1.7" fill="#4e5266"/>
<circle cx="297.20" cy="350.58" r="1.7" fill="#4e5266"/>
<circle cx="317.10" cy="345.70" r="1.7" fill="#4e5266"/>
<circle cx="337.20" cy="341.27" r="1.7" fill="#4e5266"/>
<polyline points="257.00,342.60 277.20,352.36 297.20,386.60 317.10,406.64 337.20,417.11" fill="none" stroke="#47a0d2" stroke-width="1.2" stroke-linejoin="round"/>
<circle cx="257.00" cy="342.60" r="1.7" fill="#47a0d2"/>
<circle cx="277.20" cy="352.36" r="1.7" fill="#47a0d2"/>
<circle cx="297.20" cy="386.60" r="1.7" fill="#47a0d2"/>
<circle cx="317.10" cy="406.64" r="1.7" fill="#47a0d2"/>
<circle cx="337.20" cy="417.11" r="1.7" fill="#47a0d2"/>
<polyline points="257.00,342.60 277.20,349.70 297.20,367.44 317.10,384.29 337.20,409.12" fill="none" stroke="#1c3a6c" stroke-width="1.2" stroke-linejoin="round"/>
<circle cx="257.00" cy="342.60" r="1.7" fill="#1c3a6c"/>
<circle cx="277.20" cy="349.70" r="1.7" fill="#1c3a6c"/>
<circle cx="297.20" cy="367.44" r="1.7" fill="#1c3a6c"/>
<circle cx="317.10" cy="384.29" r="1.7" fill="#1c3a6c"/>
<circle cx="337.20" cy="409.12" r="1.7" fill="#1c3a6c"/>
<polyline points="257.00,342.60 277.20,344.37 297.20,355.91 317.10,365.66 337.20,378.52" fill="none" stroke="#da8a3c" stroke-width="1.2" stroke-linejoin="round"/>
<circle cx="257.00" cy="342.60" r="1.7" fill="#da8a3c"/>
<circle cx="277.20" cy="344.37" r="1.7" fill="#da8a3c"/>
<circle cx="297.20" cy="355.91" r="1.7" fill="#da8a3c"/>
<circle cx="317.10" cy="365.66" r="1.7" fill="#da8a3c"/>
<circle cx="337.20" cy="378.52" r="1.7" fill="#da8a3c"/>
<polyline points="257.00,342.60 277.20,336.66 297.20,339.76 317.10,361.23 337.20,374.71" fill="none" stroke="#b8122c" stroke-width="1.2" stroke-linejoin="round"/>
<circle cx="257.00" cy="342.60" r="1.7" fill="#b8122c"/>
<circle cx="277.20" cy="336.66" r="1.7" fill="#b8122c"/>
<circle cx="297.20" cy="339.76" r="1.7" fill="#b8122c"/>
<circle cx="317.10" cy="361.23" r="1.7" fill="#b8122c"/>
<circle cx="337.20" cy="374.71" r="1.7" fill="#b8122c"/>
<circle cx="275.30" cy="331.50" r="1.0" fill="#3a2a30"/><circle cx="278.70" cy="331.50" r="1.0" fill="#3a2a30"/>
<circle cx="295.50" cy="334.80" r="1.0" fill="#3a2a30"/><circle cx="298.90" cy="334.80" r="1.0" fill="#3a2a30"/>
<circle cx="315.40" cy="356.30" r="1.0" fill="#3a2a30"/><circle cx="318.80" cy="356.30" r="1.0" fill="#3a2a30"/>
<circle cx="335.60" cy="370.30" r="1.0" fill="#3a2a30"/><circle cx="339.00" cy="370.30" r="1.0" fill="#3a2a30"/>
<text x="373.00" y="339.90" font-size="6.8" text-anchor="middle" fill="#2a2a2a" stroke="#2a2a2a" stroke-width="0.12" textLength="23.90" lengthAdjust="spacingAndGlyphs">parental</text>
<line x1="352.20" y1="342.50" x2="400.00" y2="342.50" stroke="#222" stroke-width="0.9"/>
<line x1="352.30" y1="347.90" x2="360.30" y2="347.90" stroke="#4e5266" stroke-width="1.1"/>
<circle cx="356.3" cy="347.9" r="1.7" fill="#4e5266"/>
<text x="363.60" y="350.10" font-size="5.8" fill="#2a2a2a" stroke="#2a2a2a" stroke-width="0.12" textLength="20.40" lengthAdjust="spacingAndGlyphs">sgCTRL</text>
<line x1="352.30" y1="356.50" x2="360.30" y2="356.50" stroke="#1c3a6c" stroke-width="1.1"/>
<circle cx="356.3" cy="356.5" r="1.7" fill="#1c3a6c"/>
<text x="363.60" y="358.50" font-size="5.8" fill="#2a2a2a" stroke="#2a2a2a" stroke-width="0.12" textLength="34.60" lengthAdjust="spacingAndGlyphs">sgMYD88 #1</text>
<line x1="352.30" y1="365.20" x2="360.30" y2="365.20" stroke="#47a0d2" stroke-width="1.1"/>
<circle cx="356.3" cy="365.2" r="1.7" fill="#47a0d2"/>
<text x="363.60" y="367.30" font-size="5.8" fill="#2a2a2a" stroke="#2a2a2a" stroke-width="0.12" textLength="34.60" lengthAdjust="spacingAndGlyphs">sgMYD88 #2</text>
<line x1="352.30" y1="403.70" x2="360.30" y2="403.70" stroke="#a79ccc" stroke-width="1.1"/>
<circle cx="356.3" cy="403.7" r="1.7" fill="#a79ccc"/>
<text x="363.60" y="405.80" font-size="5.8" fill="#2a2a2a" stroke="#2a2a2a" stroke-width="0.12" textLength="20.80" lengthAdjust="spacingAndGlyphs">sgCTRL</text>
<line x1="352.30" y1="412.40" x2="360.30" y2="412.40" stroke="#da8a3c" stroke-width="1.1"/>
<circle cx="356.3" cy="412.4" r="1.7" fill="#da8a3c"/>
<text x="363.60" y="414.40" font-size="5.8" fill="#2a2a2a" stroke="#2a2a2a" stroke-width="0.12" textLength="34.80" lengthAdjust="spacingAndGlyphs">sgMYD88 #1</text>
<line x1="352.30" y1="420.20" x2="360.30" y2="420.20" stroke="#b8122c" stroke-width="1.1"/>
<circle cx="356.3" cy="420.2" r="1.7" fill="#b8122c"/>
<text x="363.60" y="422.20" font-size="5.8" fill="#2a2a2a" stroke="#2a2a2a" stroke-width="0.12" textLength="34.80" lengthAdjust="spacingAndGlyphs">sgMYD88 #2</text>
<text x="376.00" y="389.90" font-size="7.2" text-anchor="middle" fill="#2a2a2a" stroke="#2a2a2a" stroke-width="0.12" textLength="40.50" lengthAdjust="spacingAndGlyphs">STAT3 D661Y</text>
<text x="375.70" y="395.60" font-size="6.8" text-anchor="middle" fill="#2a2a2a" stroke="#2a2a2a" stroke-width="0.12" textLength="24.60" lengthAdjust="spacingAndGlyphs">knock-in</text>
<line x1="352.20" y1="398.50" x2="400.00" y2="398.50" stroke="#222" stroke-width="0.9"/>
<rect x="0.5" y="0.5" width="519" height="464" fill="none" stroke="#505050" stroke-width="1"/>
</svg>
</body></html>
